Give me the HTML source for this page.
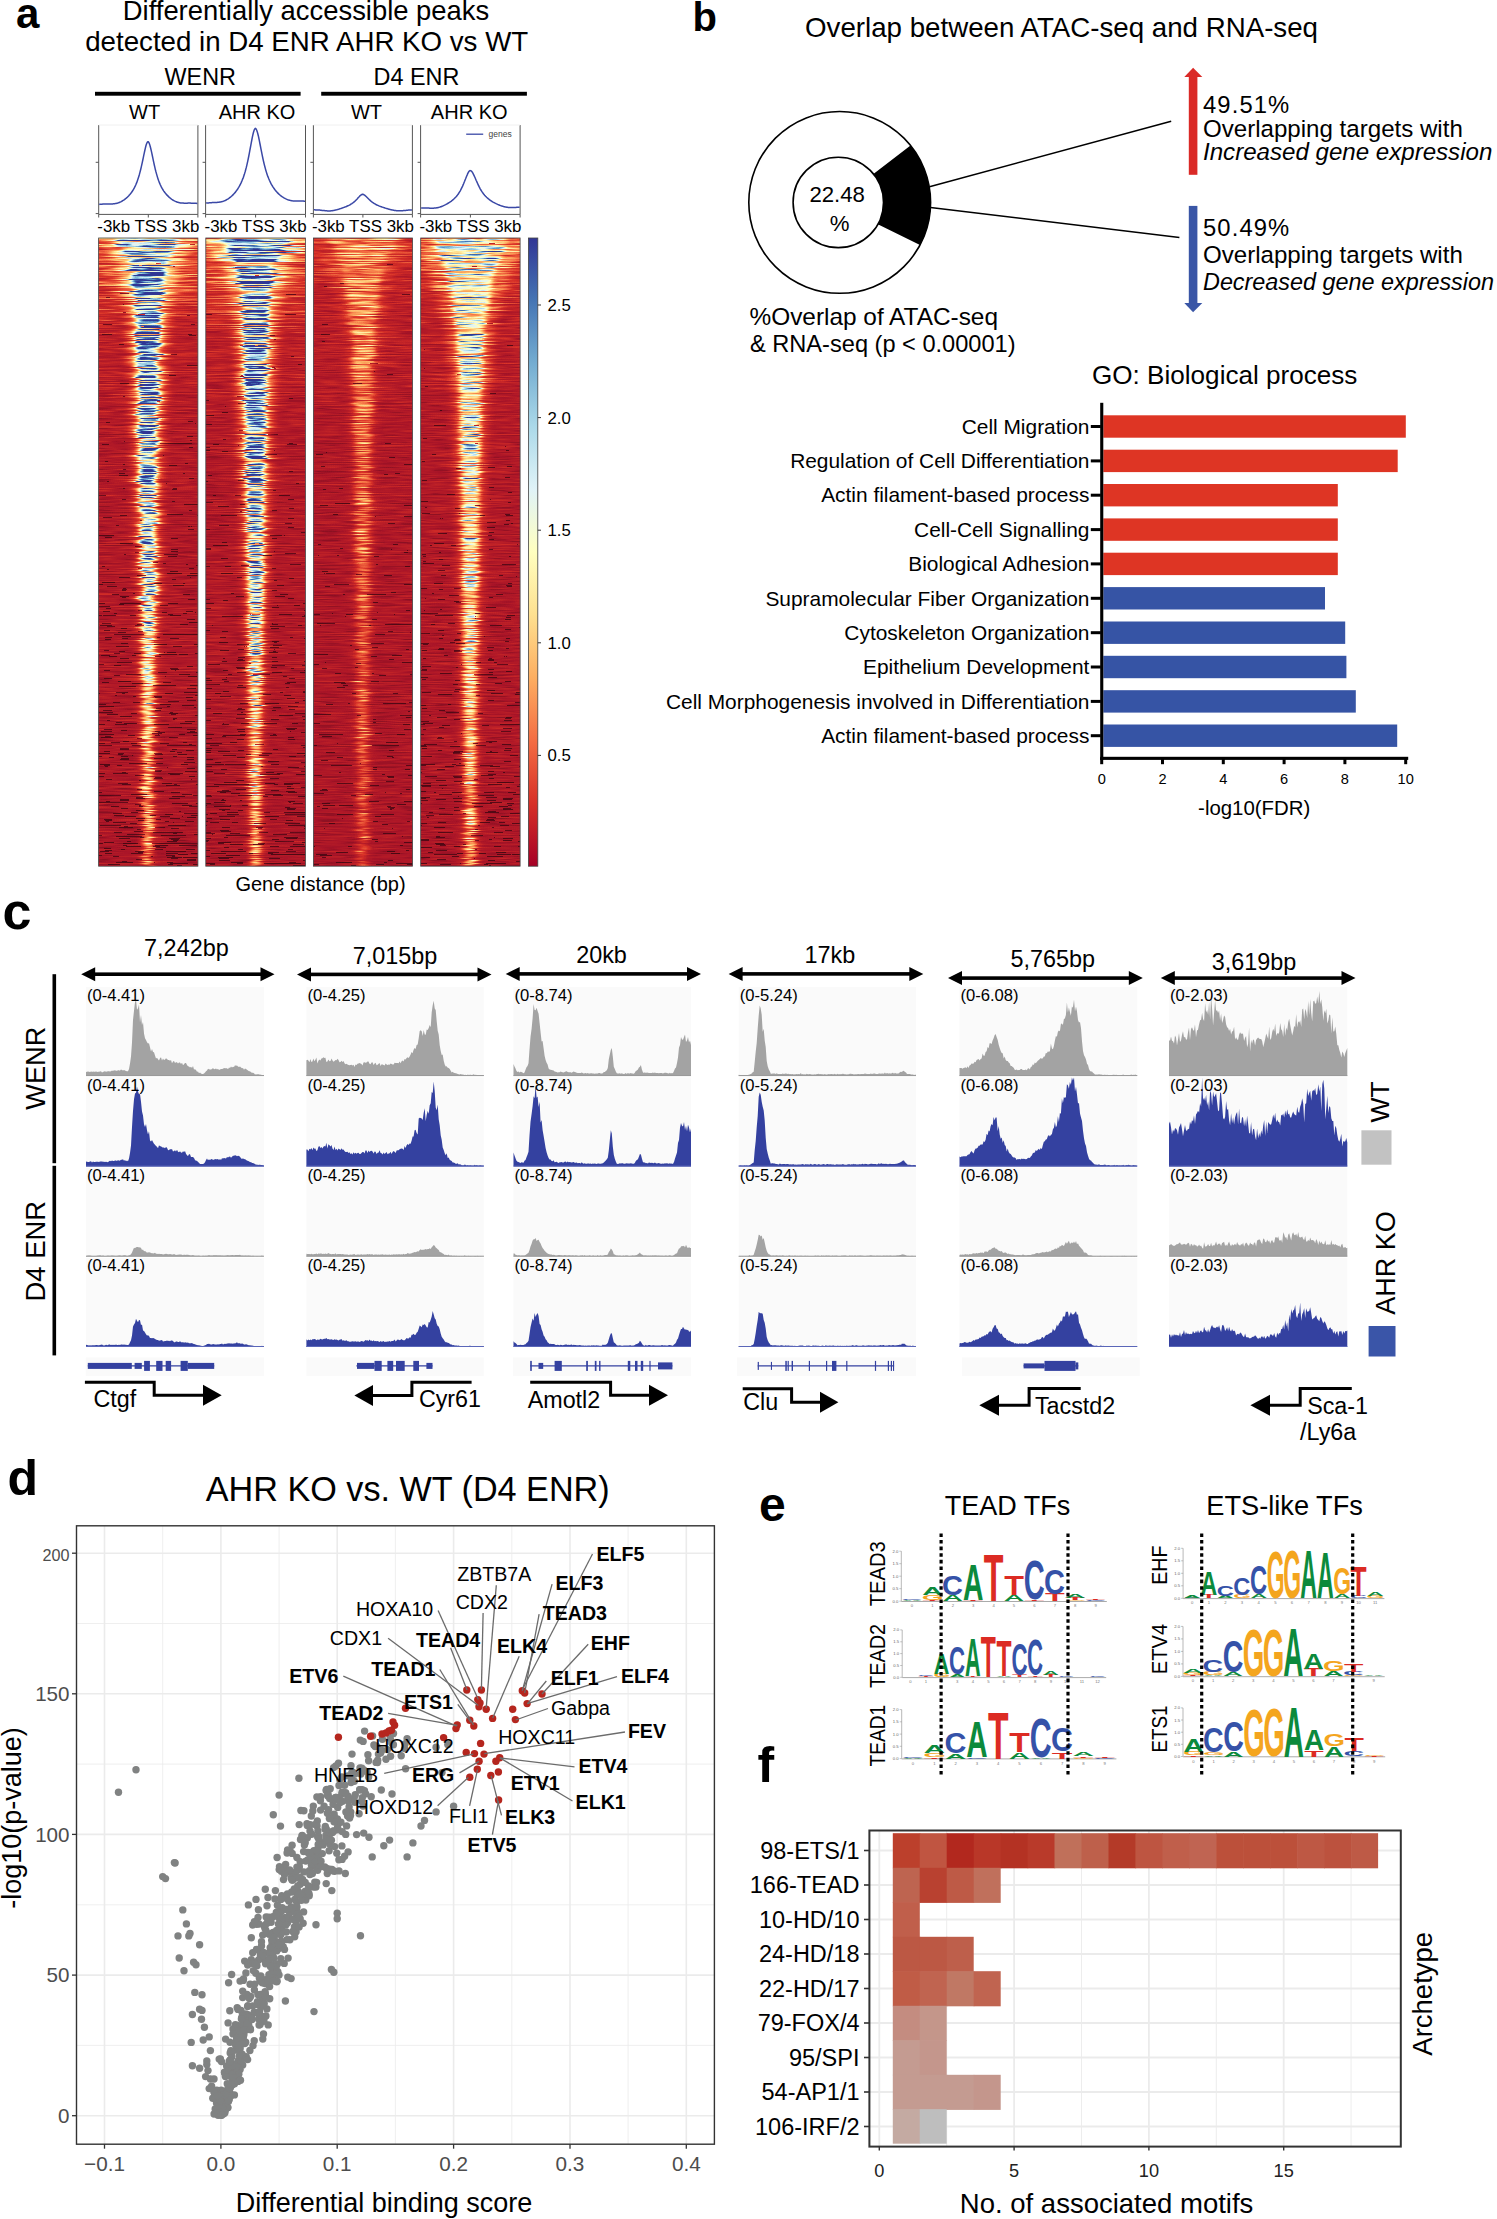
<!DOCTYPE html>
<html><head><meta charset="utf-8"><title>Figure</title>
<style>html,body{margin:0;padding:0;background:#fff;width:1497px;height:2219px}svg{display:block;font-family:"Liberation Sans",sans-serif}</style>
</head><body>
<svg width="1497" height="2219" viewBox="0 0 1497 2219">
<defs>
<filter id="hmf0" x="86.6" y="238" width="123.3" height="628.2" filterUnits="userSpaceOnUse" color-interpolation-filters="sRGB">
<feTurbulence type="fractalNoise" baseFrequency="0.004 0.6" numOctaves="1" seed="43" result="dt"/>
<feColorMatrix in="dt" type="matrix" values="2 0 0 0 -0.5 0 0 0 0 0.5 0 0 0 0 0 0 0 0 0 1" result="dm"/>
<feDisplacementMap in="SourceGraphic" in2="dm" scale="7.5" xChannelSelector="R" yChannelSelector="G" result="src"/>
<feTurbulence type="fractalNoise" baseFrequency="0.035 0.9" numOctaves="2" seed="3" result="t"/>
<feColorMatrix in="t" type="matrix" values="1 0 0 0 0 1 0 0 0 0 1 0 0 0 0 0 0 0 0 1" result="n0"/>
<feComponentTransfer in="n0" result="n"><feFuncR type="linear" slope="2.4" intercept="-0.7"/><feFuncG type="linear" slope="2.4" intercept="-0.7"/><feFuncB type="linear" slope="2.4" intercept="-0.7"/></feComponentTransfer>
<feColorMatrix in="src" type="matrix" values="1 0 0 0 0 1 0 0 0 0 1 0 0 0 0 0 0 0 1 0" result="val"/>
<feColorMatrix in="src" type="matrix" values="0 0 1 0 0 0 0 1 0 0 0 0 1 0 0 0 0 0 1 0" result="dens"/>
<feComposite in="val" in2="n" operator="arithmetic" k1="0.850" k2="0.575" k3="-0.052" k4="0.026" result="v"/>
<feTurbulence type="fractalNoise" baseFrequency="0.006 1.3" numOctaves="1" seed="63" result="rt"/>
<feColorMatrix in="rt" type="matrix" values="3 0 0 0 -1 3 0 0 0 -1 3 0 0 0 -1 0 0 0 0 1" result="rf"/>
<feComposite in="v" in2="rf" operator="arithmetic" k1="1.100" k2="0.450" k3="-0.1320" k4="0.0660" result="vr"/>
<feTurbulence type="fractalNoise" baseFrequency="0.06 0.9" numOctaves="1" seed="23" result="t2"/>
<feColorMatrix in="t2" type="matrix" values="1 0 0 0 0 1 0 0 0 0 1 0 0 0 0 0 0 0 0 1" result="n2"/>
<feComposite in="n2" in2="dens" operator="arithmetic" k2="1" k3="0.17" result="nd"/>
<feComponentTransfer in="nd" result="m"><feFuncR type="discrete" tableValues="1 1 1 1 1 1 1 1 1 1 1 1 1 1 1 1 1 1 1 1 1 1 1 1 1 1 1 1 1 1 1 1 1 1 1 1 1 1 1 1 1 1 1 1 1 1 1 1 1 1 1 1 1 1 1 1 1 1 1 1 1 1 1 1 1 1 1 1 1 1 1 1 1 1 1 1 1 0.32 0.32 0.32 0.32 0.32 0.32 0.32 0.32 0.32 0.32 0.32 0.32 0.32 0.32 0.32 0.32 0.32 0.32 0.32 0.32 0.32 0.32 0.32"/><feFuncG type="discrete" tableValues="1 1 1 1 1 1 1 1 1 1 1 1 1 1 1 1 1 1 1 1 1 1 1 1 1 1 1 1 1 1 1 1 1 1 1 1 1 1 1 1 1 1 1 1 1 1 1 1 1 1 1 1 1 1 1 1 1 1 1 1 1 1 1 1 1 1 1 1 1 1 1 1 1 1 1 1 1 0.32 0.32 0.32 0.32 0.32 0.32 0.32 0.32 0.32 0.32 0.32 0.32 0.32 0.32 0.32 0.32 0.32 0.32 0.32 0.32 0.32 0.32 0.32"/><feFuncB type="discrete" tableValues="1 1 1 1 1 1 1 1 1 1 1 1 1 1 1 1 1 1 1 1 1 1 1 1 1 1 1 1 1 1 1 1 1 1 1 1 1 1 1 1 1 1 1 1 1 1 1 1 1 1 1 1 1 1 1 1 1 1 1 1 1 1 1 1 1 1 1 1 1 1 1 1 1 1 1 1 1 0.32 0.32 0.32 0.32 0.32 0.32 0.32 0.32 0.32 0.32 0.32 0.32 0.32 0.32 0.32 0.32 0.32 0.32 0.32 0.32 0.32 0.32 0.32"/></feComponentTransfer>
<feComposite in="vr" in2="m" operator="arithmetic" k1="1" result="v2"/>
<feComponentTransfer in="v2"><feFuncR type="table" tableValues="0.160 0.195 0.229 0.264 0.299 0.333 0.368 0.402 0.437 0.472 0.506 0.541 0.576 0.610 0.645 0.669 0.687 0.704 0.722 0.739 0.757 0.774 0.791 0.809 0.826 0.844 0.854 0.865 0.876 0.887 0.897 0.908 0.919 0.930 0.940 0.951 0.958 0.962 0.965 0.968 0.972 0.975 0.979 0.982 0.985 0.989 0.992 0.992 0.993 0.993 0.994 0.994 0.994 0.995 0.995 0.995 0.996 0.996 0.997 0.997 0.997 0.998 0.998 0.998 0.999 0.999 1.000 1.000 0.991 0.979 0.968 0.956 0.945 0.933 0.922 0.910 0.899 0.887 0.874 0.854 0.834 0.815 0.795 0.775 0.756 0.736 0.716 0.697 0.677 0.657 0.636 0.616 0.595 0.575 0.555 0.534 0.514 0.493 0.473 0.453 0.435 0.418 0.400 0.383 0.366 0.348 0.331 0.313 0.296 0.278 0.266 0.259 0.252 0.244 0.237 0.229 0.222 0.214 0.207 0.200 0.192"/><feFuncG type="table" tableValues="0.020 0.024 0.028 0.032 0.036 0.040 0.044 0.048 0.052 0.057 0.061 0.065 0.069 0.073 0.077 0.085 0.095 0.105 0.116 0.126 0.137 0.147 0.157 0.168 0.178 0.189 0.212 0.234 0.257 0.280 0.302 0.325 0.348 0.370 0.393 0.416 0.439 0.463 0.487 0.511 0.536 0.560 0.584 0.608 0.632 0.656 0.680 0.699 0.718 0.737 0.755 0.774 0.792 0.811 0.829 0.848 0.867 0.883 0.894 0.906 0.917 0.929 0.940 0.952 0.963 0.975 0.986 0.998 0.996 0.992 0.988 0.983 0.979 0.974 0.970 0.965 0.961 0.956 0.951 0.941 0.931 0.922 0.912 0.902 0.893 0.883 0.873 0.864 0.854 0.840 0.824 0.807 0.791 0.775 0.758 0.742 0.725 0.709 0.693 0.676 0.655 0.634 0.614 0.593 0.572 0.551 0.530 0.510 0.489 0.468 0.446 0.422 0.399 0.376 0.352 0.329 0.305 0.282 0.259 0.235 0.212"/><feFuncB type="table" tableValues="0.050 0.057 0.065 0.072 0.080 0.087 0.095 0.102 0.109 0.117 0.124 0.132 0.139 0.146 0.154 0.157 0.156 0.156 0.156 0.155 0.155 0.154 0.154 0.154 0.153 0.153 0.164 0.174 0.185 0.195 0.205 0.216 0.226 0.237 0.247 0.257 0.268 0.279 0.290 0.302 0.313 0.324 0.335 0.346 0.357 0.368 0.380 0.396 0.414 0.431 0.449 0.466 0.484 0.501 0.519 0.536 0.554 0.571 0.588 0.606 0.623 0.641 0.658 0.676 0.693 0.711 0.728 0.746 0.766 0.787 0.808 0.829 0.851 0.872 0.893 0.914 0.935 0.956 0.971 0.966 0.960 0.955 0.949 0.943 0.938 0.932 0.927 0.921 0.916 0.908 0.899 0.890 0.881 0.872 0.863 0.854 0.845 0.836 0.827 0.818 0.808 0.797 0.786 0.775 0.764 0.754 0.743 0.732 0.721 0.711 0.699 0.688 0.676 0.665 0.653 0.642 0.630 0.619 0.607 0.596 0.584"/></feComponentTransfer>
</filter>
<clipPath id="hcp0"><rect x="98.6" y="238" width="99.3" height="628.2"/></clipPath>
<linearGradient id="hbg0" x1="0" y1="0" x2="0" y2="1"><stop offset="0" stop-color="#2f2f00"/><stop offset="0.15" stop-color="#292926"/><stop offset="0.3" stop-color="#24244c"/><stop offset="0.5" stop-color="#232380"/><stop offset="0.7" stop-color="#2323b2"/><stop offset="0.85" stop-color="#2222d9"/><stop offset="1.0" stop-color="#2121ff"/></linearGradient>
<linearGradient id="hbd0" x1="0" y1="0" x2="0" y2="1"><stop offset="0.000" stop-color="#bfbf00"/><stop offset="0.040" stop-color="#d7d700"/><stop offset="0.100" stop-color="#e7e700"/><stop offset="0.200" stop-color="#ebeb00"/><stop offset="0.350" stop-color="#d7d700"/><stop offset="0.500" stop-color="#bfbf00"/><stop offset="0.650" stop-color="#9b9b00"/><stop offset="0.800" stop-color="#777700"/><stop offset="1.000" stop-color="#5b5b00"/></linearGradient>
<linearGradient id="htp0" x1="0" y1="0" x2="1" y2="0"><stop offset="0" stop-color="#3b3b00"/><stop offset="0.3" stop-color="#636300"/><stop offset="0.7" stop-color="#636300"/><stop offset="1" stop-color="#3b3b00"/></linearGradient>
<linearGradient id="htm0" x1="0" y1="0" x2="0" y2="1"><stop offset="0" stop-color="#fff" stop-opacity="0.9"/><stop offset="1" stop-color="#fff" stop-opacity="0"/></linearGradient>
<mask id="htk0" maskUnits="userSpaceOnUse" x="86.6" y="238" width="123.3" height="94.2"><rect x="86.6" y="238" width="123.3" height="94.2" fill="url(#htm0)"/></mask>
<filter id="hmf1" x="193.8" y="238" width="123.6" height="628.2" filterUnits="userSpaceOnUse" color-interpolation-filters="sRGB">
<feTurbulence type="fractalNoise" baseFrequency="0.004 0.6" numOctaves="1" seed="51" result="dt"/>
<feColorMatrix in="dt" type="matrix" values="2 0 0 0 -0.5 0 0 0 0 0.5 0 0 0 0 0 0 0 0 0 1" result="dm"/>
<feDisplacementMap in="SourceGraphic" in2="dm" scale="7.5" xChannelSelector="R" yChannelSelector="G" result="src"/>
<feTurbulence type="fractalNoise" baseFrequency="0.035 0.9" numOctaves="2" seed="11" result="t"/>
<feColorMatrix in="t" type="matrix" values="1 0 0 0 0 1 0 0 0 0 1 0 0 0 0 0 0 0 0 1" result="n0"/>
<feComponentTransfer in="n0" result="n"><feFuncR type="linear" slope="2.4" intercept="-0.7"/><feFuncG type="linear" slope="2.4" intercept="-0.7"/><feFuncB type="linear" slope="2.4" intercept="-0.7"/></feComponentTransfer>
<feColorMatrix in="src" type="matrix" values="1 0 0 0 0 1 0 0 0 0 1 0 0 0 0 0 0 0 1 0" result="val"/>
<feColorMatrix in="src" type="matrix" values="0 0 1 0 0 0 0 1 0 0 0 0 1 0 0 0 0 0 1 0" result="dens"/>
<feComposite in="val" in2="n" operator="arithmetic" k1="0.850" k2="0.575" k3="-0.052" k4="0.026" result="v"/>
<feTurbulence type="fractalNoise" baseFrequency="0.006 1.3" numOctaves="1" seed="71" result="rt"/>
<feColorMatrix in="rt" type="matrix" values="3 0 0 0 -1 3 0 0 0 -1 3 0 0 0 -1 0 0 0 0 1" result="rf"/>
<feComposite in="v" in2="rf" operator="arithmetic" k1="1.100" k2="0.450" k3="-0.1320" k4="0.0660" result="vr"/>
<feTurbulence type="fractalNoise" baseFrequency="0.06 0.9" numOctaves="1" seed="31" result="t2"/>
<feColorMatrix in="t2" type="matrix" values="1 0 0 0 0 1 0 0 0 0 1 0 0 0 0 0 0 0 0 1" result="n2"/>
<feComposite in="n2" in2="dens" operator="arithmetic" k2="1" k3="0.17" result="nd"/>
<feComponentTransfer in="nd" result="m"><feFuncR type="discrete" tableValues="1 1 1 1 1 1 1 1 1 1 1 1 1 1 1 1 1 1 1 1 1 1 1 1 1 1 1 1 1 1 1 1 1 1 1 1 1 1 1 1 1 1 1 1 1 1 1 1 1 1 1 1 1 1 1 1 1 1 1 1 1 1 1 1 1 1 1 1 1 1 1 1 1 1 1 1 1 0.32 0.32 0.32 0.32 0.32 0.32 0.32 0.32 0.32 0.32 0.32 0.32 0.32 0.32 0.32 0.32 0.32 0.32 0.32 0.32 0.32 0.32 0.32"/><feFuncG type="discrete" tableValues="1 1 1 1 1 1 1 1 1 1 1 1 1 1 1 1 1 1 1 1 1 1 1 1 1 1 1 1 1 1 1 1 1 1 1 1 1 1 1 1 1 1 1 1 1 1 1 1 1 1 1 1 1 1 1 1 1 1 1 1 1 1 1 1 1 1 1 1 1 1 1 1 1 1 1 1 1 0.32 0.32 0.32 0.32 0.32 0.32 0.32 0.32 0.32 0.32 0.32 0.32 0.32 0.32 0.32 0.32 0.32 0.32 0.32 0.32 0.32 0.32 0.32"/><feFuncB type="discrete" tableValues="1 1 1 1 1 1 1 1 1 1 1 1 1 1 1 1 1 1 1 1 1 1 1 1 1 1 1 1 1 1 1 1 1 1 1 1 1 1 1 1 1 1 1 1 1 1 1 1 1 1 1 1 1 1 1 1 1 1 1 1 1 1 1 1 1 1 1 1 1 1 1 1 1 1 1 1 1 0.32 0.32 0.32 0.32 0.32 0.32 0.32 0.32 0.32 0.32 0.32 0.32 0.32 0.32 0.32 0.32 0.32 0.32 0.32 0.32 0.32 0.32 0.32"/></feComponentTransfer>
<feComposite in="vr" in2="m" operator="arithmetic" k1="1" result="v2"/>
<feComponentTransfer in="v2"><feFuncR type="table" tableValues="0.160 0.195 0.229 0.264 0.299 0.333 0.368 0.402 0.437 0.472 0.506 0.541 0.576 0.610 0.645 0.669 0.687 0.704 0.722 0.739 0.757 0.774 0.791 0.809 0.826 0.844 0.854 0.865 0.876 0.887 0.897 0.908 0.919 0.930 0.940 0.951 0.958 0.962 0.965 0.968 0.972 0.975 0.979 0.982 0.985 0.989 0.992 0.992 0.993 0.993 0.994 0.994 0.994 0.995 0.995 0.995 0.996 0.996 0.997 0.997 0.997 0.998 0.998 0.998 0.999 0.999 1.000 1.000 0.991 0.979 0.968 0.956 0.945 0.933 0.922 0.910 0.899 0.887 0.874 0.854 0.834 0.815 0.795 0.775 0.756 0.736 0.716 0.697 0.677 0.657 0.636 0.616 0.595 0.575 0.555 0.534 0.514 0.493 0.473 0.453 0.435 0.418 0.400 0.383 0.366 0.348 0.331 0.313 0.296 0.278 0.266 0.259 0.252 0.244 0.237 0.229 0.222 0.214 0.207 0.200 0.192"/><feFuncG type="table" tableValues="0.020 0.024 0.028 0.032 0.036 0.040 0.044 0.048 0.052 0.057 0.061 0.065 0.069 0.073 0.077 0.085 0.095 0.105 0.116 0.126 0.137 0.147 0.157 0.168 0.178 0.189 0.212 0.234 0.257 0.280 0.302 0.325 0.348 0.370 0.393 0.416 0.439 0.463 0.487 0.511 0.536 0.560 0.584 0.608 0.632 0.656 0.680 0.699 0.718 0.737 0.755 0.774 0.792 0.811 0.829 0.848 0.867 0.883 0.894 0.906 0.917 0.929 0.940 0.952 0.963 0.975 0.986 0.998 0.996 0.992 0.988 0.983 0.979 0.974 0.970 0.965 0.961 0.956 0.951 0.941 0.931 0.922 0.912 0.902 0.893 0.883 0.873 0.864 0.854 0.840 0.824 0.807 0.791 0.775 0.758 0.742 0.725 0.709 0.693 0.676 0.655 0.634 0.614 0.593 0.572 0.551 0.530 0.510 0.489 0.468 0.446 0.422 0.399 0.376 0.352 0.329 0.305 0.282 0.259 0.235 0.212"/><feFuncB type="table" tableValues="0.050 0.057 0.065 0.072 0.080 0.087 0.095 0.102 0.109 0.117 0.124 0.132 0.139 0.146 0.154 0.157 0.156 0.156 0.156 0.155 0.155 0.154 0.154 0.154 0.153 0.153 0.164 0.174 0.185 0.195 0.205 0.216 0.226 0.237 0.247 0.257 0.268 0.279 0.290 0.302 0.313 0.324 0.335 0.346 0.357 0.368 0.380 0.396 0.414 0.431 0.449 0.466 0.484 0.501 0.519 0.536 0.554 0.571 0.588 0.606 0.623 0.641 0.658 0.676 0.693 0.711 0.728 0.746 0.766 0.787 0.808 0.829 0.851 0.872 0.893 0.914 0.935 0.956 0.971 0.966 0.960 0.955 0.949 0.943 0.938 0.932 0.927 0.921 0.916 0.908 0.899 0.890 0.881 0.872 0.863 0.854 0.845 0.836 0.827 0.818 0.808 0.797 0.786 0.775 0.764 0.754 0.743 0.732 0.721 0.711 0.699 0.688 0.676 0.665 0.653 0.642 0.630 0.619 0.607 0.596 0.584"/></feComponentTransfer>
</filter>
<clipPath id="hcp1"><rect x="205.8" y="238" width="99.6" height="628.2"/></clipPath>
<linearGradient id="hbg1" x1="0" y1="0" x2="0" y2="1"><stop offset="0" stop-color="#2f2f00"/><stop offset="0.15" stop-color="#292926"/><stop offset="0.3" stop-color="#24244c"/><stop offset="0.5" stop-color="#232380"/><stop offset="0.7" stop-color="#2323b2"/><stop offset="0.85" stop-color="#2222d9"/><stop offset="1.0" stop-color="#2121ff"/></linearGradient>
<linearGradient id="hbd1" x1="0" y1="0" x2="0" y2="1"><stop offset="0.000" stop-color="#c7c700"/><stop offset="0.040" stop-color="#dfdf00"/><stop offset="0.100" stop-color="#ebeb00"/><stop offset="0.200" stop-color="#efef00"/><stop offset="0.350" stop-color="#dbdb00"/><stop offset="0.500" stop-color="#c3c300"/><stop offset="0.650" stop-color="#9f9f00"/><stop offset="0.800" stop-color="#7b7b00"/><stop offset="1.000" stop-color="#5f5f00"/></linearGradient>
<linearGradient id="htp1" x1="0" y1="0" x2="1" y2="0"><stop offset="0" stop-color="#3b3b00"/><stop offset="0.3" stop-color="#676700"/><stop offset="0.7" stop-color="#676700"/><stop offset="1" stop-color="#3b3b00"/></linearGradient>
<linearGradient id="htm1" x1="0" y1="0" x2="0" y2="1"><stop offset="0" stop-color="#fff" stop-opacity="0.9"/><stop offset="1" stop-color="#fff" stop-opacity="0"/></linearGradient>
<mask id="htk1" maskUnits="userSpaceOnUse" x="193.8" y="238" width="123.6" height="94.2"><rect x="193.8" y="238" width="123.6" height="94.2" fill="url(#htm1)"/></mask>
<filter id="hmf2" x="301.4" y="238" width="123.1" height="628.2" filterUnits="userSpaceOnUse" color-interpolation-filters="sRGB">
<feTurbulence type="fractalNoise" baseFrequency="0.004 0.6" numOctaves="1" seed="45" result="dt"/>
<feColorMatrix in="dt" type="matrix" values="2 0 0 0 -0.5 0 0 0 0 0.5 0 0 0 0 0 0 0 0 0 1" result="dm"/>
<feDisplacementMap in="SourceGraphic" in2="dm" scale="7.5" xChannelSelector="R" yChannelSelector="G" result="src"/>
<feTurbulence type="fractalNoise" baseFrequency="0.035 0.9" numOctaves="2" seed="5" result="t"/>
<feColorMatrix in="t" type="matrix" values="1 0 0 0 0 1 0 0 0 0 1 0 0 0 0 0 0 0 0 1" result="n0"/>
<feComponentTransfer in="n0" result="n"><feFuncR type="linear" slope="2.4" intercept="-0.7"/><feFuncG type="linear" slope="2.4" intercept="-0.7"/><feFuncB type="linear" slope="2.4" intercept="-0.7"/></feComponentTransfer>
<feColorMatrix in="src" type="matrix" values="1 0 0 0 0 1 0 0 0 0 1 0 0 0 0 0 0 0 1 0" result="val"/>
<feColorMatrix in="src" type="matrix" values="0 0 1 0 0 0 0 1 0 0 0 0 1 0 0 0 0 0 1 0" result="dens"/>
<feComposite in="val" in2="n" operator="arithmetic" k1="0.900" k2="0.550" k3="-0.058" k4="0.029" result="v"/>
<feTurbulence type="fractalNoise" baseFrequency="0.006 1.3" numOctaves="1" seed="65" result="rt"/>
<feColorMatrix in="rt" type="matrix" values="3 0 0 0 -1 3 0 0 0 -1 3 0 0 0 -1 0 0 0 0 1" result="rf"/>
<feComposite in="v" in2="rf" operator="arithmetic" k1="1.000" k2="0.500" k3="-0.1200" k4="0.0600" result="vr"/>
<feTurbulence type="fractalNoise" baseFrequency="0.06 0.9" numOctaves="1" seed="25" result="t2"/>
<feColorMatrix in="t2" type="matrix" values="1 0 0 0 0 1 0 0 0 0 1 0 0 0 0 0 0 0 0 1" result="n2"/>
<feComposite in="n2" in2="dens" operator="arithmetic" k2="1" k3="0.17" result="nd"/>
<feComponentTransfer in="nd" result="m"><feFuncR type="discrete" tableValues="1 1 1 1 1 1 1 1 1 1 1 1 1 1 1 1 1 1 1 1 1 1 1 1 1 1 1 1 1 1 1 1 1 1 1 1 1 1 1 1 1 1 1 1 1 1 1 1 1 1 1 1 1 1 1 1 1 1 1 1 1 1 1 1 1 1 1 1 1 1 1 1 1 1 1 1 1 0.32 0.32 0.32 0.32 0.32 0.32 0.32 0.32 0.32 0.32 0.32 0.32 0.32 0.32 0.32 0.32 0.32 0.32 0.32 0.32 0.32 0.32 0.32"/><feFuncG type="discrete" tableValues="1 1 1 1 1 1 1 1 1 1 1 1 1 1 1 1 1 1 1 1 1 1 1 1 1 1 1 1 1 1 1 1 1 1 1 1 1 1 1 1 1 1 1 1 1 1 1 1 1 1 1 1 1 1 1 1 1 1 1 1 1 1 1 1 1 1 1 1 1 1 1 1 1 1 1 1 1 0.32 0.32 0.32 0.32 0.32 0.32 0.32 0.32 0.32 0.32 0.32 0.32 0.32 0.32 0.32 0.32 0.32 0.32 0.32 0.32 0.32 0.32 0.32"/><feFuncB type="discrete" tableValues="1 1 1 1 1 1 1 1 1 1 1 1 1 1 1 1 1 1 1 1 1 1 1 1 1 1 1 1 1 1 1 1 1 1 1 1 1 1 1 1 1 1 1 1 1 1 1 1 1 1 1 1 1 1 1 1 1 1 1 1 1 1 1 1 1 1 1 1 1 1 1 1 1 1 1 1 1 0.32 0.32 0.32 0.32 0.32 0.32 0.32 0.32 0.32 0.32 0.32 0.32 0.32 0.32 0.32 0.32 0.32 0.32 0.32 0.32 0.32 0.32 0.32"/></feComponentTransfer>
<feComposite in="vr" in2="m" operator="arithmetic" k1="1" result="v2"/>
<feComponentTransfer in="v2"><feFuncR type="table" tableValues="0.160 0.195 0.229 0.264 0.299 0.333 0.368 0.402 0.437 0.472 0.506 0.541 0.576 0.610 0.645 0.669 0.687 0.704 0.722 0.739 0.757 0.774 0.791 0.809 0.826 0.844 0.854 0.865 0.876 0.887 0.897 0.908 0.919 0.930 0.940 0.951 0.958 0.962 0.965 0.968 0.972 0.975 0.979 0.982 0.985 0.989 0.992 0.992 0.993 0.993 0.994 0.994 0.994 0.995 0.995 0.995 0.996 0.996 0.997 0.997 0.997 0.998 0.998 0.998 0.999 0.999 1.000 1.000 0.991 0.979 0.968 0.956 0.945 0.933 0.922 0.910 0.899 0.887 0.874 0.854 0.834 0.815 0.795 0.775 0.756 0.736 0.716 0.697 0.677 0.657 0.636 0.616 0.595 0.575 0.555 0.534 0.514 0.493 0.473 0.453 0.435 0.418 0.400 0.383 0.366 0.348 0.331 0.313 0.296 0.278 0.266 0.259 0.252 0.244 0.237 0.229 0.222 0.214 0.207 0.200 0.192"/><feFuncG type="table" tableValues="0.020 0.024 0.028 0.032 0.036 0.040 0.044 0.048 0.052 0.057 0.061 0.065 0.069 0.073 0.077 0.085 0.095 0.105 0.116 0.126 0.137 0.147 0.157 0.168 0.178 0.189 0.212 0.234 0.257 0.280 0.302 0.325 0.348 0.370 0.393 0.416 0.439 0.463 0.487 0.511 0.536 0.560 0.584 0.608 0.632 0.656 0.680 0.699 0.718 0.737 0.755 0.774 0.792 0.811 0.829 0.848 0.867 0.883 0.894 0.906 0.917 0.929 0.940 0.952 0.963 0.975 0.986 0.998 0.996 0.992 0.988 0.983 0.979 0.974 0.970 0.965 0.961 0.956 0.951 0.941 0.931 0.922 0.912 0.902 0.893 0.883 0.873 0.864 0.854 0.840 0.824 0.807 0.791 0.775 0.758 0.742 0.725 0.709 0.693 0.676 0.655 0.634 0.614 0.593 0.572 0.551 0.530 0.510 0.489 0.468 0.446 0.422 0.399 0.376 0.352 0.329 0.305 0.282 0.259 0.235 0.212"/><feFuncB type="table" tableValues="0.050 0.057 0.065 0.072 0.080 0.087 0.095 0.102 0.109 0.117 0.124 0.132 0.139 0.146 0.154 0.157 0.156 0.156 0.156 0.155 0.155 0.154 0.154 0.154 0.153 0.153 0.164 0.174 0.185 0.195 0.205 0.216 0.226 0.237 0.247 0.257 0.268 0.279 0.290 0.302 0.313 0.324 0.335 0.346 0.357 0.368 0.380 0.396 0.414 0.431 0.449 0.466 0.484 0.501 0.519 0.536 0.554 0.571 0.588 0.606 0.623 0.641 0.658 0.676 0.693 0.711 0.728 0.746 0.766 0.787 0.808 0.829 0.851 0.872 0.893 0.914 0.935 0.956 0.971 0.966 0.960 0.955 0.949 0.943 0.938 0.932 0.927 0.921 0.916 0.908 0.899 0.890 0.881 0.872 0.863 0.854 0.845 0.836 0.827 0.818 0.808 0.797 0.786 0.775 0.764 0.754 0.743 0.732 0.721 0.711 0.699 0.688 0.676 0.665 0.653 0.642 0.630 0.619 0.607 0.596 0.584"/></feComponentTransfer>
</filter>
<clipPath id="hcp2"><rect x="313.4" y="238" width="99.1" height="628.2"/></clipPath>
<linearGradient id="hbg2" x1="0" y1="0" x2="0" y2="1"><stop offset="0" stop-color="#2b2b00"/><stop offset="0.15" stop-color="#272717"/><stop offset="0.3" stop-color="#23232e"/><stop offset="0.5" stop-color="#22224c"/><stop offset="0.7" stop-color="#22226b"/><stop offset="0.85" stop-color="#212182"/><stop offset="1.0" stop-color="#212199"/></linearGradient>
<linearGradient id="hbd2" x1="0" y1="0" x2="0" y2="1"><stop offset="0.000" stop-color="#5b5b00"/><stop offset="0.050" stop-color="#575700"/><stop offset="0.150" stop-color="#535300"/><stop offset="0.350" stop-color="#4f4f00"/><stop offset="0.600" stop-color="#484800"/><stop offset="1.000" stop-color="#404000"/></linearGradient>
<linearGradient id="htp2" x1="0" y1="0" x2="1" y2="0"><stop offset="0" stop-color="#2f2f00"/><stop offset="0.3" stop-color="#434300"/><stop offset="0.7" stop-color="#434300"/><stop offset="1" stop-color="#2f2f00"/></linearGradient>
<linearGradient id="htm2" x1="0" y1="0" x2="0" y2="1"><stop offset="0" stop-color="#fff" stop-opacity="0.9"/><stop offset="1" stop-color="#fff" stop-opacity="0"/></linearGradient>
<mask id="htk2" maskUnits="userSpaceOnUse" x="301.4" y="238" width="123.1" height="62.8"><rect x="301.4" y="238" width="123.1" height="62.8" fill="url(#htm2)"/></mask>
<filter id="hmf3" x="408.7" y="238" width="123.4" height="628.2" filterUnits="userSpaceOnUse" color-interpolation-filters="sRGB">
<feTurbulence type="fractalNoise" baseFrequency="0.004 0.6" numOctaves="1" seed="49" result="dt"/>
<feColorMatrix in="dt" type="matrix" values="2 0 0 0 -0.5 0 0 0 0 0.5 0 0 0 0 0 0 0 0 0 1" result="dm"/>
<feDisplacementMap in="SourceGraphic" in2="dm" scale="7.5" xChannelSelector="R" yChannelSelector="G" result="src"/>
<feTurbulence type="fractalNoise" baseFrequency="0.035 0.9" numOctaves="2" seed="9" result="t"/>
<feColorMatrix in="t" type="matrix" values="1 0 0 0 0 1 0 0 0 0 1 0 0 0 0 0 0 0 0 1" result="n0"/>
<feComponentTransfer in="n0" result="n"><feFuncR type="linear" slope="2.4" intercept="-0.7"/><feFuncG type="linear" slope="2.4" intercept="-0.7"/><feFuncB type="linear" slope="2.4" intercept="-0.7"/></feComponentTransfer>
<feColorMatrix in="src" type="matrix" values="1 0 0 0 0 1 0 0 0 0 1 0 0 0 0 0 0 0 1 0" result="val"/>
<feColorMatrix in="src" type="matrix" values="0 0 1 0 0 0 0 1 0 0 0 0 1 0 0 0 0 0 1 0" result="dens"/>
<feComposite in="val" in2="n" operator="arithmetic" k1="0.900" k2="0.550" k3="-0.058" k4="0.029" result="v"/>
<feTurbulence type="fractalNoise" baseFrequency="0.006 1.3" numOctaves="1" seed="69" result="rt"/>
<feColorMatrix in="rt" type="matrix" values="3 0 0 0 -1 3 0 0 0 -1 3 0 0 0 -1 0 0 0 0 1" result="rf"/>
<feComposite in="v" in2="rf" operator="arithmetic" k1="1.000" k2="0.500" k3="-0.1200" k4="0.0600" result="vr"/>
<feTurbulence type="fractalNoise" baseFrequency="0.06 0.9" numOctaves="1" seed="29" result="t2"/>
<feColorMatrix in="t2" type="matrix" values="1 0 0 0 0 1 0 0 0 0 1 0 0 0 0 0 0 0 0 1" result="n2"/>
<feComposite in="n2" in2="dens" operator="arithmetic" k2="1" k3="0.17" result="nd"/>
<feComponentTransfer in="nd" result="m"><feFuncR type="discrete" tableValues="1 1 1 1 1 1 1 1 1 1 1 1 1 1 1 1 1 1 1 1 1 1 1 1 1 1 1 1 1 1 1 1 1 1 1 1 1 1 1 1 1 1 1 1 1 1 1 1 1 1 1 1 1 1 1 1 1 1 1 1 1 1 1 1 1 1 1 1 1 1 1 1 1 1 1 1 1 0.32 0.32 0.32 0.32 0.32 0.32 0.32 0.32 0.32 0.32 0.32 0.32 0.32 0.32 0.32 0.32 0.32 0.32 0.32 0.32 0.32 0.32 0.32"/><feFuncG type="discrete" tableValues="1 1 1 1 1 1 1 1 1 1 1 1 1 1 1 1 1 1 1 1 1 1 1 1 1 1 1 1 1 1 1 1 1 1 1 1 1 1 1 1 1 1 1 1 1 1 1 1 1 1 1 1 1 1 1 1 1 1 1 1 1 1 1 1 1 1 1 1 1 1 1 1 1 1 1 1 1 0.32 0.32 0.32 0.32 0.32 0.32 0.32 0.32 0.32 0.32 0.32 0.32 0.32 0.32 0.32 0.32 0.32 0.32 0.32 0.32 0.32 0.32 0.32"/><feFuncB type="discrete" tableValues="1 1 1 1 1 1 1 1 1 1 1 1 1 1 1 1 1 1 1 1 1 1 1 1 1 1 1 1 1 1 1 1 1 1 1 1 1 1 1 1 1 1 1 1 1 1 1 1 1 1 1 1 1 1 1 1 1 1 1 1 1 1 1 1 1 1 1 1 1 1 1 1 1 1 1 1 1 0.32 0.32 0.32 0.32 0.32 0.32 0.32 0.32 0.32 0.32 0.32 0.32 0.32 0.32 0.32 0.32 0.32 0.32 0.32 0.32 0.32 0.32 0.32"/></feComponentTransfer>
<feComposite in="vr" in2="m" operator="arithmetic" k1="1" result="v2"/>
<feComponentTransfer in="v2"><feFuncR type="table" tableValues="0.160 0.195 0.229 0.264 0.299 0.333 0.368 0.402 0.437 0.472 0.506 0.541 0.576 0.610 0.645 0.669 0.687 0.704 0.722 0.739 0.757 0.774 0.791 0.809 0.826 0.844 0.854 0.865 0.876 0.887 0.897 0.908 0.919 0.930 0.940 0.951 0.958 0.962 0.965 0.968 0.972 0.975 0.979 0.982 0.985 0.989 0.992 0.992 0.993 0.993 0.994 0.994 0.994 0.995 0.995 0.995 0.996 0.996 0.997 0.997 0.997 0.998 0.998 0.998 0.999 0.999 1.000 1.000 0.991 0.979 0.968 0.956 0.945 0.933 0.922 0.910 0.899 0.887 0.874 0.854 0.834 0.815 0.795 0.775 0.756 0.736 0.716 0.697 0.677 0.657 0.636 0.616 0.595 0.575 0.555 0.534 0.514 0.493 0.473 0.453 0.435 0.418 0.400 0.383 0.366 0.348 0.331 0.313 0.296 0.278 0.266 0.259 0.252 0.244 0.237 0.229 0.222 0.214 0.207 0.200 0.192"/><feFuncG type="table" tableValues="0.020 0.024 0.028 0.032 0.036 0.040 0.044 0.048 0.052 0.057 0.061 0.065 0.069 0.073 0.077 0.085 0.095 0.105 0.116 0.126 0.137 0.147 0.157 0.168 0.178 0.189 0.212 0.234 0.257 0.280 0.302 0.325 0.348 0.370 0.393 0.416 0.439 0.463 0.487 0.511 0.536 0.560 0.584 0.608 0.632 0.656 0.680 0.699 0.718 0.737 0.755 0.774 0.792 0.811 0.829 0.848 0.867 0.883 0.894 0.906 0.917 0.929 0.940 0.952 0.963 0.975 0.986 0.998 0.996 0.992 0.988 0.983 0.979 0.974 0.970 0.965 0.961 0.956 0.951 0.941 0.931 0.922 0.912 0.902 0.893 0.883 0.873 0.864 0.854 0.840 0.824 0.807 0.791 0.775 0.758 0.742 0.725 0.709 0.693 0.676 0.655 0.634 0.614 0.593 0.572 0.551 0.530 0.510 0.489 0.468 0.446 0.422 0.399 0.376 0.352 0.329 0.305 0.282 0.259 0.235 0.212"/><feFuncB type="table" tableValues="0.050 0.057 0.065 0.072 0.080 0.087 0.095 0.102 0.109 0.117 0.124 0.132 0.139 0.146 0.154 0.157 0.156 0.156 0.156 0.155 0.155 0.154 0.154 0.154 0.153 0.153 0.164 0.174 0.185 0.195 0.205 0.216 0.226 0.237 0.247 0.257 0.268 0.279 0.290 0.302 0.313 0.324 0.335 0.346 0.357 0.368 0.380 0.396 0.414 0.431 0.449 0.466 0.484 0.501 0.519 0.536 0.554 0.571 0.588 0.606 0.623 0.641 0.658 0.676 0.693 0.711 0.728 0.746 0.766 0.787 0.808 0.829 0.851 0.872 0.893 0.914 0.935 0.956 0.971 0.966 0.960 0.955 0.949 0.943 0.938 0.932 0.927 0.921 0.916 0.908 0.899 0.890 0.881 0.872 0.863 0.854 0.845 0.836 0.827 0.818 0.808 0.797 0.786 0.775 0.764 0.754 0.743 0.732 0.721 0.711 0.699 0.688 0.676 0.665 0.653 0.642 0.630 0.619 0.607 0.596 0.584"/></feComponentTransfer>
</filter>
<clipPath id="hcp3"><rect x="420.7" y="238" width="99.4" height="628.2"/></clipPath>
<linearGradient id="hbg3" x1="0" y1="0" x2="0" y2="1"><stop offset="0" stop-color="#2d2d00"/><stop offset="0.15" stop-color="#282822"/><stop offset="0.3" stop-color="#232345"/><stop offset="0.5" stop-color="#232373"/><stop offset="0.7" stop-color="#2222a1"/><stop offset="0.85" stop-color="#2222c3"/><stop offset="1.0" stop-color="#2121e6"/></linearGradient>
<linearGradient id="hbd3" x1="0" y1="0" x2="0" y2="1"><stop offset="0.000" stop-color="#8f8f00"/><stop offset="0.050" stop-color="#979700"/><stop offset="0.150" stop-color="#9b9b00"/><stop offset="0.300" stop-color="#979700"/><stop offset="0.500" stop-color="#8b8b00"/><stop offset="0.750" stop-color="#777700"/><stop offset="1.000" stop-color="#636300"/></linearGradient>
<linearGradient id="htp3" x1="0" y1="0" x2="1" y2="0"><stop offset="0" stop-color="#333300"/><stop offset="0.3" stop-color="#4f4f00"/><stop offset="0.7" stop-color="#4f4f00"/><stop offset="1" stop-color="#333300"/></linearGradient>
<linearGradient id="htm3" x1="0" y1="0" x2="0" y2="1"><stop offset="0" stop-color="#fff" stop-opacity="0.9"/><stop offset="1" stop-color="#fff" stop-opacity="0"/></linearGradient>
<mask id="htk3" maskUnits="userSpaceOnUse" x="408.7" y="238" width="123.4" height="75.4"><rect x="408.7" y="238" width="123.4" height="75.4" fill="url(#htm3)"/></mask>
<filter id="blr" x="-50%" y="-5%" width="200%" height="110%"><feGaussianBlur stdDeviation="2.5 1"/></filter>
<filter id="blr2" x="-50%" y="-5%" width="200%" height="110%"><feGaussianBlur stdDeviation="5 1"/></filter>
<linearGradient id="cbar" x1="0" y1="0" x2="0" y2="1"><stop offset="0.0" stop-color="#313695"/><stop offset="0.1" stop-color="#4575b4"/><stop offset="0.2" stop-color="#74add1"/><stop offset="0.3" stop-color="#abd9e9"/><stop offset="0.4" stop-color="#e0f3f8"/><stop offset="0.5" stop-color="#ffffbf"/><stop offset="0.6" stop-color="#fee090"/><stop offset="0.7" stop-color="#fdae61"/><stop offset="0.8" stop-color="#f46d43"/><stop offset="0.9" stop-color="#d73027"/><stop offset="1.0" stop-color="#a50026"/></linearGradient>




</defs>
<rect width="1497" height="2219" fill="#fff"/>
<text x="16" y="28" font-size="42" font-weight="bold">a</text>
<text x="306" y="20" font-size="27.4" text-anchor="middle">Differentially accessible peaks</text>
<text x="306.7" y="50.7" font-size="27.4" textLength="443" lengthAdjust="spacingAndGlyphs" text-anchor="middle">detected in D4 ENR AHR KO vs WT</text>
<text x="200.2" y="85.2" font-size="23.4" text-anchor="middle">WENR</text>
<text x="416.5" y="85.2" font-size="23.4" text-anchor="middle">D4 ENR</text>
<rect x="95" y="91.8" width="205.6" height="3.9" fill="#000"/>
<rect x="321.2" y="91.8" width="205.7" height="3.9" fill="#000"/>
<text x="144.6" y="119.4" font-size="20" text-anchor="middle">WT</text>
<text x="257" y="119.4" font-size="20" text-anchor="middle">AHR KO</text>
<text x="366.5" y="119.4" font-size="20" text-anchor="middle">WT</text>
<text x="469.2" y="119.4" font-size="20" text-anchor="middle">AHR KO</text>
<line x1="98.7" y1="125" x2="98.7" y2="214.4" stroke="#555" stroke-width="1"/>
<line x1="197.9" y1="125" x2="197.9" y2="214.4" stroke="#555" stroke-width="1"/>
<line x1="98.7" y1="214.4" x2="197.9" y2="214.4" stroke="#555" stroke-width="1"/>
<line x1="98.7" y1="125" x2="197.9" y2="125" stroke="#f0f0f0" stroke-width="1"/>
<line x1="98.7" y1="214.4" x2="98.7" y2="217.5" stroke="#555" stroke-width="1"/>
<line x1="148.3" y1="214.4" x2="148.3" y2="217.5" stroke="#555" stroke-width="1"/>
<line x1="197.9" y1="214.4" x2="197.9" y2="217.5" stroke="#555" stroke-width="1"/>
<line x1="95.7" y1="162.3" x2="98.7" y2="162.3" stroke="#555" stroke-width="1"/>
<line x1="95.7" y1="213.6" x2="98.7" y2="213.6" stroke="#555" stroke-width="1"/>
<path d="M99.2,204.4 L99.7,204.3 L100.2,204.3 L100.7,204.3 L101.2,204.2 L101.7,204.2 L102.2,204.2 L102.7,204.1 L103.2,204.1 L103.7,204.1 L104.2,204.1 L104.7,204.0 L105.2,204.0 L105.7,204.0 L106.2,204.0 L106.7,204.0 L107.2,204.0 L107.7,204.0 L108.2,204.0 L108.7,204.0 L109.2,203.9 L109.7,203.9 L110.2,203.9 L110.7,203.9 L111.2,203.9 L111.7,203.9 L112.2,203.9 L112.7,203.9 L113.2,203.8 L113.7,203.8 L114.2,203.7 L114.7,203.7 L115.2,203.6 L115.7,203.5 L116.2,203.4 L116.7,203.3 L117.2,203.2 L117.7,203.1 L118.2,202.9 L118.7,202.7 L119.2,202.5 L119.7,202.3 L120.2,202.1 L120.7,201.9 L121.2,201.6 L121.7,201.3 L122.2,201.0 L122.7,200.7 L123.2,200.4 L123.8,200.1 L124.3,199.7 L124.8,199.3 L125.3,198.9 L125.8,198.5 L126.3,198.1 L126.8,197.7 L127.3,197.2 L127.8,196.7 L128.3,196.2 L128.8,195.7 L129.3,195.1 L129.8,194.6 L130.3,194.0 L130.8,193.3 L131.3,192.7 L131.8,192.0 L132.3,191.3 L132.8,190.5 L133.3,189.7 L133.8,188.8 L134.3,187.9 L134.8,186.9 L135.3,185.9 L135.8,184.8 L136.3,183.6 L136.8,182.4 L137.3,181.0 L137.8,179.6 L138.3,178.1 L138.8,176.5 L139.3,174.8 L139.8,172.9 L140.3,171.0 L140.8,169.0 L141.3,166.9 L141.8,164.6 L142.3,162.3 L142.8,160.0 L143.3,157.6 L143.8,155.2 L144.3,152.8 L144.8,150.5 L145.3,148.3 L145.8,146.3 L146.3,144.6 L146.8,143.2 L147.3,142.3 L147.8,141.8 L148.3,141.8 L148.8,142.4 L149.3,143.5 L149.8,144.9 L150.3,146.7 L150.8,148.7 L151.3,150.8 L151.8,153.2 L152.3,155.5 L152.8,157.9 L153.3,160.3 L153.8,162.7 L154.3,165.0 L154.8,167.2 L155.3,169.3 L155.8,171.3 L156.3,173.1 L156.8,174.9 L157.3,176.6 L157.8,178.2 L158.3,179.7 L158.8,181.1 L159.3,182.4 L159.8,183.6 L160.3,184.8 L160.8,185.8 L161.3,186.9 L161.8,187.8 L162.3,188.7 L162.8,189.5 L163.3,190.3 L163.8,191.1 L164.3,191.8 L164.8,192.5 L165.3,193.1 L165.8,193.7 L166.3,194.3 L166.8,194.9 L167.3,195.4 L167.8,195.9 L168.3,196.4 L168.8,196.9 L169.3,197.3 L169.8,197.7 L170.3,198.2 L170.8,198.6 L171.3,198.9 L171.8,199.3 L172.3,199.6 L172.8,200.0 L173.4,200.3 L173.9,200.6 L174.4,200.9 L174.9,201.1 L175.4,201.4 L175.9,201.6 L176.4,201.8 L176.9,202.0 L177.4,202.2 L177.9,202.3 L178.4,202.5 L178.9,202.6 L179.4,202.7 L179.9,202.8 L180.4,202.9 L180.9,203.0 L181.4,203.0 L181.9,203.1 L182.4,203.1 L182.9,203.1 L183.4,203.1 L183.9,203.2 L184.4,203.2 L184.9,203.2 L185.4,203.2 L185.9,203.2 L186.4,203.2 L186.9,203.2 L187.4,203.2 L187.9,203.1 L188.4,203.1 L188.9,203.1 L189.4,203.1 L189.9,203.1 L190.4,203.1 L190.9,203.2 L191.4,203.2 L191.9,203.2 L192.4,203.2 L192.9,203.2 L193.4,203.2 L193.9,203.2 L194.4,203.3 L194.9,203.3 L195.4,203.3 L195.9,203.3 L196.4,203.3 L196.9,203.4 L197.4,203.4" fill="none" stroke="#3a48a6" stroke-width="1.5"/>
<text x="148.3" y="232" font-size="16.9" text-anchor="middle">-3kb TSS 3kb</text>
<line x1="205.6" y1="125" x2="205.6" y2="214.4" stroke="#555" stroke-width="1"/>
<line x1="305.5" y1="125" x2="305.5" y2="214.4" stroke="#555" stroke-width="1"/>
<line x1="205.6" y1="214.4" x2="305.5" y2="214.4" stroke="#555" stroke-width="1"/>
<line x1="205.6" y1="125" x2="305.5" y2="125" stroke="#f0f0f0" stroke-width="1"/>
<line x1="205.6" y1="214.4" x2="205.6" y2="217.5" stroke="#555" stroke-width="1"/>
<line x1="255.6" y1="214.4" x2="255.6" y2="217.5" stroke="#555" stroke-width="1"/>
<line x1="305.5" y1="214.4" x2="305.5" y2="217.5" stroke="#555" stroke-width="1"/>
<line x1="202.6" y1="162.3" x2="205.6" y2="162.3" stroke="#555" stroke-width="1"/>
<line x1="202.6" y1="213.6" x2="205.6" y2="213.6" stroke="#555" stroke-width="1"/>
<path d="M206.1,203.1 L206.6,203.0 L207.1,203.0 L207.6,202.9 L208.1,202.9 L208.6,202.9 L209.1,202.8 L209.6,202.8 L210.1,202.8 L210.6,202.7 L211.1,202.7 L211.6,202.7 L212.1,202.6 L212.6,202.6 L213.1,202.6 L213.6,202.6 L214.1,202.5 L214.6,202.5 L215.1,202.5 L215.6,202.5 L216.1,202.4 L216.6,202.4 L217.1,202.4 L217.6,202.3 L218.1,202.3 L218.7,202.2 L219.2,202.2 L219.7,202.1 L220.2,202.0 L220.7,201.9 L221.2,201.8 L221.7,201.7 L222.2,201.6 L222.7,201.4 L223.2,201.3 L223.7,201.1 L224.2,200.9 L224.7,200.7 L225.2,200.5 L225.7,200.2 L226.2,200.0 L226.7,199.7 L227.2,199.4 L227.7,199.1 L228.2,198.8 L228.7,198.4 L229.2,198.1 L229.7,197.7 L230.2,197.3 L230.7,196.9 L231.2,196.5 L231.7,196.0 L232.2,195.6 L232.7,195.1 L233.2,194.6 L233.7,194.1 L234.2,193.5 L234.7,192.9 L235.2,192.4 L235.7,191.7 L236.2,191.1 L236.7,190.4 L237.2,189.7 L237.7,189.0 L238.2,188.2 L238.7,187.4 L239.2,186.5 L239.7,185.6 L240.2,184.7 L240.7,183.6 L241.2,182.6 L241.7,181.4 L242.2,180.2 L242.7,178.9 L243.3,177.6 L243.8,176.1 L244.3,174.6 L244.8,172.9 L245.3,171.2 L245.8,169.3 L246.3,167.4 L246.8,165.3 L247.3,163.1 L247.8,160.8 L248.3,158.5 L248.8,156.0 L249.3,153.4 L249.8,150.7 L250.3,148.0 L250.8,145.3 L251.3,142.6 L251.8,140.0 L252.3,137.4 L252.8,135.1 L253.3,133.0 L253.8,131.2 L254.3,129.8 L254.8,128.9 L255.3,128.4 L255.8,128.6 L256.3,129.3 L256.8,130.4 L257.3,131.9 L257.8,133.7 L258.3,135.7 L258.8,138.0 L259.3,140.4 L259.8,143.0 L260.3,145.5 L260.8,148.1 L261.3,150.7 L261.8,153.2 L262.3,155.6 L262.8,158.0 L263.3,160.3 L263.8,162.5 L264.3,164.6 L264.8,166.5 L265.3,168.4 L265.8,170.2 L266.3,171.9 L266.8,173.5 L267.3,175.0 L267.8,176.4 L268.4,177.7 L268.9,179.0 L269.4,180.2 L269.9,181.3 L270.4,182.4 L270.9,183.4 L271.4,184.3 L271.9,185.2 L272.4,186.0 L272.9,186.9 L273.4,187.6 L273.9,188.3 L274.4,189.0 L274.9,189.7 L275.4,190.3 L275.9,190.9 L276.4,191.5 L276.9,192.1 L277.4,192.6 L277.9,193.1 L278.4,193.6 L278.9,194.1 L279.4,194.5 L279.9,195.0 L280.4,195.4 L280.9,195.8 L281.4,196.2 L281.9,196.5 L282.4,196.9 L282.9,197.2 L283.4,197.5 L283.9,197.9 L284.4,198.1 L284.9,198.4 L285.4,198.7 L285.9,198.9 L286.4,199.2 L286.9,199.4 L287.4,199.6 L287.9,199.8 L288.4,199.9 L288.9,200.1 L289.4,200.2 L289.9,200.4 L290.4,200.5 L290.9,200.6 L291.4,200.7 L291.9,200.7 L292.4,200.8 L293.0,200.9 L293.5,200.9 L294.0,201.0 L294.5,201.0 L295.0,201.0 L295.5,201.0 L296.0,201.1 L296.5,201.1 L297.0,201.1 L297.5,201.1 L298.0,201.1 L298.5,201.1 L299.0,201.1 L299.5,201.1 L300.0,201.1 L300.5,201.1 L301.0,201.1 L301.5,201.1 L302.0,201.1 L302.5,201.1 L303.0,201.1 L303.5,201.1 L304.0,201.2 L304.5,201.2 L305.0,201.2" fill="none" stroke="#3a48a6" stroke-width="1.5"/>
<text x="255.6" y="232" font-size="16.9" text-anchor="middle">-3kb TSS 3kb</text>
<line x1="313.4" y1="125" x2="313.4" y2="214.4" stroke="#555" stroke-width="1"/>
<line x1="412.4" y1="125" x2="412.4" y2="214.4" stroke="#555" stroke-width="1"/>
<line x1="313.4" y1="214.4" x2="412.4" y2="214.4" stroke="#555" stroke-width="1"/>
<line x1="313.4" y1="125" x2="412.4" y2="125" stroke="#f0f0f0" stroke-width="1"/>
<line x1="313.4" y1="214.4" x2="313.4" y2="217.5" stroke="#555" stroke-width="1"/>
<line x1="362.9" y1="214.4" x2="362.9" y2="217.5" stroke="#555" stroke-width="1"/>
<line x1="412.4" y1="214.4" x2="412.4" y2="217.5" stroke="#555" stroke-width="1"/>
<line x1="310.4" y1="162.3" x2="313.4" y2="162.3" stroke="#555" stroke-width="1"/>
<line x1="310.4" y1="213.6" x2="313.4" y2="213.6" stroke="#555" stroke-width="1"/>
<path d="M313.9,209.8 L314.4,209.8 L314.9,209.8 L315.4,209.9 L315.9,209.9 L316.4,209.9 L316.9,209.9 L317.4,210.0 L317.9,210.0 L318.4,210.0 L318.9,210.1 L319.4,210.1 L319.9,210.1 L320.4,210.2 L320.9,210.2 L321.4,210.3 L321.9,210.4 L322.4,210.4 L322.9,210.5 L323.4,210.5 L323.9,210.6 L324.4,210.6 L324.9,210.7 L325.4,210.7 L325.9,210.8 L326.4,210.8 L326.9,210.8 L327.4,210.9 L327.9,210.9 L328.4,210.9 L328.9,210.9 L329.4,210.9 L329.9,210.9 L330.4,210.9 L330.9,210.8 L331.4,210.8 L331.9,210.8 L332.4,210.7 L332.9,210.6 L333.4,210.5 L333.9,210.4 L334.4,210.3 L334.9,210.2 L335.4,210.1 L335.9,210.0 L336.4,209.9 L336.9,209.7 L337.4,209.6 L337.9,209.4 L338.4,209.3 L338.9,209.1 L339.4,209.0 L339.9,208.8 L340.4,208.6 L340.9,208.5 L341.4,208.3 L341.9,208.1 L342.4,208.0 L342.9,207.8 L343.4,207.6 L343.9,207.4 L344.4,207.2 L344.9,207.1 L345.4,206.9 L345.9,206.7 L346.4,206.5 L346.9,206.2 L347.4,206.0 L347.9,205.8 L348.4,205.6 L348.9,205.3 L349.4,205.1 L349.9,204.8 L350.4,204.5 L350.9,204.2 L351.4,203.9 L351.9,203.6 L352.4,203.2 L352.9,202.9 L353.4,202.5 L353.9,202.1 L354.4,201.7 L354.9,201.2 L355.4,200.7 L355.9,200.2 L356.4,199.7 L356.9,199.2 L357.4,198.7 L357.9,198.1 L358.4,197.5 L358.9,197.0 L359.4,196.5 L359.9,195.9 L360.4,195.5 L360.9,195.1 L361.4,194.7 L361.9,194.5 L362.4,194.3 L362.9,194.3 L363.4,194.5 L363.9,194.7 L364.4,195.0 L364.9,195.4 L365.4,195.8 L365.9,196.2 L366.4,196.7 L366.9,197.2 L367.4,197.7 L367.9,198.2 L368.4,198.7 L368.9,199.2 L369.4,199.7 L369.9,200.2 L370.4,200.6 L370.9,201.1 L371.4,201.5 L371.9,201.9 L372.4,202.3 L372.9,202.6 L373.4,203.0 L373.9,203.3 L374.4,203.6 L374.9,203.9 L375.4,204.2 L375.9,204.5 L376.4,204.7 L376.9,205.0 L377.4,205.2 L377.9,205.4 L378.4,205.6 L378.9,205.9 L379.4,206.1 L379.9,206.3 L380.4,206.4 L380.9,206.6 L381.4,206.8 L381.9,207.0 L382.4,207.1 L382.9,207.3 L383.4,207.5 L383.9,207.6 L384.4,207.8 L384.9,208.0 L385.4,208.1 L385.9,208.3 L386.4,208.4 L386.9,208.6 L387.4,208.7 L387.9,208.9 L388.4,209.0 L388.9,209.2 L389.4,209.3 L389.9,209.4 L390.4,209.6 L390.9,209.7 L391.4,209.8 L391.9,209.9 L392.4,210.0 L392.9,210.1 L393.4,210.2 L393.9,210.3 L394.4,210.4 L394.9,210.5 L395.4,210.6 L395.9,210.6 L396.4,210.7 L396.9,210.7 L397.4,210.8 L397.9,210.8 L398.4,210.8 L398.9,210.8 L399.4,210.8 L399.9,210.8 L400.4,210.8 L400.9,210.8 L401.4,210.8 L401.9,210.7 L402.4,210.7 L402.9,210.7 L403.4,210.6 L403.9,210.6 L404.4,210.5 L404.9,210.5 L405.4,210.4 L405.9,210.4 L406.4,210.3 L406.9,210.3 L407.4,210.2 L407.9,210.2 L408.4,210.1 L408.9,210.1 L409.4,210.0 L409.9,210.0 L410.4,209.9 L410.9,209.9 L411.4,209.9 L411.9,209.8" fill="none" stroke="#3a48a6" stroke-width="1.5"/>
<text x="362.9" y="232" font-size="16.9" text-anchor="middle">-3kb TSS 3kb</text>
<line x1="420.6" y1="125" x2="420.6" y2="214.4" stroke="#555" stroke-width="1"/>
<line x1="520.1" y1="125" x2="520.1" y2="214.4" stroke="#555" stroke-width="1"/>
<line x1="420.6" y1="214.4" x2="520.1" y2="214.4" stroke="#555" stroke-width="1"/>
<line x1="420.6" y1="125" x2="520.1" y2="125" stroke="#f0f0f0" stroke-width="1"/>
<line x1="420.6" y1="214.4" x2="420.6" y2="217.5" stroke="#555" stroke-width="1"/>
<line x1="470.4" y1="214.4" x2="470.4" y2="217.5" stroke="#555" stroke-width="1"/>
<line x1="520.1" y1="214.4" x2="520.1" y2="217.5" stroke="#555" stroke-width="1"/>
<line x1="417.6" y1="162.3" x2="420.6" y2="162.3" stroke="#555" stroke-width="1"/>
<line x1="417.6" y1="213.6" x2="420.6" y2="213.6" stroke="#555" stroke-width="1"/>
<path d="M421.1,207.9 L421.6,207.9 L422.1,207.9 L422.6,207.9 L423.1,207.9 L423.6,207.9 L424.1,208.0 L424.6,208.0 L425.1,208.0 L425.6,208.0 L426.1,208.0 L426.6,208.0 L427.1,208.1 L427.6,208.1 L428.1,208.1 L428.6,208.1 L429.1,208.1 L429.6,208.2 L430.1,208.2 L430.6,208.2 L431.1,208.2 L431.6,208.2 L432.1,208.2 L432.6,208.2 L433.1,208.2 L433.6,208.2 L434.1,208.1 L434.6,208.1 L435.1,208.0 L435.6,208.0 L436.1,207.9 L436.6,207.8 L437.1,207.8 L437.6,207.7 L438.1,207.5 L438.6,207.4 L439.1,207.3 L439.6,207.1 L440.1,207.0 L440.6,206.8 L441.1,206.7 L441.6,206.5 L442.1,206.3 L442.6,206.1 L443.1,205.8 L443.6,205.6 L444.1,205.4 L444.6,205.2 L445.1,204.9 L445.6,204.7 L446.1,204.4 L446.6,204.1 L447.1,203.8 L447.6,203.5 L448.1,203.3 L448.6,202.9 L449.1,202.6 L449.6,202.3 L450.1,202.0 L450.6,201.6 L451.1,201.3 L451.6,200.9 L452.1,200.5 L452.6,200.1 L453.1,199.7 L453.6,199.3 L454.1,198.8 L454.6,198.3 L455.1,197.8 L455.6,197.3 L456.1,196.8 L456.6,196.2 L457.1,195.6 L457.6,194.9 L458.1,194.2 L458.6,193.5 L459.1,192.7 L459.6,191.9 L460.1,191.1 L460.6,190.2 L461.1,189.2 L461.6,188.2 L462.1,187.2 L462.6,186.1 L463.1,184.9 L463.6,183.8 L464.1,182.5 L464.6,181.3 L465.1,180.0 L465.6,178.8 L466.1,177.5 L466.6,176.2 L467.1,175.1 L467.6,173.9 L468.1,172.9 L468.6,172.0 L469.1,171.3 L469.6,170.8 L470.1,170.5 L470.6,170.6 L471.1,170.8 L471.6,171.3 L472.1,171.9 L472.6,172.7 L473.1,173.6 L473.6,174.6 L474.1,175.6 L474.6,176.7 L475.1,177.8 L475.6,179.0 L476.1,180.2 L476.6,181.3 L477.1,182.4 L477.6,183.5 L478.1,184.6 L478.6,185.7 L479.1,186.7 L479.6,187.6 L480.1,188.6 L480.6,189.5 L481.1,190.3 L481.6,191.1 L482.1,191.9 L482.6,192.6 L483.1,193.3 L483.6,194.0 L484.1,194.6 L484.6,195.2 L485.1,195.7 L485.6,196.3 L486.1,196.8 L486.6,197.3 L487.1,197.7 L487.6,198.2 L488.1,198.6 L488.6,199.0 L489.1,199.4 L489.6,199.8 L490.1,200.2 L490.6,200.5 L491.1,200.8 L491.6,201.2 L492.1,201.5 L492.6,201.8 L493.1,202.1 L493.6,202.3 L494.1,202.6 L494.6,202.9 L495.1,203.2 L495.6,203.4 L496.1,203.7 L496.6,203.9 L497.1,204.1 L497.6,204.4 L498.1,204.6 L498.6,204.8 L499.1,205.0 L499.6,205.2 L500.1,205.4 L500.6,205.6 L501.1,205.8 L501.6,205.9 L502.1,206.1 L502.6,206.2 L503.1,206.4 L503.6,206.5 L504.1,206.7 L504.6,206.8 L505.1,206.9 L505.6,207.0 L506.1,207.1 L506.6,207.2 L507.1,207.2 L507.6,207.3 L508.1,207.4 L508.6,207.4 L509.1,207.5 L509.6,207.5 L510.1,207.5 L510.6,207.5 L511.1,207.5 L511.6,207.5 L512.1,207.5 L512.6,207.5 L513.1,207.5 L513.6,207.5 L514.1,207.5 L514.6,207.5 L515.1,207.4 L515.6,207.4 L516.1,207.4 L516.6,207.3 L517.1,207.3 L517.6,207.3 L518.1,207.3 L518.6,207.2 L519.1,207.2 L519.6,207.2" fill="none" stroke="#3a48a6" stroke-width="1.5"/>
<text x="470.4" y="232" font-size="16.9" text-anchor="middle">-3kb TSS 3kb</text>
<line x1="466.2" y1="134.2" x2="483.2" y2="134.2" stroke="#3a48a6" stroke-width="1.3"/>
<text x="488.5" y="137.2" font-size="8.5" fill="#444">genes</text>
<g clip-path="url(#hcp0)"><g filter="url(#hmf0)">
<rect x="86.6" y="238" width="123.3" height="628.2" fill="url(#hbg0)"/>
<rect x="86.6" y="238" width="123.3" height="94.2" fill="url(#htp0)" mask="url(#htk0)"/>
<polygon points="93.8,238 117.7,263.1 127,300.8 131.2,363.6 134.7,457.9 137.2,552.1 139.8,646.3 141.1,740.6 142.3,866.2 154.2,866.2 155.4,740.6 156.8,646.3 159.3,552.1 161.8,457.9 165.2,363.6 169.5,300.8 178.8,263.1 202.7,238" fill="url(#hbd0)" opacity="0.25" filter="url(#blr2)"/>
<polygon points="116.2,238 130.2,263.1 135.8,300.8 138.2,363.6 140.2,457.9 141.8,552.1 143.2,646.3 144.1,740.6 144.8,866.2 151.8,866.2 152.4,740.6 153.2,646.3 154.8,552.1 156.2,457.9 158.2,363.6 160.8,300.8 166.2,263.1 180.2,238" fill="url(#hbd0)" filter="url(#blr)"/>
</g></g>
<rect x="98.6" y="238" width="99.3" height="628.2" fill="none" stroke="#444" stroke-width="0.8"/>
<g clip-path="url(#hcp1)"><g filter="url(#hmf1)">
<rect x="193.8" y="238" width="123.6" height="628.2" fill="url(#hbg1)"/>
<rect x="193.8" y="238" width="123.6" height="94.2" fill="url(#htp1)" mask="url(#htk1)"/>
<polygon points="197.8,238 223.3,263.1 233.5,300.8 237.8,363.6 241.2,457.9 243.7,552.1 246.2,646.3 247.9,740.6 249.1,866.2 262.1,866.2 263.3,740.6 265,646.3 267.5,552.1 270.1,457.9 273.5,363.6 277.7,300.8 287.9,263.1 313.4,238" fill="url(#hbd1)" opacity="0.25" filter="url(#blr2)"/>
<polygon points="221.6,238 236.6,263.1 242.6,300.8 245.1,363.6 247.1,457.9 248.6,552.1 250.1,646.3 251.1,740.6 251.8,866.2 259.4,866.2 260.1,740.6 261.1,646.3 262.6,552.1 264.1,457.9 266.1,363.6 268.6,300.8 274.6,263.1 289.6,238" fill="url(#hbd1)" filter="url(#blr)"/>
</g></g>
<rect x="205.8" y="238" width="99.6" height="628.2" fill="none" stroke="#444" stroke-width="0.8"/>
<g clip-path="url(#hcp2)"><g filter="url(#hmf2)">
<rect x="301.4" y="238" width="123.1" height="628.2" fill="url(#hbg2)"/>
<rect x="301.4" y="238" width="123.1" height="62.8" fill="url(#htp2)" mask="url(#htk2)"/>
<polygon points="306.9,238 330.9,269.4 345.3,332.2 351.8,457.9 354.1,614.9 356.6,866.2 369.3,866.2 371.8,614.9 374.1,457.9 380.6,332.2 394.9,269.4 418.9,238" fill="url(#hbd2)" opacity="0.25" filter="url(#blr2)"/>
<polygon points="327.9,238 342.9,269.4 351.9,332.2 355.9,457.9 357.4,614.9 358.9,866.2 366.9,866.2 368.4,614.9 369.9,457.9 373.9,332.2 382.9,269.4 397.9,238" fill="url(#hbd2)" filter="url(#blr)"/>
</g></g>
<rect x="313.4" y="238" width="99.1" height="628.2" fill="none" stroke="#444" stroke-width="0.8"/>
<g clip-path="url(#hcp3)"><g filter="url(#hmf3)">
<rect x="408.7" y="238" width="123.4" height="628.2" fill="url(#hbg3)"/>
<rect x="408.7" y="238" width="123.4" height="75.4" fill="url(#htp3)" mask="url(#htk3)"/>
<polygon points="405.8,238 429.6,269.4 448.3,332.2 455.1,426.5 458.5,552.1 461.9,709.2 463.6,866.2 477.2,866.2 478.9,709.2 482.3,552.1 485.7,426.5 492.5,332.2 511.2,269.4 535,238" fill="url(#hbd3)" opacity="0.26" filter="url(#blr2)"/>
<polygon points="432.4,238 446.4,269.4 457.4,332.2 461.4,426.5 463.4,552.1 465.4,709.2 466.4,866.2 474.4,866.2 475.4,709.2 477.4,552.1 479.4,426.5 483.4,332.2 494.4,269.4 508.4,238" fill="url(#hbd3)" filter="url(#blr)"/>
</g></g>
<rect x="420.7" y="238" width="99.4" height="628.2" fill="none" stroke="#444" stroke-width="0.8"/>
<rect x="528.4" y="238" width="9.4" height="628.2" fill="url(#cbar)" stroke="#444" stroke-width="0.8"/>
<line x1="537.8" y1="305" x2="541" y2="305" stroke="#333" stroke-width="1"/>
<text x="547.5" y="311" font-size="16.8">2.5</text>
<line x1="537.8" y1="417.6" x2="541" y2="417.6" stroke="#333" stroke-width="1"/>
<text x="547.5" y="423.6" font-size="16.8">2.0</text>
<line x1="537.8" y1="530.2" x2="541" y2="530.2" stroke="#333" stroke-width="1"/>
<text x="547.5" y="536.2" font-size="16.8">1.5</text>
<line x1="537.8" y1="642.8" x2="541" y2="642.8" stroke="#333" stroke-width="1"/>
<text x="547.5" y="648.8" font-size="16.8">1.0</text>
<line x1="537.8" y1="755.4" x2="541" y2="755.4" stroke="#333" stroke-width="1"/>
<text x="547.5" y="761.4" font-size="16.8">0.5</text>
<text x="320.5" y="890.7" font-size="20" text-anchor="middle">Gene distance (bp)</text>
<text x="692.5" y="31" font-size="40" font-weight="bold">b</text>
<text x="805" y="36.8" font-size="27.4" textLength="513" lengthAdjust="spacingAndGlyphs">Overlap between ATAC-seq and RNA-seq</text>
<circle cx="839.7" cy="202.4" r="90.9" fill="#fff" stroke="#000" stroke-width="1.6"/>
<path d="M910.5,145.4 A90.9,90.9 0 0 1 920.0,245.1 L877.8,224.3 A45.2,45.2 0 0 0 873.4,174.0 Z" fill="#000"/>
<circle cx="838.3" cy="202.4" r="45.2" fill="#fff" stroke="#000" stroke-width="1.6"/>
<text x="837.2" y="201.8" font-size="22.2" text-anchor="middle">22.48</text>
<text x="839.5" y="231" font-size="22.2" text-anchor="middle">%</text>
<line x1="929.5" y1="186.8" x2="1171.2" y2="121.2" stroke="#000" stroke-width="1.5"/>
<line x1="930.5" y1="207.4" x2="1179.4" y2="237.4" stroke="#000" stroke-width="1.5"/>
<rect x="1188.8" y="76.5" width="8.6" height="98.3" fill="#da2a27"/>
<polygon points="1184.3,77 1202.3,77 1193.1,67.8" fill="#da2a27"/>
<rect x="1188.8" y="205.9" width="8.6" height="97.5" fill="#3a56a6"/>
<polygon points="1184.3,303 1202.3,303 1193.1,312.2" fill="#3a56a6"/>
<text x="1203" y="112.9" font-size="23.8" letter-spacing="1.1">49.51%</text>
<text x="1203" y="136.5" font-size="24.1">Overlapping targets with</text>
<text x="1203" y="160.2" font-size="24.1" font-style="italic">Increased gene expression</text>
<text x="1203" y="235.6" font-size="23.8" letter-spacing="1.1">50.49%</text>
<text x="1203" y="262.6" font-size="24.1">Overlapping targets with</text>
<text x="1203" y="289.6" font-size="24.1" font-style="italic" textLength="291" lengthAdjust="spacingAndGlyphs">Decreased gene expression</text>
<text x="749.5" y="325" font-size="24" textLength="248.5" lengthAdjust="spacingAndGlyphs">%Overlap of ATAC-seq</text>
<text x="750" y="352.1" font-size="23.6">&amp; RNA-seq (p &lt; 0.00001)</text>
<text x="1092" y="384" font-size="26.1">GO: Biological process</text>
<rect x="1103.3" y="415.3" width="302.5" height="22.4" fill="#de3524"/>
<rect x="1090.8" y="425" width="10" height="3" fill="#000"/>
<text x="1089.4" y="433.7" font-size="20.9" text-anchor="end">Cell Migration</text>
<rect x="1103.3" y="449.7" width="294.4" height="22.4" fill="#de3524"/>
<rect x="1090.8" y="459.4" width="10" height="3" fill="#000"/>
<text x="1089.4" y="468.1" font-size="20.9" text-anchor="end">Regulation of Cell Differentiation</text>
<rect x="1103.3" y="484" width="234.5" height="22.4" fill="#de3524"/>
<rect x="1090.8" y="493.7" width="10" height="3" fill="#000"/>
<text x="1089.4" y="502.4" font-size="20.9" text-anchor="end">Actin filament-based process</text>
<rect x="1103.3" y="518.4" width="234.5" height="22.4" fill="#de3524"/>
<rect x="1090.8" y="528.1" width="10" height="3" fill="#000"/>
<text x="1089.4" y="536.8" font-size="20.9" text-anchor="end">Cell-Cell Signalling</text>
<rect x="1103.3" y="552.7" width="234.5" height="22.4" fill="#de3524"/>
<rect x="1090.8" y="562.4" width="10" height="3" fill="#000"/>
<text x="1089.4" y="571.1" font-size="20.9" text-anchor="end">Biological Adhesion</text>
<rect x="1103.3" y="587.1" width="221.7" height="22.4" fill="#3654a5"/>
<rect x="1090.8" y="596.8" width="10" height="3" fill="#000"/>
<text x="1089.4" y="605.5" font-size="20.9" text-anchor="end">Supramolecular Fiber Organization</text>
<rect x="1103.3" y="621.5" width="241.9" height="22.4" fill="#3654a5"/>
<rect x="1090.8" y="631.2" width="10" height="3" fill="#000"/>
<text x="1089.4" y="639.9" font-size="20.9" text-anchor="end">Cytoskeleton Organization</text>
<rect x="1103.3" y="655.8" width="243.1" height="22.4" fill="#3654a5"/>
<rect x="1090.8" y="665.5" width="10" height="3" fill="#000"/>
<text x="1089.4" y="674.2" font-size="20.9" text-anchor="end">Epithelium Development</text>
<rect x="1103.3" y="690.2" width="252.5" height="22.4" fill="#3654a5"/>
<rect x="1090.8" y="699.9" width="10" height="3" fill="#000"/>
<text x="1089.4" y="708.6" font-size="20.9" text-anchor="end">Cell Morphogenesis involved in Differentiation</text>
<rect x="1103.3" y="724.5" width="293.9" height="22.4" fill="#3654a5"/>
<rect x="1090.8" y="734.2" width="10" height="3" fill="#000"/>
<text x="1089.4" y="742.9" font-size="20.9" text-anchor="end">Actin filament-based process</text>
<rect x="1100.2" y="402.8" width="3.1" height="357.1" fill="#000"/>
<rect x="1100.2" y="756.8" width="308" height="3.1" fill="#000"/>
<rect x="1100.2" y="758" width="3" height="6.2" fill="#000"/>
<text x="1101.7" y="784" font-size="14.6" text-anchor="middle">0</text>
<rect x="1161" y="758" width="3" height="6.2" fill="#000"/>
<text x="1162.5" y="784" font-size="14.6" text-anchor="middle">2</text>
<rect x="1221.8" y="758" width="3" height="6.2" fill="#000"/>
<text x="1223.3" y="784" font-size="14.6" text-anchor="middle">4</text>
<rect x="1282.6" y="758" width="3" height="6.2" fill="#000"/>
<text x="1284.1" y="784" font-size="14.6" text-anchor="middle">6</text>
<rect x="1343.4" y="758" width="3" height="6.2" fill="#000"/>
<text x="1344.9" y="784" font-size="14.6" text-anchor="middle">8</text>
<rect x="1404.2" y="758" width="3" height="6.2" fill="#000"/>
<text x="1405.7" y="784" font-size="14.6" text-anchor="middle">10</text>
<text x="1254.2" y="814.5" font-size="20.4" text-anchor="middle">-log10(FDR)</text>
<text x="2.5" y="929" font-size="52" font-weight="bold">c</text>
<rect x="94.2" y="972.4" width="167.3" height="3.6" fill="#000"/><polygon points="81.2,974.2 95.2,967.2 95.2,981.2" fill="#000"/><polygon points="274.5,974.2 260.5,967.2 260.5,981.2" fill="#000"/>
<text x="186.4" y="956.2" font-size="23.4" text-anchor="middle">7,242bp</text>
<rect x="86" y="987" width="178" height="89" fill="#fafafa"/>
<path d="M86.0,1076.0L86.0,1072.0L87.0,1071.8L88.0,1071.5L89.0,1071.8L90.0,1072.0L91.0,1071.5L92.0,1071.8L93.0,1071.8L94.0,1071.5L95.0,1071.9L96.0,1071.3L97.0,1071.9L98.0,1071.7L99.0,1071.8L100.0,1071.4L101.0,1071.3L102.0,1072.5L103.0,1071.9L104.0,1071.4L105.0,1071.3L106.0,1071.7L107.0,1071.4L108.0,1071.3L109.0,1071.2L110.0,1071.4L111.0,1071.3L112.0,1070.5L113.0,1071.1L114.0,1070.3L115.0,1070.5L116.0,1070.4L117.0,1071.1L118.0,1069.9L119.0,1070.5L120.0,1070.4L121.0,1069.4L122.0,1070.0L123.0,1070.5L124.0,1070.1L125.0,1070.5L126.0,1071.0L127.0,1071.3L128.0,1071.2L129.0,1069.1L130.0,1063.6L131.0,1056.5L132.0,1042.6L133.0,1019.9L134.0,1010.8L135.0,1002.2L136.0,999.5L137.0,1009.7L138.0,1008.3L139.0,1004.4L140.0,1022.4L141.0,1014.9L142.0,1025.1L143.0,1022.0L144.0,1033.4L145.0,1038.2L146.0,1040.1L147.0,1042.2L148.0,1043.6L149.0,1043.2L150.0,1047.2L151.0,1051.5L152.0,1049.1L153.0,1051.9L154.0,1052.2L155.0,1055.6L156.0,1058.6L157.0,1057.7L158.0,1059.2L159.0,1060.5L160.0,1058.3L161.0,1057.3L162.0,1060.4L163.0,1058.6L164.0,1060.0L165.0,1059.4L166.0,1058.3L167.0,1059.1L168.0,1060.1L169.0,1060.1L170.0,1060.7L171.0,1059.9L172.0,1063.2L173.0,1061.4L174.0,1061.0L175.0,1063.1L176.0,1062.2L177.0,1062.3L178.0,1063.4L179.0,1062.5L180.0,1062.6L181.0,1064.0L182.0,1062.8L183.0,1065.2L184.0,1064.3L185.0,1062.9L186.0,1063.0L187.0,1064.9L188.0,1066.3L189.0,1066.4L190.0,1067.4L191.0,1066.7L192.0,1068.1L193.0,1066.1L194.0,1069.5L195.0,1069.3L196.0,1069.9L197.0,1071.7L198.0,1071.6L199.0,1073.3L200.0,1072.6L201.0,1073.6L202.0,1073.9L203.0,1074.1L204.0,1073.4L205.0,1072.4L206.0,1071.2L207.0,1070.6L208.0,1068.8L209.0,1069.2L210.0,1069.5L211.0,1069.4L212.0,1069.0L213.0,1068.1L214.0,1069.2L215.0,1068.9L216.0,1068.4L217.0,1069.6L218.0,1068.8L219.0,1069.9L220.0,1069.5L221.0,1068.9L222.0,1069.0L223.0,1068.7L224.0,1068.0L225.0,1068.2L226.0,1068.3L227.0,1068.3L228.0,1069.2L229.0,1067.6L230.0,1068.0L231.0,1066.5L232.0,1067.4L233.0,1066.8L234.0,1067.0L235.0,1065.3L236.0,1065.7L237.0,1065.6L238.0,1066.4L239.0,1066.9L240.0,1066.6L241.0,1067.6L242.0,1068.3L243.0,1068.0L244.0,1069.7L245.0,1068.6L246.0,1068.9L247.0,1069.8L248.0,1070.6L249.0,1071.3L250.0,1071.3L251.0,1072.2L252.0,1072.8L253.0,1072.7L254.0,1073.2L255.0,1074.4L256.0,1074.2L257.0,1074.5L258.0,1074.1L259.0,1074.6L260.0,1074.6L261.0,1074.8L262.0,1074.9L263.0,1075.0L264.0,1075.1L264.0,1076.0Z" fill="#a3a3a3"/>
<line x1="86" y1="1075.6" x2="264" y2="1075.6" stroke="#9a9a9a" stroke-width="1"/>
<text x="87" y="1000.5" font-size="16.6">(0-4.41)</text>
<rect x="86" y="1077.5" width="178" height="89" fill="#fafafa"/>
<path d="M86.0,1166.5L86.0,1161.6L87.0,1161.8L88.0,1162.1L89.0,1162.0L90.0,1161.5L91.0,1161.3L92.0,1162.4L93.0,1161.5L94.0,1162.0L95.0,1161.9L96.0,1161.7L97.0,1161.8L98.0,1161.8L99.0,1162.1L100.0,1161.6L101.0,1161.4L102.0,1161.4L103.0,1161.7L104.0,1161.8L105.0,1162.1L106.0,1161.7L107.0,1161.9L108.0,1162.2L109.0,1161.3L110.0,1160.8L111.0,1161.3L112.0,1160.4L113.0,1161.0L114.0,1160.9L115.0,1160.5L116.0,1160.6L117.0,1161.0L118.0,1159.9L119.0,1160.8L120.0,1160.4L121.0,1159.7L122.0,1159.7L123.0,1159.2L124.0,1160.7L125.0,1160.0L126.0,1161.3L127.0,1160.6L128.0,1161.3L129.0,1158.5L130.0,1152.9L131.0,1145.5L132.0,1126.9L133.0,1111.1L134.0,1099.2L135.0,1093.4L136.0,1092.8L137.0,1086.5L138.0,1091.4L139.0,1094.3L140.0,1093.9L141.0,1101.7L142.0,1111.4L143.0,1115.4L144.0,1124.3L145.0,1127.1L146.0,1124.0L147.0,1130.2L148.0,1134.5L149.0,1131.2L150.0,1140.4L151.0,1141.5L152.0,1139.9L153.0,1142.0L154.0,1143.7L155.0,1144.8L156.0,1146.1L157.0,1146.8L158.0,1148.2L159.0,1145.3L160.0,1146.2L161.0,1146.3L162.0,1147.3L163.0,1147.6L164.0,1147.6L165.0,1148.3L166.0,1147.1L167.0,1147.8L168.0,1150.0L169.0,1150.2L170.0,1149.1L171.0,1149.5L172.0,1148.9L173.0,1151.4L174.0,1151.1L175.0,1150.2L176.0,1151.4L177.0,1149.8L178.0,1151.7L179.0,1152.2L180.0,1151.3L181.0,1152.5L182.0,1152.8L183.0,1151.3L184.0,1152.1L185.0,1151.1L186.0,1153.7L187.0,1155.3L188.0,1155.9L189.0,1154.3L190.0,1154.2L191.0,1157.0L192.0,1157.0L193.0,1157.0L194.0,1158.1L195.0,1160.0L196.0,1160.8L197.0,1160.7L198.0,1162.0L199.0,1162.7L200.0,1164.0L201.0,1164.1L202.0,1164.1L203.0,1163.9L204.0,1163.5L205.0,1162.2L206.0,1159.9L207.0,1158.5L208.0,1160.2L209.0,1159.2L210.0,1160.2L211.0,1158.9L212.0,1159.2L213.0,1159.7L214.0,1159.8L215.0,1159.1L216.0,1159.2L217.0,1159.2L218.0,1159.1L219.0,1160.1L220.0,1158.9L221.0,1159.9L222.0,1158.2L223.0,1158.6L224.0,1158.1L225.0,1158.2L226.0,1158.5L227.0,1157.1L228.0,1157.6L229.0,1156.7L230.0,1156.4L231.0,1157.7L232.0,1156.7L233.0,1155.8L234.0,1155.8L235.0,1155.2L236.0,1155.6L237.0,1156.3L238.0,1155.8L239.0,1156.1L240.0,1156.8L241.0,1158.3L242.0,1159.0L243.0,1158.2L244.0,1159.3L245.0,1158.9L246.0,1159.9L247.0,1160.6L248.0,1161.0L249.0,1161.3L250.0,1162.2L251.0,1162.1L252.0,1162.9L253.0,1163.1L254.0,1163.6L255.0,1164.1L256.0,1164.7L257.0,1164.4L258.0,1164.9L259.0,1164.8L260.0,1164.7L261.0,1165.1L262.0,1164.9L263.0,1165.3L264.0,1165.6L264.0,1166.5Z" fill="#3441a0"/>
<line x1="86" y1="1166.1" x2="264" y2="1166.1" stroke="#5a66b8" stroke-width="1"/>
<text x="87" y="1091" font-size="16.6">(0-4.41)</text>
<rect x="86" y="1167.6" width="178" height="89" fill="#fafafa"/>
<path d="M86.0,1256.6L86.0,1255.9L87.0,1255.8L88.0,1255.5L89.0,1255.6L90.0,1255.5L91.0,1255.8L92.0,1255.9L93.0,1256.0L94.0,1255.9L95.0,1255.9L96.0,1256.1L97.0,1255.8L98.0,1255.5L99.0,1255.6L100.0,1255.3L101.0,1255.6L102.0,1256.0L103.0,1255.3L104.0,1255.9L105.0,1256.0L106.0,1256.0L107.0,1255.7L108.0,1255.5L109.0,1255.8L110.0,1255.8L111.0,1255.8L112.0,1255.2L113.0,1255.8L114.0,1255.5L115.0,1255.9L116.0,1255.8L117.0,1255.9L118.0,1255.5L119.0,1255.5L120.0,1255.2L121.0,1255.8L122.0,1255.8L123.0,1255.6L124.0,1255.3L125.0,1255.3L126.0,1255.6L127.0,1256.0L128.0,1255.7L129.0,1255.3L130.0,1255.0L131.0,1254.3L132.0,1252.5L133.0,1249.9L134.0,1247.8L135.0,1248.2L136.0,1247.3L137.0,1247.0L138.0,1247.0L139.0,1247.6L140.0,1247.3L141.0,1248.1L142.0,1250.0L143.0,1249.6L144.0,1251.2L145.0,1251.1L146.0,1251.8L147.0,1252.8L148.0,1252.3L149.0,1252.6L150.0,1252.3L151.0,1253.3L152.0,1253.0L153.0,1253.5L154.0,1253.3L155.0,1252.8L156.0,1253.7L157.0,1253.7L158.0,1253.9L159.0,1253.7L160.0,1253.9L161.0,1254.1L162.0,1253.9L163.0,1254.4L164.0,1254.3L165.0,1253.9L166.0,1253.7L167.0,1254.1L168.0,1254.3L169.0,1254.3L170.0,1254.1L171.0,1254.2L172.0,1254.4L173.0,1254.5L174.0,1254.1L175.0,1254.4L176.0,1254.9L177.0,1254.8L178.0,1254.7L179.0,1254.6L180.0,1254.5L181.0,1254.5L182.0,1254.7L183.0,1255.2L184.0,1254.4L185.0,1254.9L186.0,1254.8L187.0,1254.7L188.0,1254.8L189.0,1254.9L190.0,1255.2L191.0,1255.4L192.0,1255.3L193.0,1255.0L194.0,1255.5L195.0,1255.7L196.0,1255.8L197.0,1255.7L198.0,1255.7L199.0,1255.6L200.0,1256.1L201.0,1256.2L202.0,1256.2L203.0,1255.4L204.0,1256.1L205.0,1255.7L206.0,1255.8L207.0,1255.7L208.0,1255.4L209.0,1254.9L210.0,1255.5L211.0,1255.5L212.0,1255.6L213.0,1255.6L214.0,1255.0L215.0,1255.4L216.0,1255.0L217.0,1255.4L218.0,1255.2L219.0,1255.4L220.0,1255.3L221.0,1255.5L222.0,1255.5L223.0,1255.6L224.0,1255.7L225.0,1255.6L226.0,1255.4L227.0,1255.2L228.0,1255.1L229.0,1255.4L230.0,1255.3L231.0,1255.3L232.0,1255.1L233.0,1255.0L234.0,1255.4L235.0,1255.1L236.0,1254.9L237.0,1254.9L238.0,1255.1L239.0,1255.1L240.0,1254.8L241.0,1255.4L242.0,1255.4L243.0,1255.4L244.0,1255.7L245.0,1255.6L246.0,1255.5L247.0,1255.8L248.0,1255.5L249.0,1255.6L250.0,1255.7L251.0,1255.8L252.0,1256.2L253.0,1255.6L254.0,1256.2L255.0,1256.2L256.0,1256.2L257.0,1256.0L258.0,1256.2L259.0,1256.2L260.0,1256.2L261.0,1256.1L262.0,1255.5L263.0,1256.2L264.0,1256.2L264.0,1256.6Z" fill="#a3a3a3"/>
<line x1="86" y1="1256.2" x2="264" y2="1256.2" stroke="#9a9a9a" stroke-width="1"/>
<text x="87" y="1181.1" font-size="16.6">(0-4.41)</text>
<rect x="86" y="1257.9" width="178" height="89" fill="#fafafa"/>
<path d="M86.0,1346.9L86.0,1344.8L87.0,1345.0L88.0,1345.2L89.0,1345.4L90.0,1345.2L91.0,1345.4L92.0,1345.3L93.0,1345.3L94.0,1345.3L95.0,1345.3L96.0,1345.0L97.0,1345.0L98.0,1345.3L99.0,1345.3L100.0,1345.1L101.0,1344.7L102.0,1344.6L103.0,1345.3L104.0,1345.4L105.0,1345.2L106.0,1344.8L107.0,1345.0L108.0,1345.2L109.0,1344.3L110.0,1344.7L111.0,1345.1L112.0,1344.7L113.0,1344.9L114.0,1344.8L115.0,1345.0L116.0,1344.6L117.0,1344.9L118.0,1344.9L119.0,1344.7L120.0,1344.9L121.0,1344.6L122.0,1344.4L123.0,1344.8L124.0,1344.4L125.0,1344.8L126.0,1344.8L127.0,1345.1L128.0,1344.9L129.0,1344.6L130.0,1342.2L131.0,1340.3L132.0,1335.6L133.0,1326.4L134.0,1324.5L135.0,1322.9L136.0,1318.7L137.0,1320.7L138.0,1322.2L139.0,1320.0L140.0,1320.2L141.0,1325.1L142.0,1324.6L143.0,1330.6L144.0,1330.9L145.0,1332.4L146.0,1334.2L147.0,1335.6L148.0,1335.3L149.0,1336.1L150.0,1337.9L151.0,1338.1L152.0,1338.3L153.0,1338.0L154.0,1338.3L155.0,1339.0L156.0,1339.4L157.0,1340.0L158.0,1340.1L159.0,1340.8L160.0,1340.6L161.0,1340.2L162.0,1340.1L163.0,1341.5L164.0,1341.2L165.0,1341.0L166.0,1341.0L167.0,1340.6L168.0,1341.0L169.0,1340.7L170.0,1341.2L171.0,1340.6L172.0,1340.6L173.0,1341.0L174.0,1342.2L175.0,1342.3L176.0,1341.4L177.0,1341.4L178.0,1341.9L179.0,1342.0L180.0,1341.2L181.0,1342.1L182.0,1342.6L183.0,1342.0L184.0,1342.7L185.0,1342.2L186.0,1342.5L187.0,1342.8L188.0,1342.6L189.0,1343.2L190.0,1343.3L191.0,1343.2L192.0,1343.1L193.0,1343.7L194.0,1343.9L195.0,1344.2L196.0,1344.7L197.0,1345.0L198.0,1345.2L199.0,1345.2L200.0,1345.5L201.0,1345.7L202.0,1345.9L203.0,1346.0L204.0,1345.8L205.0,1345.3L206.0,1344.9L207.0,1344.0L208.0,1344.0L209.0,1343.7L210.0,1344.3L211.0,1344.4L212.0,1344.5L213.0,1343.9L214.0,1344.3L215.0,1344.6L216.0,1344.4L217.0,1344.6L218.0,1344.2L219.0,1344.6L220.0,1344.1L221.0,1344.1L222.0,1343.6L223.0,1344.4L224.0,1344.1L225.0,1343.7L226.0,1343.9L227.0,1343.5L228.0,1343.5L229.0,1343.2L230.0,1343.5L231.0,1343.5L232.0,1343.5L233.0,1343.8L234.0,1343.2L235.0,1343.5L236.0,1343.1L237.0,1342.2L238.0,1343.5L239.0,1343.0L240.0,1343.5L241.0,1343.7L242.0,1343.5L243.0,1343.7L244.0,1344.5L245.0,1344.4L246.0,1344.3L247.0,1344.6L248.0,1344.9L249.0,1345.2L250.0,1345.3L251.0,1345.6L252.0,1345.4L253.0,1345.8L254.0,1345.9L255.0,1346.1L256.0,1346.0L257.0,1346.3L258.0,1346.4L259.0,1346.4L260.0,1346.4L261.0,1346.3L262.0,1345.8L263.0,1346.5L264.0,1346.3L264.0,1346.9Z" fill="#3441a0"/>
<line x1="86" y1="1346.5" x2="264" y2="1346.5" stroke="#5a66b8" stroke-width="1"/>
<text x="87" y="1271.4" font-size="16.6">(0-4.41)</text>
<rect x="310" y="972.6" width="168.5" height="3.6" fill="#000"/><polygon points="297,974.4 311,967.4 311,981.4" fill="#000"/><polygon points="491.5,974.4 477.5,967.4 477.5,981.4" fill="#000"/>
<text x="395.1" y="963.5" font-size="23.4" text-anchor="middle">7,015bp</text>
<rect x="306.4" y="987" width="177.4" height="89" fill="#fafafa"/>
<path d="M306.4,1076.0L306.4,1060.2L307.4,1059.7L308.4,1060.6L309.4,1062.2L310.4,1059.1L311.4,1062.0L312.4,1061.4L313.4,1058.5L314.4,1061.3L315.4,1059.7L316.4,1057.6L317.4,1063.4L318.4,1060.7L319.4,1059.5L320.4,1060.4L321.4,1058.5L322.4,1058.2L323.4,1057.2L324.4,1057.9L325.4,1057.8L326.4,1062.0L327.4,1061.5L328.4,1059.6L329.5,1061.2L330.5,1060.9L331.5,1058.6L332.5,1060.5L333.5,1061.8L334.5,1060.9L335.5,1060.0L336.5,1060.3L337.5,1058.7L338.5,1059.9L339.5,1062.3L340.5,1062.1L341.5,1060.8L342.5,1062.1L343.5,1060.9L344.5,1063.3L345.5,1064.2L346.5,1063.8L347.5,1064.6L348.5,1065.1L349.5,1065.3L350.5,1064.9L351.5,1064.8L352.5,1065.5L353.5,1064.7L354.5,1066.9L355.5,1064.4L356.5,1065.1L357.5,1063.7L358.5,1063.5L359.5,1063.1L360.5,1063.6L361.5,1064.1L362.5,1065.4L363.5,1062.4L364.5,1062.2L365.5,1062.7L366.5,1062.6L367.5,1061.5L368.5,1061.6L369.5,1063.7L370.5,1064.2L371.5,1062.6L372.5,1062.2L373.6,1065.1L374.6,1063.6L375.6,1062.8L376.6,1065.3L377.6,1064.7L378.6,1063.8L379.6,1062.9L380.6,1065.9L381.6,1064.3L382.6,1064.4L383.6,1065.0L384.6,1065.4L385.6,1063.5L386.6,1064.6L387.6,1065.1L388.6,1064.5L389.6,1064.8L390.6,1063.5L391.6,1064.0L392.6,1064.4L393.6,1064.5L394.6,1062.7L395.6,1063.1L396.6,1062.9L397.6,1063.1L398.6,1063.3L399.6,1061.4L400.6,1063.2L401.6,1061.2L402.6,1060.5L403.6,1061.6L404.6,1059.1L405.6,1059.5L406.6,1058.1L407.6,1057.2L408.6,1058.0L409.6,1056.5L410.6,1054.6L411.6,1052.1L412.6,1053.3L413.6,1049.7L414.6,1047.9L415.6,1049.0L416.6,1045.0L417.7,1044.6L418.7,1038.3L419.7,1031.1L420.7,1030.2L421.7,1031.3L422.7,1036.0L423.7,1029.9L424.7,1034.6L425.7,1034.8L426.7,1029.6L427.7,1030.1L428.7,1027.9L429.7,1025.1L430.7,1027.3L431.7,1012.2L432.7,1005.3L433.7,1000.8L434.7,1008.5L435.7,1009.9L436.7,1021.3L437.7,1030.7L438.7,1034.4L439.7,1045.3L440.7,1050.9L441.7,1054.9L442.7,1054.6L443.7,1060.7L444.7,1064.4L445.7,1066.4L446.7,1066.3L447.7,1067.8L448.7,1068.0L449.7,1069.0L450.7,1070.8L451.7,1072.6L452.7,1071.7L453.7,1072.8L454.7,1073.1L455.7,1073.2L456.7,1073.5L457.7,1074.0L458.7,1074.3L459.7,1074.4L460.7,1074.1L461.8,1074.6L462.8,1074.4L463.8,1074.8L464.8,1074.9L465.8,1074.8L466.8,1075.2L467.8,1074.5L468.8,1075.0L469.8,1074.7L470.8,1074.8L471.8,1075.1L472.8,1074.8L473.8,1074.3L474.8,1075.0L475.8,1074.7L476.8,1074.9L477.8,1074.9L478.8,1075.1L479.8,1074.9L480.8,1075.0L481.8,1075.0L482.8,1075.0L483.8,1074.9L483.8,1076.0Z" fill="#a3a3a3"/>
<line x1="306.4" y1="1075.6" x2="483.8" y2="1075.6" stroke="#9a9a9a" stroke-width="1"/>
<text x="307.4" y="1000.5" font-size="16.6">(0-4.25)</text>
<rect x="306.4" y="1077.5" width="177.4" height="89" fill="#fafafa"/>
<path d="M306.4,1166.5L306.4,1149.5L307.4,1149.5L308.4,1151.3L309.4,1148.7L310.4,1149.6L311.4,1148.1L312.4,1150.3L313.4,1147.4L314.4,1148.7L315.4,1148.6L316.4,1151.0L317.4,1150.3L318.4,1146.7L319.4,1145.9L320.4,1148.0L321.4,1146.9L322.4,1148.6L323.4,1146.8L324.4,1146.1L325.4,1146.4L326.4,1142.8L327.4,1148.6L328.4,1144.3L329.5,1145.3L330.5,1146.5L331.5,1144.9L332.5,1148.4L333.5,1150.1L334.5,1146.5L335.5,1149.9L336.5,1148.7L337.5,1150.4L338.5,1148.5L339.5,1149.2L340.5,1149.9L341.5,1148.3L342.5,1149.7L343.5,1149.5L344.5,1151.1L345.5,1152.0L346.5,1152.1L347.5,1151.8L348.5,1153.1L349.5,1152.2L350.5,1153.9L351.5,1153.2L352.5,1154.5L353.5,1152.3L354.5,1153.7L355.5,1152.8L356.5,1153.8L357.5,1152.9L358.5,1152.8L359.5,1154.0L360.5,1154.0L361.5,1152.9L362.5,1151.9L363.5,1152.0L364.5,1153.5L365.5,1150.6L366.5,1150.4L367.5,1152.9L368.5,1150.6L369.5,1152.1L370.5,1151.0L371.5,1150.7L372.5,1151.4L373.6,1153.4L374.6,1151.4L375.6,1151.7L376.6,1154.0L377.6,1152.7L378.6,1152.4L379.6,1150.2L380.6,1153.1L381.6,1153.3L382.6,1154.6L383.6,1152.5L384.6,1154.1L385.6,1153.1L386.6,1152.1L387.6,1154.2L388.6,1153.6L389.6,1153.3L390.6,1151.8L391.6,1153.9L392.6,1152.1L393.6,1150.9L394.6,1151.7L395.6,1153.0L396.6,1150.6L397.6,1150.2L398.6,1150.2L399.6,1149.2L400.6,1148.7L401.6,1148.6L402.6,1148.8L403.6,1150.1L404.6,1146.0L405.6,1148.0L406.6,1145.2L407.6,1143.9L408.6,1144.9L409.6,1143.5L410.6,1143.8L411.6,1140.8L412.6,1136.6L413.6,1136.5L414.6,1130.3L415.6,1129.7L416.6,1133.1L417.7,1134.6L418.7,1118.6L419.7,1117.8L420.7,1117.9L421.7,1118.5L422.7,1119.9L423.7,1112.8L424.7,1108.3L425.7,1121.2L426.7,1114.7L427.7,1111.1L428.7,1113.8L429.7,1105.3L430.7,1103.3L431.7,1091.9L432.7,1093.1L433.7,1081.6L434.7,1091.3L435.7,1107.6L436.7,1110.3L437.7,1104.4L438.7,1119.2L439.7,1125.3L440.7,1135.3L441.7,1139.8L442.7,1147.6L443.7,1150.0L444.7,1153.2L445.7,1155.3L446.7,1153.3L447.7,1158.0L448.7,1157.4L449.7,1159.7L450.7,1160.4L451.7,1161.1L452.7,1162.5L453.7,1162.4L454.7,1163.0L455.7,1163.8L456.7,1163.7L457.7,1163.2L458.7,1164.4L459.7,1164.2L460.7,1164.4L461.8,1165.2L462.8,1165.2L463.8,1165.3L464.8,1164.6L465.8,1165.1L466.8,1165.4L467.8,1165.0L468.8,1165.5L469.8,1165.3L470.8,1165.2L471.8,1165.6L472.8,1165.5L473.8,1165.5L474.8,1164.7L475.8,1165.4L476.8,1165.1L477.8,1165.5L478.8,1165.5L479.8,1165.2L480.8,1165.3L481.8,1165.5L482.8,1165.4L483.8,1165.5L483.8,1166.5Z" fill="#3441a0"/>
<line x1="306.4" y1="1166.1" x2="483.8" y2="1166.1" stroke="#5a66b8" stroke-width="1"/>
<text x="307.4" y="1091" font-size="16.6">(0-4.25)</text>
<rect x="306.4" y="1167.6" width="177.4" height="89" fill="#fafafa"/>
<path d="M306.4,1256.6L306.4,1253.8L307.4,1253.9L308.4,1254.1L309.4,1254.1L310.4,1254.2L311.4,1253.8L312.4,1254.3L313.4,1254.3L314.4,1253.9L315.4,1254.1L316.4,1253.5L317.4,1254.3L318.4,1253.5L319.4,1253.7L320.4,1253.6L321.4,1253.5L322.4,1254.0L323.4,1253.8L324.4,1253.9L325.4,1253.4L326.4,1253.9L327.4,1253.8L328.4,1253.0L329.5,1253.8L330.5,1254.1L331.5,1254.3L332.5,1253.9L333.5,1254.0L334.5,1254.2L335.5,1253.3L336.5,1254.5L337.5,1254.1L338.5,1254.1L339.5,1254.0L340.5,1253.9L341.5,1254.3L342.5,1254.1L343.5,1254.3L344.5,1254.6L345.5,1254.4L346.5,1254.6L347.5,1254.4L348.5,1254.9L349.5,1254.8L350.5,1254.6L351.5,1254.7L352.5,1254.6L353.5,1254.3L354.5,1254.1L355.5,1254.9L356.5,1254.8L357.5,1254.5L358.5,1254.6L359.5,1254.8L360.5,1254.6L361.5,1254.3L362.5,1254.7L363.5,1254.5L364.5,1254.5L365.5,1254.4L366.5,1254.5L367.5,1253.9L368.5,1254.5L369.5,1254.0L370.5,1254.4L371.5,1254.2L372.5,1254.3L373.6,1254.9L374.6,1254.4L375.6,1254.4L376.6,1254.4L377.6,1254.7L378.6,1254.5L379.6,1254.7L380.6,1254.6L381.6,1254.4L382.6,1254.3L383.6,1254.8L384.6,1254.8L385.6,1254.6L386.6,1254.8L387.6,1254.8L388.6,1254.8L389.6,1254.4L390.6,1254.9L391.6,1254.4L392.6,1254.8L393.6,1254.2L394.6,1254.4L395.6,1254.6L396.6,1254.3L397.6,1254.4L398.6,1254.3L399.6,1254.3L400.6,1254.6L401.6,1254.3L402.6,1254.4L403.6,1253.8L404.6,1254.4L405.6,1254.0L406.6,1253.9L407.6,1253.0L408.6,1253.4L409.6,1253.7L410.6,1253.6L411.6,1253.3L412.6,1252.8L413.6,1252.6L414.6,1251.9L415.6,1252.2L416.6,1251.8L417.7,1251.2L418.7,1251.5L419.7,1250.0L420.7,1249.3L421.7,1249.9L422.7,1249.7L423.7,1249.7L424.7,1249.4L425.7,1248.9L426.7,1249.4L427.7,1249.1L428.7,1249.0L429.7,1248.2L430.7,1249.1L431.7,1247.3L432.7,1246.3L433.7,1245.1L434.7,1245.8L435.7,1247.5L436.7,1248.3L437.7,1249.2L438.7,1249.9L439.7,1252.0L440.7,1252.2L441.7,1252.8L442.7,1253.5L443.7,1254.1L444.7,1254.9L445.7,1254.7L446.7,1255.0L447.7,1255.3L448.7,1254.6L449.7,1255.7L450.7,1255.5L451.7,1255.6L452.7,1256.0L453.7,1255.8L454.7,1255.7L455.7,1255.9L456.7,1255.7L457.7,1256.2L458.7,1255.9L459.7,1256.1L460.7,1256.2L461.8,1256.0L462.8,1256.2L463.8,1255.9L464.8,1255.2L465.8,1256.2L466.8,1256.1L467.8,1256.2L468.8,1255.8L469.8,1256.2L470.8,1256.0L471.8,1256.2L472.8,1256.2L473.8,1256.2L474.8,1256.1L475.8,1256.0L476.8,1256.2L477.8,1255.7L478.8,1256.2L479.8,1256.2L480.8,1255.9L481.8,1256.2L482.8,1256.2L483.8,1255.8L483.8,1256.6Z" fill="#a3a3a3"/>
<line x1="306.4" y1="1256.2" x2="483.8" y2="1256.2" stroke="#9a9a9a" stroke-width="1"/>
<text x="307.4" y="1181.1" font-size="16.6">(0-4.25)</text>
<rect x="306.4" y="1257.9" width="177.4" height="89" fill="#fafafa"/>
<path d="M306.4,1346.9L306.4,1339.2L307.4,1340.4L308.4,1339.5L309.4,1340.3L310.4,1339.5L311.4,1340.2L312.4,1339.2L313.4,1339.3L314.4,1338.9L315.4,1339.3L316.4,1340.3L317.4,1339.6L318.4,1339.8L319.4,1339.7L320.4,1338.8L321.4,1339.3L322.4,1339.6L323.4,1339.1L324.4,1338.8L325.4,1338.7L326.4,1338.0L327.4,1339.3L328.4,1339.0L329.5,1339.4L330.5,1339.6L331.5,1339.2L332.5,1339.7L333.5,1340.0L334.5,1339.3L335.5,1339.7L336.5,1339.5L337.5,1340.1L338.5,1340.4L339.5,1339.7L340.5,1339.6L341.5,1338.9L342.5,1340.7L343.5,1340.2L344.5,1340.8L345.5,1340.7L346.5,1340.3L347.5,1341.2L348.5,1341.3L349.5,1341.8L350.5,1341.8L351.5,1341.5L352.5,1341.3L353.5,1341.4L354.5,1341.5L355.5,1341.2L356.5,1341.8L357.5,1341.5L358.5,1341.5L359.5,1341.9L360.5,1341.6L361.5,1341.0L362.5,1341.3L363.5,1341.7L364.5,1340.9L365.5,1340.0L366.5,1340.4L367.5,1340.3L368.5,1341.0L369.5,1339.6L370.5,1340.7L371.5,1340.4L372.5,1341.2L373.6,1340.3L374.6,1341.3L375.6,1341.0L376.6,1341.3L377.6,1341.0L378.6,1341.6L379.6,1341.9L380.6,1341.1L381.6,1341.8L382.6,1341.5L383.6,1341.0L384.6,1342.1L385.6,1341.8L386.6,1341.8L387.6,1341.4L388.6,1341.5L389.6,1341.0L390.6,1341.8L391.6,1341.0L392.6,1341.0L393.6,1340.7L394.6,1339.6L395.6,1341.4L396.6,1340.5L397.6,1339.6L398.6,1339.8L399.6,1340.2L400.6,1339.8L401.6,1339.1L402.6,1340.0L403.6,1340.2L404.6,1340.2L405.6,1339.3L406.6,1338.0L407.6,1338.4L408.6,1338.4L409.6,1337.3L410.6,1337.7L411.6,1334.8L412.6,1334.8L413.6,1333.7L414.6,1335.0L415.6,1334.8L416.6,1332.8L417.7,1331.8L418.7,1328.8L419.7,1325.6L420.7,1326.3L421.7,1327.2L422.7,1324.4L423.7,1325.0L424.7,1324.0L425.7,1325.5L426.7,1327.3L427.7,1327.5L428.7,1322.0L429.7,1322.5L430.7,1319.7L431.7,1316.4L432.7,1310.9L433.7,1314.5L434.7,1318.2L435.7,1319.5L436.7,1323.8L437.7,1326.1L438.7,1326.6L439.7,1329.2L440.7,1333.6L441.7,1336.8L442.7,1338.2L443.7,1339.6L444.7,1341.3L445.7,1342.2L446.7,1342.3L447.7,1342.7L448.7,1342.9L449.7,1343.7L450.7,1344.4L451.7,1344.4L452.7,1345.2L453.7,1345.0L454.7,1345.4L455.7,1345.6L456.7,1345.6L457.7,1345.8L458.7,1345.6L459.7,1346.1L460.7,1346.0L461.8,1346.2L462.8,1346.1L463.8,1346.2L464.8,1346.5L465.8,1346.3L466.8,1346.3L467.8,1346.4L468.8,1346.5L469.8,1345.6L470.8,1346.0L471.8,1346.2L472.8,1346.2L473.8,1345.9L474.8,1346.5L475.8,1346.3L476.8,1345.9L477.8,1346.3L478.8,1346.4L479.8,1346.1L480.8,1346.2L481.8,1346.4L482.8,1346.3L483.8,1346.3L483.8,1346.9Z" fill="#3441a0"/>
<line x1="306.4" y1="1346.5" x2="483.8" y2="1346.5" stroke="#5a66b8" stroke-width="1"/>
<text x="307.4" y="1271.4" font-size="16.6">(0-4.25)</text>
<rect x="518.7" y="972.1" width="169.3" height="3.6" fill="#000"/><polygon points="505.7,973.9 519.7,966.9 519.7,980.9" fill="#000"/><polygon points="701,973.9 687,966.9 687,980.9" fill="#000"/>
<text x="601.5" y="962.5" font-size="23.4" text-anchor="middle">20kb</text>
<rect x="513.5" y="987" width="177.5" height="89" fill="#fafafa"/>
<path d="M513.5,1076.0L513.5,1064.0L514.5,1066.6L515.5,1068.5L516.5,1071.0L517.5,1072.0L518.5,1071.4L519.5,1072.6L520.5,1071.7L521.5,1072.1L522.5,1072.5L523.5,1073.2L524.5,1072.4L525.5,1069.7L526.5,1067.3L527.5,1066.1L528.5,1063.3L529.5,1049.5L530.5,1037.1L531.6,1028.7L532.6,1018.3L533.6,1004.0L534.6,1009.9L535.6,1010.3L536.6,1007.8L537.6,1011.0L538.6,1013.8L539.6,1023.0L540.6,1032.6L541.6,1041.4L542.6,1041.1L543.6,1048.2L544.6,1055.8L545.6,1059.9L546.6,1062.7L547.6,1064.5L548.6,1068.4L549.6,1069.4L550.6,1069.8L551.6,1070.1L552.6,1070.2L553.6,1070.4L554.6,1071.4L555.6,1071.7L556.6,1072.1L557.6,1072.5L558.6,1072.2L559.6,1072.3L560.6,1071.5L561.6,1072.0L562.6,1072.2L563.6,1072.4L564.6,1071.9L565.6,1071.5L566.6,1071.2L567.7,1072.1L568.7,1072.2L569.7,1072.3L570.7,1072.2L571.7,1072.7L572.7,1071.9L573.7,1071.6L574.7,1071.9L575.7,1072.3L576.7,1072.7L577.7,1073.1L578.7,1073.0L579.7,1073.1L580.7,1073.1L581.7,1072.5L582.7,1073.1L583.7,1073.4L584.7,1073.3L585.7,1073.1L586.7,1073.5L587.7,1073.1L588.7,1073.4L589.7,1073.5L590.7,1073.3L591.7,1073.2L592.7,1073.5L593.7,1073.6L594.7,1073.7L595.7,1073.5L596.7,1073.4L597.7,1073.4L598.7,1073.0L599.7,1073.1L600.7,1073.4L601.7,1073.5L602.8,1073.3L603.8,1072.1L604.8,1071.9L605.8,1070.9L606.8,1070.2L607.8,1067.9L608.8,1059.2L609.8,1054.4L610.8,1050.1L611.8,1047.9L612.8,1056.6L613.8,1066.8L614.8,1068.9L615.8,1071.6L616.8,1073.2L617.8,1073.6L618.8,1073.4L619.8,1073.3L620.8,1073.7L621.8,1073.2L622.8,1073.8L623.8,1073.9L624.8,1073.7L625.8,1073.1L626.8,1074.0L627.8,1073.1L628.8,1073.6L629.8,1073.4L630.8,1073.1L631.8,1073.4L632.8,1073.6L633.8,1073.7L634.8,1072.7L635.8,1071.1L636.8,1070.5L637.9,1069.6L638.9,1067.4L639.9,1066.7L640.9,1065.0L641.9,1069.4L642.9,1072.2L643.9,1072.9L644.9,1072.2L645.9,1073.0L646.9,1072.6L647.9,1072.8L648.9,1072.9L649.9,1073.0L650.9,1072.9L651.9,1073.0L652.9,1072.5L653.9,1073.0L654.9,1072.4L655.9,1073.1L656.9,1072.9L657.9,1072.9L658.9,1073.2L659.9,1073.1L660.9,1073.1L661.9,1073.0L662.9,1073.4L663.9,1073.1L664.9,1072.8L665.9,1072.7L666.9,1073.0L667.9,1073.2L668.9,1073.6L669.9,1072.8L670.9,1073.4L671.9,1072.9L672.9,1073.2L674.0,1071.1L675.0,1068.6L676.0,1067.4L677.0,1063.0L678.0,1057.5L679.0,1047.6L680.0,1044.9L681.0,1037.1L682.0,1039.5L683.0,1039.8L684.0,1037.1L685.0,1034.6L686.0,1042.0L687.0,1040.5L688.0,1037.1L689.0,1042.4L690.0,1040.5L691.0,1044.9L691.0,1076.0Z" fill="#a3a3a3"/>
<line x1="513.5" y1="1075.6" x2="691" y2="1075.6" stroke="#9a9a9a" stroke-width="1"/>
<text x="514.5" y="1000.5" font-size="16.6">(0-8.74)</text>
<rect x="513.5" y="1077.5" width="177.5" height="89" fill="#fafafa"/>
<path d="M513.5,1166.5L513.5,1152.5L514.5,1155.5L515.5,1158.3L516.5,1160.7L517.5,1161.7L518.5,1161.9L519.5,1162.4L520.5,1162.9L521.5,1162.2L522.5,1162.6L523.5,1162.7L524.5,1160.8L525.5,1159.9L526.5,1157.2L527.5,1154.8L528.5,1151.8L529.5,1135.5L530.5,1121.9L531.6,1114.0L532.6,1106.2L533.6,1096.2L534.6,1098.2L535.6,1085.6L536.6,1097.7L537.6,1096.4L538.6,1106.9L539.6,1101.7L540.6,1122.4L541.6,1119.9L542.6,1130.1L543.6,1135.7L544.6,1141.7L545.6,1147.9L546.6,1152.2L547.6,1155.5L548.6,1157.9L549.6,1159.6L550.6,1159.6L551.6,1161.1L552.6,1161.2L553.6,1160.2L554.6,1162.3L555.6,1162.0L556.6,1161.7L557.6,1162.5L558.6,1162.9L559.6,1162.3L560.6,1162.3L561.6,1162.1L562.6,1162.4L563.6,1162.4L564.6,1161.7L565.6,1161.4L566.6,1162.5L567.7,1161.5L568.7,1162.2L569.7,1162.0L570.7,1162.2L571.7,1162.5L572.7,1162.3L573.7,1162.1L574.7,1162.8L575.7,1162.7L576.7,1162.6L577.7,1163.2L578.7,1162.9L579.7,1162.9L580.7,1163.4L581.7,1162.3L582.7,1163.2L583.7,1163.7L584.7,1163.2L585.7,1163.8L586.7,1163.7L587.7,1163.4L588.7,1163.4L589.7,1163.8L590.7,1163.5L591.7,1163.9L592.7,1163.5L593.7,1163.8L594.7,1163.6L595.7,1163.7L596.7,1163.9L597.7,1163.4L598.7,1163.4L599.7,1163.7L600.7,1163.8L601.7,1163.6L602.8,1163.3L603.8,1162.4L604.8,1161.4L605.8,1160.5L606.8,1159.3L607.8,1157.8L608.8,1150.6L609.8,1140.2L610.8,1130.3L611.8,1133.4L612.8,1146.6L613.8,1154.8L614.8,1158.7L615.8,1161.6L616.8,1163.7L617.8,1163.9L618.8,1163.7L619.8,1163.3L620.8,1163.4L621.8,1163.2L622.8,1163.3L623.8,1163.7L624.8,1163.7L625.8,1163.6L626.8,1163.2L627.8,1163.4L628.8,1163.6L629.8,1163.6L630.8,1163.3L631.8,1163.6L632.8,1163.7L633.8,1163.7L634.8,1163.1L635.8,1161.1L636.8,1160.0L637.9,1159.2L638.9,1156.7L639.9,1154.0L640.9,1154.4L641.9,1158.6L642.9,1161.9L643.9,1162.6L644.9,1162.5L645.9,1163.2L646.9,1162.9L647.9,1163.4L648.9,1162.5L649.9,1162.8L650.9,1163.0L651.9,1162.7L652.9,1163.1L653.9,1163.2L654.9,1162.5L655.9,1163.2L656.9,1163.5L657.9,1163.3L658.9,1162.9L659.9,1163.4L660.9,1163.7L661.9,1163.7L662.9,1163.6L663.9,1163.8L664.9,1163.2L665.9,1163.6L666.9,1163.2L667.9,1163.6L668.9,1163.8L669.9,1163.2L670.9,1163.7L671.9,1163.4L672.9,1163.9L674.0,1162.1L675.0,1158.6L676.0,1155.4L677.0,1152.4L678.0,1143.1L679.0,1140.0L680.0,1127.8L681.0,1122.9L682.0,1125.7L683.0,1126.4L684.0,1121.9L685.0,1129.9L686.0,1125.8L687.0,1131.3L688.0,1124.8L689.0,1127.6L690.0,1132.4L691.0,1128.6L691.0,1166.5Z" fill="#3441a0"/>
<line x1="513.5" y1="1166.1" x2="691" y2="1166.1" stroke="#5a66b8" stroke-width="1"/>
<text x="514.5" y="1091" font-size="16.6">(0-8.74)</text>
<rect x="513.5" y="1167.6" width="177.5" height="89" fill="#fafafa"/>
<path d="M513.5,1256.6L513.5,1253.4L514.5,1253.4L515.5,1254.7L516.5,1255.0L517.5,1255.4L518.5,1255.3L519.5,1255.3L520.5,1255.7L521.5,1255.4L522.5,1255.4L523.5,1255.4L524.5,1255.5L525.5,1254.9L526.5,1254.2L527.5,1253.4L528.5,1252.7L529.5,1250.0L530.5,1246.5L531.6,1243.7L532.6,1240.4L533.6,1239.2L534.6,1239.3L535.6,1238.0L536.6,1240.9L537.6,1240.0L538.6,1239.7L539.6,1242.1L540.6,1243.6L541.6,1245.9L542.6,1248.0L543.6,1249.3L544.6,1250.8L545.6,1251.7L546.6,1252.7L547.6,1253.4L548.6,1253.9L549.6,1254.3L550.6,1254.6L551.6,1254.5L552.6,1254.9L553.6,1254.7L554.6,1255.0L555.6,1255.4L556.6,1255.6L557.6,1255.2L558.6,1255.0L559.6,1254.9L560.6,1255.2L561.6,1255.2L562.6,1255.4L563.6,1255.5L564.6,1255.1L565.6,1255.3L566.6,1255.6L567.7,1255.4L568.7,1255.2L569.7,1255.3L570.7,1255.4L571.7,1255.4L572.7,1255.3L573.7,1255.4L574.7,1255.8L575.7,1255.3L576.7,1255.6L577.7,1255.7L578.7,1255.9L579.7,1255.8L580.7,1255.6L581.7,1255.6L582.7,1255.3L583.7,1255.9L584.7,1255.0L585.7,1255.9L586.7,1255.8L587.7,1255.7L588.7,1255.8L589.7,1255.3L590.7,1255.8L591.7,1255.9L592.7,1255.5L593.7,1255.6L594.7,1255.9L595.7,1255.8L596.7,1256.0L597.7,1255.1L598.7,1256.0L599.7,1255.7L600.7,1255.2L601.7,1255.9L602.8,1255.8L603.8,1255.5L604.8,1254.9L605.8,1255.1L606.8,1255.1L607.8,1254.4L608.8,1252.1L609.8,1250.8L610.8,1248.4L611.8,1249.6L612.8,1251.2L613.8,1254.2L614.8,1254.5L615.8,1255.3L616.8,1255.5L617.8,1255.5L618.8,1255.8L619.8,1255.6L620.8,1255.7L621.8,1255.9L622.8,1255.7L623.8,1255.5L624.8,1255.9L625.8,1255.3L626.8,1255.4L627.8,1255.4L628.8,1255.9L629.8,1255.9L630.8,1255.8L631.8,1255.8L632.8,1255.2L633.8,1255.7L634.8,1255.5L635.8,1255.2L636.8,1254.9L637.9,1254.2L638.9,1253.5L639.9,1252.6L640.9,1253.9L641.9,1254.6L642.9,1255.1L643.9,1255.8L644.9,1255.3L645.9,1255.4L646.9,1255.5L647.9,1255.7L648.9,1255.4L649.9,1255.7L650.9,1255.5L651.9,1255.8L652.9,1255.2L653.9,1255.7L654.9,1255.3L655.9,1255.5L656.9,1255.6L657.9,1255.8L658.9,1255.5L659.9,1255.7L660.9,1255.8L661.9,1255.8L662.9,1255.8L663.9,1255.9L664.9,1255.8L665.9,1255.6L666.9,1255.8L667.9,1255.9L668.9,1255.6L669.9,1255.3L670.9,1255.7L671.9,1255.9L672.9,1255.7L674.0,1254.9L675.0,1254.2L676.0,1253.5L677.0,1253.2L678.0,1250.6L679.0,1248.6L680.0,1248.2L681.0,1246.4L682.0,1246.1L683.0,1246.2L684.0,1245.8L685.0,1247.4L686.0,1244.7L687.0,1246.9L688.0,1248.3L689.0,1247.0L690.0,1248.1L691.0,1248.1L691.0,1256.6Z" fill="#a3a3a3"/>
<line x1="513.5" y1="1256.2" x2="691" y2="1256.2" stroke="#9a9a9a" stroke-width="1"/>
<text x="514.5" y="1181.1" font-size="16.6">(0-8.74)</text>
<rect x="513.5" y="1257.9" width="177.5" height="89" fill="#fafafa"/>
<path d="M513.5,1346.9L513.5,1341.2L514.5,1342.6L515.5,1342.9L516.5,1344.1L517.5,1345.2L518.5,1345.0L519.5,1344.9L520.5,1344.8L521.5,1345.0L522.5,1345.0L523.5,1345.1L524.5,1344.4L525.5,1344.3L526.5,1343.0L527.5,1342.2L528.5,1340.7L529.5,1334.2L530.5,1327.2L531.6,1322.5L532.6,1318.6L533.6,1320.7L534.6,1313.0L535.6,1317.0L536.6,1314.6L537.6,1313.1L538.6,1316.1L539.6,1324.1L540.6,1324.9L541.6,1329.3L542.6,1331.7L543.6,1335.5L544.6,1336.7L545.6,1339.2L546.6,1340.2L547.6,1342.2L548.6,1342.9L549.6,1344.0L550.6,1343.7L551.6,1343.9L552.6,1344.0L553.6,1343.9L554.6,1344.3L555.6,1345.1L556.6,1344.9L557.6,1344.7L558.6,1345.0L559.6,1345.2L560.6,1344.7L561.6,1345.1L562.6,1345.3L563.6,1344.9L564.6,1344.8L565.6,1344.5L566.6,1344.5L567.7,1345.0L568.7,1344.8L569.7,1344.9L570.7,1344.7L571.7,1344.5L572.7,1345.2L573.7,1344.8L574.7,1345.0L575.7,1345.0L576.7,1345.2L577.7,1345.2L578.7,1345.2L579.7,1344.9L580.7,1345.2L581.7,1345.6L582.7,1345.5L583.7,1345.6L584.7,1345.7L585.7,1345.6L586.7,1345.8L587.7,1345.6L588.7,1345.5L589.7,1345.6L590.7,1345.7L591.7,1345.3L592.7,1345.6L593.7,1345.3L594.7,1345.4L595.7,1345.5L596.7,1345.2L597.7,1345.5L598.7,1345.6L599.7,1345.8L600.7,1345.7L601.7,1345.8L602.8,1344.4L603.8,1344.9L604.8,1344.8L605.8,1344.7L606.8,1344.1L607.8,1342.7L608.8,1339.3L609.8,1335.9L610.8,1333.5L611.8,1333.3L612.8,1338.1L613.8,1342.2L614.8,1343.0L615.8,1344.0L616.8,1345.2L617.8,1345.6L618.8,1345.6L619.8,1345.2L620.8,1345.6L621.8,1345.8L622.8,1345.7L623.8,1345.5L624.8,1345.6L625.8,1345.5L626.8,1345.6L627.8,1345.6L628.8,1345.6L629.8,1345.3L630.8,1345.2L631.8,1345.8L632.8,1345.6L633.8,1345.5L634.8,1345.1L635.8,1344.3L636.8,1344.1L637.9,1343.5L638.9,1342.8L639.9,1340.7L640.9,1341.7L641.9,1343.4L642.9,1345.1L643.9,1345.5L644.9,1345.7L645.9,1344.8L646.9,1345.7L647.9,1345.2L648.9,1345.0L649.9,1345.1L650.9,1345.6L651.9,1345.6L652.9,1345.3L653.9,1345.3L654.9,1345.6L655.9,1345.5L656.9,1345.5L657.9,1345.5L658.9,1345.6L659.9,1345.6L660.9,1345.4L661.9,1345.1L662.9,1345.3L663.9,1345.5L664.9,1345.3L665.9,1345.5L666.9,1345.4L667.9,1345.6L668.9,1344.9L669.9,1345.1L670.9,1345.3L671.9,1345.6L672.9,1345.8L674.0,1344.6L675.0,1343.7L676.0,1342.4L677.0,1339.8L678.0,1338.5L679.0,1335.1L680.0,1331.8L681.0,1329.0L682.0,1329.1L683.0,1326.7L684.0,1328.4L685.0,1329.8L686.0,1329.2L687.0,1330.3L688.0,1329.8L689.0,1331.4L690.0,1331.7L691.0,1330.4L691.0,1346.9Z" fill="#3441a0"/>
<line x1="513.5" y1="1346.5" x2="691" y2="1346.5" stroke="#5a66b8" stroke-width="1"/>
<text x="514.5" y="1271.4" font-size="16.6">(0-8.74)</text>
<rect x="741.6" y="972.1" width="168.7" height="3.6" fill="#000"/><polygon points="728.6,973.9 742.6,966.9 742.6,980.9" fill="#000"/><polygon points="923.3,973.9 909.3,966.9 909.3,980.9" fill="#000"/>
<text x="829.9" y="962.5" font-size="23.4" text-anchor="middle">17kb</text>
<rect x="738.7" y="987" width="177.3" height="89" fill="#fafafa"/>
<path d="M738.7,1076.0L738.7,1074.8L739.7,1075.0L740.7,1075.1L741.7,1074.9L742.7,1075.0L743.7,1075.0L744.7,1075.1L745.7,1074.9L746.7,1075.1L747.7,1075.1L748.7,1074.7L749.7,1074.6L750.7,1074.1L751.7,1073.4L752.7,1072.3L753.7,1071.8L754.7,1062.0L755.7,1051.8L756.7,1043.1L757.7,1028.5L758.7,1015.6L759.7,1005.6L760.7,1008.2L761.7,1014.7L762.7,1031.7L763.7,1028.7L764.7,1040.5L765.7,1046.9L766.7,1061.0L767.7,1066.3L768.8,1069.4L769.8,1071.2L770.8,1073.8L771.8,1073.7L772.8,1073.4L773.8,1073.5L774.8,1073.5L775.8,1073.9L776.8,1073.2L777.8,1073.9L778.8,1073.9L779.8,1073.9L780.8,1073.9L781.8,1074.1L782.8,1073.5L783.8,1074.0L784.8,1073.8L785.8,1073.6L786.8,1073.7L787.8,1074.1L788.8,1073.7L789.8,1074.2L790.8,1074.1L791.8,1074.2L792.8,1074.0L793.8,1074.4L794.8,1074.2L795.8,1074.3L796.8,1073.9L797.8,1074.2L798.8,1074.0L799.8,1074.2L800.8,1073.1L801.8,1074.5L802.8,1073.9L803.8,1074.4L804.8,1074.3L805.8,1074.5L806.8,1073.8L807.8,1074.2L808.8,1074.2L809.8,1074.0L810.8,1074.3L811.8,1074.5L812.8,1074.6L813.8,1074.5L814.8,1074.2L815.8,1074.4L816.8,1074.1L817.8,1073.9L818.8,1073.7L819.8,1074.2L820.8,1074.0L821.8,1074.3L822.8,1074.3L823.8,1074.4L824.8,1074.1L825.8,1074.5L826.8,1074.4L827.9,1074.3L828.9,1074.1L829.9,1074.3L830.9,1074.1L831.9,1073.9L832.9,1074.2L833.9,1074.2L834.9,1073.8L835.9,1074.4L836.9,1074.2L837.9,1073.7L838.9,1074.5L839.9,1074.0L840.9,1074.2L841.9,1074.1L842.9,1073.8L843.9,1074.1L844.9,1074.3L845.9,1074.2L846.9,1074.4L847.9,1074.2L848.9,1074.3L849.9,1073.8L850.9,1073.8L851.9,1074.0L852.9,1074.1L853.9,1074.4L854.9,1074.2L855.9,1074.2L856.9,1074.3L857.9,1074.1L858.9,1074.0L859.9,1074.3L860.9,1074.1L861.9,1073.9L862.9,1073.9L863.9,1073.9L864.9,1073.5L865.9,1073.7L866.9,1074.0L867.9,1074.0L868.9,1074.1L869.9,1074.0L870.9,1073.5L871.9,1073.9L872.9,1073.8L873.9,1073.4L874.9,1073.5L875.9,1074.0L876.9,1074.0L877.9,1073.9L878.9,1073.6L879.9,1073.4L880.9,1073.7L881.9,1073.4L882.9,1073.6L883.9,1073.8L884.9,1072.5L885.9,1073.8L887.0,1073.0L888.0,1073.6L889.0,1073.4L890.0,1073.3L891.0,1073.8L892.0,1072.9L893.0,1072.8L894.0,1073.8L895.0,1072.8L896.0,1073.6L897.0,1073.5L898.0,1073.5L899.0,1073.2L900.0,1072.0L901.0,1071.7L902.0,1071.9L903.0,1070.7L904.0,1070.9L905.0,1072.0L906.0,1072.5L907.0,1074.0L908.0,1074.1L909.0,1074.0L910.0,1074.0L911.0,1074.4L912.0,1074.5L913.0,1074.4L914.0,1075.0L915.0,1074.8L916.0,1074.7L916.0,1076.0Z" fill="#a3a3a3"/>
<line x1="738.7" y1="1075.6" x2="916" y2="1075.6" stroke="#9a9a9a" stroke-width="1"/>
<text x="739.7" y="1000.5" font-size="16.6">(0-5.24)</text>
<rect x="738.7" y="1077.5" width="177.3" height="89" fill="#fafafa"/>
<path d="M738.7,1166.5L738.7,1165.4L739.7,1165.4L740.7,1165.3L741.7,1165.5L742.7,1165.4L743.7,1165.4L744.7,1165.2L745.7,1165.5L746.7,1165.3L747.7,1165.5L748.7,1165.6L749.7,1165.0L750.7,1164.4L751.7,1163.7L752.7,1162.9L753.7,1162.6L754.7,1150.3L755.7,1141.0L756.7,1127.3L757.7,1116.0L758.7,1096.8L759.7,1092.6L760.7,1094.8L761.7,1101.7L762.7,1106.7L763.7,1110.4L764.7,1120.5L765.7,1137.8L766.7,1148.9L767.7,1153.6L768.8,1157.7L769.8,1160.5L770.8,1163.7L771.8,1163.2L772.8,1163.2L773.8,1163.6L774.8,1163.6L775.8,1163.9L776.8,1164.1L777.8,1164.2L778.8,1164.4L779.8,1163.6L780.8,1164.0L781.8,1164.2L782.8,1164.0L783.8,1163.9L784.8,1164.1L785.8,1164.3L786.8,1163.9L787.8,1164.1L788.8,1164.2L789.8,1164.5L790.8,1164.3L791.8,1164.4L792.8,1164.3L793.8,1164.3L794.8,1164.8L795.8,1164.6L796.8,1164.8L797.8,1164.6L798.8,1164.5L799.8,1164.6L800.8,1164.5L801.8,1164.2L802.8,1164.0L803.8,1164.6L804.8,1164.7L805.8,1163.9L806.8,1164.6L807.8,1164.3L808.8,1164.5L809.8,1164.4L810.8,1163.8L811.8,1164.5L812.8,1164.7L813.8,1164.3L814.8,1164.0L815.8,1164.3L816.8,1164.8L817.8,1164.4L818.8,1163.9L819.8,1164.5L820.8,1164.7L821.8,1164.4L822.8,1164.2L823.8,1164.0L824.8,1164.6L825.8,1164.7L826.8,1164.0L827.9,1164.1L828.9,1164.5L829.9,1164.2L830.9,1164.3L831.9,1164.5L832.9,1164.5L833.9,1164.4L834.9,1164.9L835.9,1164.4L836.9,1164.3L837.9,1164.5L838.9,1164.4L839.9,1164.6L840.9,1164.6L841.9,1164.5L842.9,1164.1L843.9,1164.4L844.9,1164.8L845.9,1164.7L846.9,1164.7L847.9,1164.3L848.9,1164.3L849.9,1164.2L850.9,1164.8L851.9,1164.1L852.9,1164.6L853.9,1163.8L854.9,1164.6L855.9,1164.1L856.9,1164.7L857.9,1164.3L858.9,1164.4L859.9,1164.0L860.9,1164.4L861.9,1164.1L862.9,1163.7L863.9,1164.5L864.9,1163.8L865.9,1163.9L866.9,1164.0L867.9,1164.4L868.9,1164.2L869.9,1163.9L870.9,1163.7L871.9,1163.7L872.9,1164.1L873.9,1163.9L874.9,1164.0L875.9,1164.0L876.9,1164.5L877.9,1164.0L878.9,1163.3L879.9,1164.2L880.9,1163.3L881.9,1163.5L882.9,1164.1L883.9,1163.7L884.9,1164.0L885.9,1163.8L887.0,1163.9L888.0,1164.2L889.0,1164.0L890.0,1163.7L891.0,1163.9L892.0,1163.9L893.0,1163.9L894.0,1164.0L895.0,1164.0L896.0,1163.7L897.0,1163.8L898.0,1163.2L899.0,1163.0L900.0,1162.6L901.0,1162.1L902.0,1161.2L903.0,1160.4L904.0,1160.5L905.0,1162.3L906.0,1163.1L907.0,1164.2L908.0,1164.7L909.0,1164.8L910.0,1164.8L911.0,1164.9L912.0,1165.2L913.0,1164.9L914.0,1164.9L915.0,1164.9L916.0,1165.6L916.0,1166.5Z" fill="#3441a0"/>
<line x1="738.7" y1="1166.1" x2="916" y2="1166.1" stroke="#5a66b8" stroke-width="1"/>
<text x="739.7" y="1091" font-size="16.6">(0-5.24)</text>
<rect x="738.7" y="1167.6" width="177.3" height="89" fill="#fafafa"/>
<path d="M738.7,1256.6L738.7,1255.9L739.7,1255.9L740.7,1255.9L741.7,1256.2L742.7,1256.0L743.7,1256.2L744.7,1256.2L745.7,1256.0L746.7,1256.2L747.7,1256.2L748.7,1255.8L749.7,1255.0L750.7,1255.9L751.7,1255.6L752.7,1255.4L753.7,1254.7L754.7,1251.6L755.7,1248.4L756.7,1244.6L757.7,1239.9L758.7,1234.8L759.7,1235.1L760.7,1236.5L761.7,1235.5L762.7,1239.8L763.7,1238.1L764.7,1242.5L765.7,1247.3L766.7,1250.7L767.7,1252.9L768.8,1254.2L769.8,1254.5L770.8,1255.5L771.8,1255.7L772.8,1255.5L773.8,1255.4L774.8,1255.7L775.8,1255.5L776.8,1255.3L777.8,1255.8L778.8,1255.7L779.8,1255.5L780.8,1255.8L781.8,1255.8L782.8,1255.3L783.8,1255.7L784.8,1255.9L785.8,1256.0L786.8,1255.7L787.8,1256.0L788.8,1255.4L789.8,1255.2L790.8,1255.9L791.8,1255.7L792.8,1255.7L793.8,1256.0L794.8,1255.6L795.8,1255.8L796.8,1255.9L797.8,1255.8L798.8,1256.0L799.8,1255.8L800.8,1255.8L801.8,1255.7L802.8,1255.9L803.8,1256.0L804.8,1255.8L805.8,1255.7L806.8,1255.9L807.8,1255.8L808.8,1255.9L809.8,1255.9L810.8,1256.0L811.8,1256.0L812.8,1256.0L813.8,1256.0L814.8,1255.8L815.8,1255.6L816.8,1255.9L817.8,1255.5L818.8,1255.7L819.8,1255.9L820.8,1256.0L821.8,1255.3L822.8,1256.0L823.8,1255.6L824.8,1256.0L825.8,1255.4L826.8,1255.6L827.9,1255.8L828.9,1255.6L829.9,1255.8L830.9,1255.9L831.9,1255.8L832.9,1255.5L833.9,1256.0L834.9,1255.6L835.9,1255.8L836.9,1255.6L837.9,1256.0L838.9,1255.9L839.9,1255.9L840.9,1255.9L841.9,1255.6L842.9,1255.7L843.9,1255.6L844.9,1255.5L845.9,1255.6L846.9,1255.9L847.9,1255.9L848.9,1255.9L849.9,1255.2L850.9,1255.9L851.9,1255.4L852.9,1255.8L853.9,1255.9L854.9,1255.3L855.9,1255.7L856.9,1256.0L857.9,1255.6L858.9,1255.7L859.9,1255.5L860.9,1255.6L861.9,1255.8L862.9,1255.8L863.9,1255.9L864.9,1255.9L865.9,1255.9L866.9,1255.7L867.9,1255.7L868.9,1255.7L869.9,1255.6L870.9,1255.3L871.9,1255.4L872.9,1255.8L873.9,1255.7L874.9,1255.8L875.9,1255.9L876.9,1255.5L877.9,1255.7L878.9,1255.8L879.9,1255.8L880.9,1255.8L881.9,1255.9L882.9,1255.8L883.9,1255.6L884.9,1255.8L885.9,1255.7L887.0,1255.4L888.0,1255.8L889.0,1255.7L890.0,1255.6L891.0,1255.6L892.0,1255.9L893.0,1255.8L894.0,1255.7L895.0,1255.7L896.0,1255.8L897.0,1255.3L898.0,1255.5L899.0,1255.3L900.0,1255.0L901.0,1255.0L902.0,1254.2L903.0,1254.5L904.0,1254.6L905.0,1255.1L906.0,1255.2L907.0,1256.0L908.0,1255.7L909.0,1255.9L910.0,1256.1L911.0,1255.9L912.0,1255.8L913.0,1256.1L914.0,1256.2L915.0,1256.2L916.0,1256.1L916.0,1256.6Z" fill="#a3a3a3"/>
<line x1="738.7" y1="1256.2" x2="916" y2="1256.2" stroke="#9a9a9a" stroke-width="1"/>
<text x="739.7" y="1181.1" font-size="16.6">(0-5.24)</text>
<rect x="738.7" y="1257.9" width="177.3" height="89" fill="#fafafa"/>
<path d="M738.7,1346.9L738.7,1346.2L739.7,1346.2L740.7,1346.2L741.7,1346.4L742.7,1346.3L743.7,1346.4L744.7,1346.3L745.7,1345.9L746.7,1346.5L747.7,1346.2L748.7,1346.3L749.7,1346.2L750.7,1346.1L751.7,1345.2L752.7,1345.1L753.7,1344.1L754.7,1339.1L755.7,1333.0L756.7,1325.9L757.7,1320.0L758.7,1311.7L759.7,1313.0L760.7,1313.3L761.7,1313.2L762.7,1313.7L763.7,1319.9L764.7,1322.8L765.7,1328.6L766.7,1337.1L767.7,1340.2L768.8,1342.6L769.8,1343.7L770.8,1345.3L771.8,1345.0L772.8,1345.5L773.8,1345.2L774.8,1345.2L775.8,1345.2L776.8,1345.6L777.8,1345.4L778.8,1345.4L779.8,1345.7L780.8,1345.2L781.8,1345.3L782.8,1345.6L783.8,1345.7L784.8,1345.7L785.8,1345.3L786.8,1345.7L787.8,1345.5L788.8,1345.5L789.8,1345.7L790.8,1345.8L791.8,1345.8L792.8,1345.7L793.8,1345.9L794.8,1345.7L795.8,1345.9L796.8,1345.9L797.8,1345.9L798.8,1345.7L799.8,1345.6L800.8,1345.5L801.8,1345.5L802.8,1345.6L803.8,1345.9L804.8,1345.9L805.8,1345.9L806.8,1345.5L807.8,1345.7L808.8,1345.5L809.8,1345.7L810.8,1346.1L811.8,1346.1L812.8,1345.4L813.8,1345.6L814.8,1345.8L815.8,1345.6L816.8,1345.8L817.8,1345.7L818.8,1345.8L819.8,1345.9L820.8,1346.0L821.8,1345.8L822.8,1345.5L823.8,1345.9L824.8,1345.9L825.8,1345.3L826.8,1345.8L827.9,1345.7L828.9,1345.8L829.9,1345.4L830.9,1345.8L831.9,1345.8L832.9,1345.6L833.9,1345.6L834.9,1346.0L835.9,1345.7L836.9,1345.9L837.9,1345.5L838.9,1346.0L839.9,1345.8L840.9,1345.7L841.9,1345.9L842.9,1345.7L843.9,1345.9L844.9,1345.8L845.9,1345.9L846.9,1345.4L847.9,1346.0L848.9,1345.7L849.9,1345.7L850.9,1345.7L851.9,1345.6L852.9,1344.9L853.9,1345.7L854.9,1345.8L855.9,1345.3L856.9,1345.3L857.9,1345.8L858.9,1345.7L859.9,1345.7L860.9,1345.8L861.9,1345.8L862.9,1345.3L863.9,1345.5L864.9,1345.7L865.9,1345.8L866.9,1345.5L867.9,1345.5L868.9,1345.2L869.9,1345.6L870.9,1345.5L871.9,1345.5L872.9,1345.7L873.9,1345.3L874.9,1345.5L875.9,1345.4L876.9,1345.7L877.9,1345.4L878.9,1345.5L879.9,1345.3L880.9,1345.1L881.9,1345.5L882.9,1345.0L883.9,1344.9L884.9,1345.7L885.9,1345.6L887.0,1345.5L888.0,1345.6L889.0,1345.0L890.0,1345.3L891.0,1345.5L892.0,1345.2L893.0,1345.0L894.0,1345.2L895.0,1345.4L896.0,1345.3L897.0,1345.2L898.0,1345.1L899.0,1345.0L900.0,1344.6L901.0,1344.9L902.0,1343.4L903.0,1344.1L904.0,1343.4L905.0,1344.2L906.0,1345.1L907.0,1345.8L908.0,1345.5L909.0,1346.1L910.0,1345.6L911.0,1345.9L912.0,1345.9L913.0,1345.4L914.0,1346.2L915.0,1346.1L916.0,1346.4L916.0,1346.9Z" fill="#3441a0"/>
<line x1="738.7" y1="1346.5" x2="916" y2="1346.5" stroke="#5a66b8" stroke-width="1"/>
<text x="739.7" y="1271.4" font-size="16.6">(0-5.24)</text>
<rect x="961" y="976.3" width="168.8" height="3.6" fill="#000"/><polygon points="948,978.1 962,971.1 962,985.1" fill="#000"/><polygon points="1142.8,978.1 1128.8,971.1 1128.8,985.1" fill="#000"/>
<text x="1052.8" y="967.3" font-size="23.4" text-anchor="middle">5,765bp</text>
<rect x="959.5" y="987" width="177.7" height="89" fill="#fafafa"/>
<path d="M959.5,1076.0L959.5,1068.1L960.5,1067.9L961.5,1067.9L962.5,1068.7L963.5,1068.0L964.5,1067.7L965.5,1067.3L966.5,1068.2L967.5,1066.3L968.5,1068.0L969.5,1065.6L970.5,1065.1L971.5,1063.6L972.6,1063.7L973.6,1063.4L974.6,1061.8L975.6,1062.2L976.6,1060.0L977.6,1059.6L978.6,1058.9L979.6,1060.5L980.6,1058.9L981.6,1058.6L982.6,1053.6L983.6,1055.8L984.6,1055.8L985.6,1052.1L986.6,1051.2L987.6,1046.9L988.6,1048.3L989.6,1043.2L990.6,1043.2L991.6,1043.9L992.6,1040.6L993.6,1038.3L994.6,1035.3L995.6,1034.1L996.6,1037.1L997.7,1039.9L998.7,1044.8L999.7,1048.1L1000.7,1051.1L1001.7,1052.9L1002.7,1053.3L1003.7,1058.4L1004.7,1056.6L1005.7,1060.0L1006.7,1061.1L1007.7,1061.1L1008.7,1062.5L1009.7,1063.3L1010.7,1066.1L1011.7,1066.0L1012.7,1067.0L1013.7,1067.7L1014.7,1069.8L1015.7,1070.1L1016.7,1069.4L1017.7,1070.2L1018.7,1070.0L1019.7,1070.0L1020.7,1069.0L1021.7,1069.0L1022.7,1070.0L1023.8,1069.9L1024.8,1069.9L1025.8,1069.6L1026.8,1070.3L1027.8,1068.5L1028.8,1068.3L1029.8,1069.4L1030.8,1067.1L1031.8,1066.6L1032.8,1064.3L1033.8,1064.9L1034.8,1062.6L1035.8,1063.3L1036.8,1061.9L1037.8,1060.8L1038.8,1060.1L1039.8,1059.0L1040.8,1058.1L1041.8,1058.7L1042.8,1058.2L1043.8,1056.6L1044.8,1056.5L1045.8,1052.9L1046.8,1053.2L1047.8,1051.4L1048.9,1051.8L1049.9,1051.3L1050.9,1043.4L1051.9,1048.5L1052.9,1049.3L1053.9,1046.1L1054.9,1040.6L1055.9,1035.9L1056.9,1036.7L1057.9,1031.7L1058.9,1030.5L1059.9,1031.2L1060.9,1023.9L1061.9,1023.6L1062.9,1024.9L1063.9,1018.9L1064.9,1018.4L1065.9,1015.0L1066.9,1002.4L1067.9,1012.6L1068.9,1007.4L1069.9,1012.1L1070.9,1015.8L1071.9,1006.6L1072.9,1007.8L1074.0,999.7L1075.0,1011.2L1076.0,1006.5L1077.0,1011.4L1078.0,1020.1L1079.0,1022.5L1080.0,1022.0L1081.0,1028.2L1082.0,1041.3L1083.0,1051.1L1084.0,1055.3L1085.0,1057.0L1086.0,1059.4L1087.0,1063.7L1088.0,1064.9L1089.0,1068.9L1090.0,1070.9L1091.0,1071.5L1092.0,1071.5L1093.0,1072.8L1094.0,1073.6L1095.0,1074.4L1096.0,1074.4L1097.0,1074.4L1098.0,1074.6L1099.0,1074.2L1100.1,1074.6L1101.1,1074.6L1102.1,1074.7L1103.1,1075.0L1104.1,1074.7L1105.1,1074.8L1106.1,1074.9L1107.1,1074.8L1108.1,1074.9L1109.1,1075.0L1110.1,1075.2L1111.1,1075.3L1112.1,1075.1L1113.1,1074.8L1114.1,1074.7L1115.1,1075.0L1116.1,1074.8L1117.1,1074.9L1118.1,1075.2L1119.1,1075.3L1120.1,1075.3L1121.1,1075.1L1122.1,1075.0L1123.1,1074.5L1124.1,1074.9L1125.2,1075.2L1126.2,1075.1L1127.2,1074.9L1128.2,1074.9L1129.2,1075.0L1130.2,1075.0L1131.2,1074.5L1132.2,1075.0L1133.2,1074.8L1134.2,1075.0L1135.2,1074.5L1136.2,1075.0L1137.2,1075.1L1137.2,1076.0Z" fill="#a3a3a3"/>
<line x1="959.5" y1="1075.6" x2="1137.2" y2="1075.6" stroke="#9a9a9a" stroke-width="1"/>
<text x="960.5" y="1000.5" font-size="16.6">(0-6.08)</text>
<rect x="959.5" y="1077.5" width="177.7" height="89" fill="#fafafa"/>
<path d="M959.5,1166.5L959.5,1156.5L960.5,1157.2L961.5,1156.4L962.5,1156.6L963.5,1156.2L964.5,1156.2L965.5,1156.3L966.5,1156.3L967.5,1154.9L968.5,1154.5L969.5,1154.3L970.5,1152.3L971.5,1150.9L972.6,1152.6L973.6,1153.4L974.6,1150.3L975.6,1148.6L976.6,1148.4L977.6,1147.8L978.6,1145.8L979.6,1145.7L980.6,1144.6L981.6,1144.4L982.6,1144.6L983.6,1141.3L984.6,1142.1L985.6,1139.8L986.6,1133.7L987.6,1135.3L988.6,1130.6L989.6,1131.6L990.6,1126.2L991.6,1124.1L992.6,1125.2L993.6,1117.0L994.6,1120.3L995.6,1117.6L996.6,1117.5L997.7,1131.1L998.7,1126.0L999.7,1134.6L1000.7,1138.8L1001.7,1137.6L1002.7,1142.8L1003.7,1140.2L1004.7,1145.0L1005.7,1145.9L1006.7,1151.4L1007.7,1148.5L1008.7,1152.1L1009.7,1153.4L1010.7,1154.0L1011.7,1155.5L1012.7,1157.1L1013.7,1157.5L1014.7,1157.5L1015.7,1158.3L1016.7,1160.1L1017.7,1159.1L1018.7,1159.2L1019.7,1159.1L1020.7,1159.6L1021.7,1158.6L1022.7,1159.1L1023.8,1158.8L1024.8,1159.1L1025.8,1159.3L1026.8,1159.1L1027.8,1157.9L1028.8,1157.7L1029.8,1158.0L1030.8,1156.4L1031.8,1155.6L1032.8,1153.2L1033.8,1152.7L1034.8,1152.4L1035.8,1150.0L1036.8,1151.0L1037.8,1149.8L1038.8,1148.7L1039.8,1149.9L1040.8,1147.8L1041.8,1149.3L1042.8,1145.3L1043.8,1141.7L1044.8,1141.3L1045.8,1139.4L1046.8,1139.2L1047.8,1136.3L1048.9,1134.9L1049.9,1136.4L1050.9,1134.7L1051.9,1134.2L1052.9,1129.2L1053.9,1127.8L1054.9,1121.9L1055.9,1127.6L1056.9,1125.2L1057.9,1116.2L1058.9,1122.1L1059.9,1112.9L1060.9,1113.7L1061.9,1098.4L1062.9,1103.3L1063.9,1097.0L1064.9,1098.0L1065.9,1097.0L1066.9,1084.2L1067.9,1085.3L1068.9,1088.7L1069.9,1081.9L1070.9,1084.7L1071.9,1077.5L1072.9,1080.4L1074.0,1077.5L1075.0,1091.4L1076.0,1086.7L1077.0,1094.4L1078.0,1103.5L1079.0,1102.9L1080.0,1113.6L1081.0,1117.5L1082.0,1121.0L1083.0,1130.7L1084.0,1138.2L1085.0,1143.5L1086.0,1145.9L1087.0,1152.2L1088.0,1155.7L1089.0,1158.8L1090.0,1160.2L1091.0,1160.4L1092.0,1161.9L1093.0,1162.8L1094.0,1164.0L1095.0,1164.6L1096.0,1164.6L1097.0,1164.7L1098.0,1164.7L1099.0,1164.3L1100.1,1165.1L1101.1,1165.0L1102.1,1165.0L1103.1,1164.9L1104.1,1164.7L1105.1,1164.6L1106.1,1165.2L1107.1,1165.2L1108.1,1165.1L1109.1,1164.9L1110.1,1165.4L1111.1,1165.5L1112.1,1165.3L1113.1,1165.5L1114.1,1164.8L1115.1,1165.6L1116.1,1165.2L1117.1,1164.9L1118.1,1165.4L1119.1,1165.3L1120.1,1165.5L1121.1,1165.3L1122.1,1165.5L1123.1,1164.7L1124.1,1165.6L1125.2,1165.5L1126.2,1165.1L1127.2,1165.3L1128.2,1164.8L1129.2,1164.9L1130.2,1165.2L1131.2,1165.5L1132.2,1165.4L1133.2,1165.1L1134.2,1165.3L1135.2,1165.3L1136.2,1165.6L1137.2,1165.5L1137.2,1166.5Z" fill="#3441a0"/>
<line x1="959.5" y1="1166.1" x2="1137.2" y2="1166.1" stroke="#5a66b8" stroke-width="1"/>
<text x="960.5" y="1091" font-size="16.6">(0-6.08)</text>
<rect x="959.5" y="1167.6" width="177.7" height="89" fill="#fafafa"/>
<path d="M959.5,1256.6L959.5,1254.9L960.5,1254.4L961.5,1254.7L962.5,1254.6L963.5,1254.8L964.5,1254.6L965.5,1254.1L966.5,1254.4L967.5,1254.2L968.5,1254.7L969.5,1254.0L970.5,1254.2L971.5,1254.3L972.6,1253.6L973.6,1253.3L974.6,1253.6L975.6,1253.6L976.6,1253.0L977.6,1253.5L978.6,1252.9L979.6,1253.0L980.6,1252.6L981.6,1252.8L982.6,1252.4L983.6,1253.2L984.6,1251.6L985.6,1251.4L986.6,1251.5L987.6,1251.9L988.6,1250.5L989.6,1249.7L990.6,1249.7L991.6,1248.7L992.6,1248.0L993.6,1247.7L994.6,1247.3L995.6,1248.8L996.6,1248.8L997.7,1249.8L998.7,1250.7L999.7,1250.9L1000.7,1251.4L1001.7,1251.1L1002.7,1252.6L1003.7,1252.9L1004.7,1252.4L1005.7,1252.5L1006.7,1253.3L1007.7,1254.0L1008.7,1253.6L1009.7,1254.3L1010.7,1254.3L1011.7,1254.6L1012.7,1254.6L1013.7,1254.7L1014.7,1254.9L1015.7,1255.3L1016.7,1255.1L1017.7,1254.9L1018.7,1254.9L1019.7,1255.1L1020.7,1255.3L1021.7,1255.2L1022.7,1254.5L1023.8,1254.8L1024.8,1255.2L1025.8,1255.3L1026.8,1255.2L1027.8,1255.1L1028.8,1254.9L1029.8,1254.9L1030.8,1255.1L1031.8,1254.5L1032.8,1254.2L1033.8,1254.2L1034.8,1254.1L1035.8,1253.3L1036.8,1253.1L1037.8,1253.1L1038.8,1253.4L1039.8,1253.1L1040.8,1252.8L1041.8,1252.6L1042.8,1252.0L1043.8,1252.4L1044.8,1252.2L1045.8,1252.1L1046.8,1251.4L1047.8,1252.3L1048.9,1251.4L1049.9,1251.2L1050.9,1251.5L1051.9,1249.8L1052.9,1250.2L1053.9,1249.6L1054.9,1248.8L1055.9,1248.4L1056.9,1248.9L1057.9,1247.3L1058.9,1248.0L1059.9,1245.8L1060.9,1246.5L1061.9,1244.8L1062.9,1245.5L1063.9,1246.1L1064.9,1243.9L1065.9,1242.1L1066.9,1243.8L1067.9,1242.2L1068.9,1240.8L1069.9,1243.7L1070.9,1243.2L1071.9,1242.2L1072.9,1243.2L1074.0,1241.4L1075.0,1243.2L1076.0,1241.1L1077.0,1244.3L1078.0,1243.3L1079.0,1245.7L1080.0,1246.7L1081.0,1248.0L1082.0,1249.1L1083.0,1250.3L1084.0,1252.4L1085.0,1252.4L1086.0,1252.8L1087.0,1253.5L1088.0,1254.9L1089.0,1255.3L1090.0,1255.4L1091.0,1255.2L1092.0,1255.8L1093.0,1255.9L1094.0,1256.2L1095.0,1256.1L1096.0,1256.2L1097.0,1256.2L1098.0,1256.1L1099.0,1256.2L1100.1,1255.8L1101.1,1256.0L1102.1,1256.2L1103.1,1256.2L1104.1,1256.1L1105.1,1256.1L1106.1,1256.2L1107.1,1256.2L1108.1,1256.2L1109.1,1256.2L1110.1,1256.1L1111.1,1256.1L1112.1,1256.0L1113.1,1256.2L1114.1,1256.2L1115.1,1256.2L1116.1,1256.2L1117.1,1256.0L1118.1,1256.2L1119.1,1256.2L1120.1,1256.2L1121.1,1256.2L1122.1,1255.8L1123.1,1256.2L1124.1,1255.8L1125.2,1256.0L1126.2,1256.1L1127.2,1256.2L1128.2,1256.2L1129.2,1256.2L1130.2,1256.2L1131.2,1256.0L1132.2,1256.2L1133.2,1256.2L1134.2,1256.1L1135.2,1256.2L1136.2,1256.2L1137.2,1255.6L1137.2,1256.6Z" fill="#a3a3a3"/>
<line x1="959.5" y1="1256.2" x2="1137.2" y2="1256.2" stroke="#9a9a9a" stroke-width="1"/>
<text x="960.5" y="1181.1" font-size="16.6">(0-6.08)</text>
<rect x="959.5" y="1257.9" width="177.7" height="89" fill="#fafafa"/>
<path d="M959.5,1346.9L959.5,1343.5L960.5,1343.1L961.5,1343.2L962.5,1342.9L963.5,1342.7L964.5,1342.1L965.5,1342.2L966.5,1342.7L967.5,1342.8L968.5,1342.5L969.5,1341.7L970.5,1342.2L971.5,1341.7L972.6,1341.0L973.6,1340.1L974.6,1340.8L975.6,1339.5L976.6,1339.6L977.6,1339.2L978.6,1338.9L979.6,1337.4L980.6,1338.1L981.6,1336.7L982.6,1336.6L983.6,1336.3L984.6,1335.3L985.6,1335.4L986.6,1334.1L987.6,1334.5L988.6,1332.6L989.6,1331.4L990.6,1331.3L991.6,1332.6L992.6,1328.8L993.6,1327.3L994.6,1325.2L995.6,1325.0L996.6,1328.4L997.7,1329.1L998.7,1332.3L999.7,1332.7L1000.7,1334.3L1001.7,1333.4L1002.7,1336.1L1003.7,1337.2L1004.7,1338.1L1005.7,1338.1L1006.7,1340.3L1007.7,1339.9L1008.7,1341.1L1009.7,1340.6L1010.7,1341.6L1011.7,1342.1L1012.7,1342.3L1013.7,1342.6L1014.7,1343.7L1015.7,1343.1L1016.7,1343.8L1017.7,1343.5L1018.7,1343.9L1019.7,1343.3L1020.7,1343.7L1021.7,1343.6L1022.7,1343.6L1023.8,1343.8L1024.8,1343.5L1025.8,1343.2L1026.8,1343.9L1027.8,1343.9L1028.8,1342.9L1029.8,1342.7L1030.8,1341.9L1031.8,1342.0L1032.8,1341.3L1033.8,1341.2L1034.8,1340.5L1035.8,1340.6L1036.8,1339.4L1037.8,1339.4L1038.8,1339.7L1039.8,1339.3L1040.8,1338.9L1041.8,1337.3L1042.8,1337.1L1043.8,1338.5L1044.8,1336.4L1045.8,1335.3L1046.8,1334.7L1047.8,1334.8L1048.9,1333.8L1049.9,1333.3L1050.9,1332.4L1051.9,1332.4L1052.9,1328.5L1053.9,1330.4L1054.9,1330.5L1055.9,1327.9L1056.9,1324.4L1057.9,1326.5L1058.9,1323.7L1059.9,1322.5L1060.9,1320.3L1061.9,1321.6L1062.9,1316.5L1063.9,1316.6L1064.9,1316.5L1065.9,1311.4L1066.9,1311.9L1067.9,1311.6L1068.9,1317.0L1069.9,1314.6L1070.9,1312.0L1071.9,1314.2L1072.9,1314.4L1074.0,1314.1L1075.0,1312.5L1076.0,1311.3L1077.0,1315.0L1078.0,1314.1L1079.0,1322.8L1080.0,1324.6L1081.0,1327.7L1082.0,1330.2L1083.0,1333.9L1084.0,1337.2L1085.0,1339.1L1086.0,1338.6L1087.0,1339.6L1088.0,1341.3L1089.0,1343.4L1090.0,1343.8L1091.0,1343.8L1092.0,1344.7L1093.0,1345.4L1094.0,1345.5L1095.0,1346.1L1096.0,1345.5L1097.0,1345.8L1098.0,1346.0L1099.0,1346.2L1100.1,1345.7L1101.1,1345.6L1102.1,1346.3L1103.1,1345.8L1104.1,1346.2L1105.1,1346.2L1106.1,1346.0L1107.1,1346.0L1108.1,1346.0L1109.1,1346.4L1110.1,1346.3L1111.1,1346.0L1112.1,1346.2L1113.1,1346.2L1114.1,1346.4L1115.1,1346.1L1116.1,1346.0L1117.1,1346.1L1118.1,1346.0L1119.1,1346.5L1120.1,1346.5L1121.1,1346.2L1122.1,1346.3L1123.1,1346.1L1124.1,1346.4L1125.2,1346.4L1126.2,1346.4L1127.2,1346.0L1128.2,1346.3L1129.2,1346.1L1130.2,1346.5L1131.2,1346.5L1132.2,1346.4L1133.2,1346.3L1134.2,1346.4L1135.2,1346.4L1136.2,1346.3L1137.2,1346.3L1137.2,1346.9Z" fill="#3441a0"/>
<line x1="959.5" y1="1346.5" x2="1137.2" y2="1346.5" stroke="#5a66b8" stroke-width="1"/>
<text x="960.5" y="1271.4" font-size="16.6">(0-6.08)</text>
<rect x="1173.8" y="976.3" width="168.7" height="3.6" fill="#000"/><polygon points="1160.8,978.1 1174.8,971.1 1174.8,985.1" fill="#000"/><polygon points="1355.5,978.1 1341.5,971.1 1341.5,985.1" fill="#000"/>
<text x="1254" y="970.3" font-size="23.4" text-anchor="middle">3,619bp</text>
<rect x="1169" y="987" width="178.3" height="89" fill="#fafafa"/>
<path d="M1169.0,1076.0L1169.0,1040.2L1170.0,1040.8L1171.0,1036.4L1172.0,1040.8L1173.0,1041.2L1174.0,1043.6L1175.0,1035.6L1176.0,1037.4L1177.0,1045.5L1178.0,1039.5L1179.0,1033.1L1180.0,1042.1L1181.0,1040.6L1182.0,1035.0L1183.0,1031.2L1184.0,1037.4L1185.0,1036.8L1186.0,1039.5L1187.0,1039.6L1188.0,1032.3L1189.0,1027.4L1190.0,1039.9L1191.0,1029.1L1192.0,1027.2L1193.0,1029.7L1194.0,1030.9L1195.0,1024.2L1196.0,1037.3L1197.0,1030.5L1198.0,1029.7L1199.1,1024.2L1200.1,1020.2L1201.1,1019.8L1202.1,1012.8L1203.1,1019.1L1204.1,1020.9L1205.1,1003.2L1206.1,1012.5L1207.1,1010.0L1208.1,1015.1L1209.1,1001.9L1210.1,1019.4L1211.1,996.5L1212.1,1008.9L1213.1,1025.6L1214.1,1012.6L1215.1,1000.5L1216.1,1010.7L1217.1,1010.3L1218.1,1013.1L1219.1,1010.5L1220.1,1020.4L1221.1,1013.5L1222.1,1022.9L1223.1,1019.9L1224.1,1015.4L1225.1,1017.1L1226.1,1024.2L1227.1,1027.3L1228.1,1027.9L1229.1,1030.9L1230.1,1028.8L1231.1,1034.5L1232.1,1031.4L1233.1,1031.1L1234.1,1026.8L1235.1,1039.4L1236.1,1037.2L1237.1,1039.4L1238.1,1039.7L1239.1,1034.8L1240.1,1032.2L1241.1,1034.0L1242.1,1033.3L1243.1,1034.2L1244.1,1041.1L1245.1,1037.7L1246.1,1036.1L1247.1,1047.3L1248.1,1043.8L1249.1,1027.4L1250.1,1051.4L1251.1,1039.7L1252.1,1043.8L1253.1,1039.3L1254.1,1040.4L1255.1,1045.6L1256.1,1039.9L1257.1,1038.5L1258.2,1037.6L1259.2,1038.7L1260.2,1039.1L1261.2,1038.9L1262.2,1041.3L1263.2,1047.0L1264.2,1043.2L1265.2,1038.8L1266.2,1033.4L1267.2,1036.2L1268.2,1038.8L1269.2,1026.4L1270.2,1040.0L1271.2,1038.2L1272.2,1031.9L1273.2,1028.7L1274.2,1031.5L1275.2,1023.6L1276.2,1036.0L1277.2,1033.0L1278.2,1034.0L1279.2,1032.3L1280.2,1023.0L1281.2,1029.3L1282.2,1030.7L1283.2,1036.9L1284.2,1023.7L1285.2,1035.7L1286.2,1027.5L1287.2,1030.4L1288.2,1022.2L1289.2,1018.8L1290.2,1024.9L1291.2,1030.4L1292.2,1035.4L1293.2,1031.2L1294.2,1025.8L1295.2,1027.5L1296.2,1014.0L1297.2,1027.4L1298.2,1021.2L1299.2,1022.7L1300.2,1020.2L1301.2,1027.1L1302.2,1009.4L1303.2,1008.5L1304.2,1019.5L1305.2,1008.7L1306.2,1011.7L1307.2,1017.9L1308.2,1001.1L1309.2,1015.3L1310.2,998.9L1311.2,1012.8L1312.2,1021.6L1313.2,1001.5L1314.2,1000.4L1315.2,1003.7L1316.2,1003.3L1317.2,996.6L1318.3,1003.5L1319.3,990.9L1320.3,1004.0L1321.3,999.3L1322.3,1007.6L1323.3,1020.7L1324.3,1010.3L1325.3,1013.3L1326.3,1008.7L1327.3,1023.5L1328.3,1020.4L1329.3,1014.4L1330.3,1015.3L1331.3,1033.5L1332.3,1017.3L1333.3,1031.6L1334.3,1031.2L1335.3,1026.4L1336.3,1034.0L1337.3,1045.2L1338.3,1045.3L1339.3,1050.1L1340.3,1053.0L1341.3,1057.4L1342.3,1051.6L1343.3,1053.3L1344.3,1057.1L1345.3,1052.9L1346.3,1050.6L1347.3,1048.1L1347.3,1076.0Z" fill="#a3a3a3"/>
<line x1="1169" y1="1075.6" x2="1347.3" y2="1075.6" stroke="#9a9a9a" stroke-width="1"/>
<text x="1170" y="1000.5" font-size="16.6">(0-2.03)</text>
<rect x="1169" y="1077.5" width="178.3" height="89" fill="#fafafa"/>
<path d="M1169.0,1166.5L1169.0,1123.8L1170.0,1121.5L1171.0,1127.2L1172.0,1134.4L1173.0,1129.6L1174.0,1131.8L1175.0,1128.2L1176.0,1128.5L1177.0,1130.2L1178.0,1134.8L1179.0,1127.5L1180.0,1125.6L1181.0,1123.0L1182.0,1129.2L1183.0,1136.2L1184.0,1130.4L1185.0,1125.0L1186.0,1130.5L1187.0,1130.7L1188.0,1128.8L1189.0,1129.3L1190.0,1121.4L1191.0,1124.6L1192.0,1119.9L1193.0,1121.6L1194.0,1115.2L1195.0,1124.1L1196.0,1114.4L1197.0,1112.9L1198.0,1110.7L1199.1,1112.4L1200.1,1102.9L1201.1,1106.6L1202.1,1077.5L1203.1,1100.0L1204.1,1097.5L1205.1,1101.1L1206.1,1094.7L1207.1,1105.5L1208.1,1101.4L1209.1,1110.4L1210.1,1090.7L1211.1,1093.2L1212.1,1105.6L1213.1,1091.6L1214.1,1097.3L1215.1,1095.4L1216.1,1093.2L1217.1,1102.1L1218.1,1111.3L1219.1,1110.2L1220.1,1092.2L1221.1,1093.4L1222.1,1104.5L1223.1,1118.1L1224.1,1119.5L1225.1,1116.9L1226.1,1100.9L1227.1,1109.9L1228.1,1108.8L1229.1,1120.6L1230.1,1125.2L1231.1,1113.3L1232.1,1123.2L1233.1,1117.2L1234.1,1124.4L1235.1,1117.3L1236.1,1114.0L1237.1,1112.0L1238.1,1124.4L1239.1,1108.4L1240.1,1122.5L1241.1,1123.4L1242.1,1116.8L1243.1,1117.9L1244.1,1126.3L1245.1,1119.3L1246.1,1126.7L1247.1,1115.7L1248.1,1123.5L1249.1,1133.1L1250.1,1133.4L1251.1,1121.9L1252.1,1135.4L1253.1,1129.2L1254.1,1128.8L1255.1,1136.5L1256.1,1140.3L1257.1,1128.4L1258.2,1138.3L1259.2,1133.0L1260.2,1137.0L1261.2,1130.3L1262.2,1134.5L1263.2,1125.8L1264.2,1120.1L1265.2,1135.9L1266.2,1121.6L1267.2,1132.9L1268.2,1121.9L1269.2,1123.5L1270.2,1124.8L1271.2,1124.3L1272.2,1120.1L1273.2,1114.5L1274.2,1118.8L1275.2,1112.7L1276.2,1122.6L1277.2,1119.6L1278.2,1121.7L1279.2,1121.9L1280.2,1125.5L1281.2,1114.8L1282.2,1115.5L1283.2,1113.4L1284.2,1117.4L1285.2,1110.5L1286.2,1115.6L1287.2,1109.3L1288.2,1114.4L1289.2,1113.5L1290.2,1117.6L1291.2,1117.5L1292.2,1114.0L1293.2,1111.5L1294.2,1114.0L1295.2,1115.0L1296.2,1115.4L1297.2,1106.7L1298.2,1111.9L1299.2,1112.8L1300.2,1106.5L1301.2,1103.7L1302.2,1098.2L1303.2,1103.3L1304.2,1122.5L1305.2,1104.1L1306.2,1103.2L1307.2,1088.7L1308.2,1096.1L1309.2,1093.1L1310.2,1090.7L1311.2,1100.7L1312.2,1091.5L1313.2,1089.9L1314.2,1091.0L1315.2,1087.9L1316.2,1094.9L1317.2,1094.0L1318.3,1084.3L1319.3,1091.5L1320.3,1086.6L1321.3,1110.9L1322.3,1084.3L1323.3,1079.8L1324.3,1088.8L1325.3,1119.3L1326.3,1108.1L1327.3,1095.8L1328.3,1113.0L1329.3,1105.9L1330.3,1107.6L1331.3,1118.2L1332.3,1121.1L1333.3,1121.0L1334.3,1135.5L1335.3,1125.7L1336.3,1128.0L1337.3,1135.1L1338.3,1140.1L1339.3,1141.7L1340.3,1138.9L1341.3,1133.7L1342.3,1146.5L1343.3,1141.1L1344.3,1141.8L1345.3,1141.2L1346.3,1137.9L1347.3,1142.5L1347.3,1166.5Z" fill="#3441a0"/>
<line x1="1169" y1="1166.1" x2="1347.3" y2="1166.1" stroke="#5a66b8" stroke-width="1"/>
<text x="1170" y="1091" font-size="16.6">(0-2.03)</text>
<rect x="1169" y="1167.6" width="178.3" height="89" fill="#fafafa"/>
<path d="M1169.0,1256.6L1169.0,1245.0L1170.0,1245.3L1171.0,1243.8L1172.0,1245.1L1173.0,1245.4L1174.0,1246.1L1175.0,1245.4L1176.0,1244.8L1177.0,1244.0L1178.0,1244.2L1179.0,1243.1L1180.0,1242.5L1181.0,1244.5L1182.0,1244.5L1183.0,1244.4L1184.0,1243.7L1185.0,1244.3L1186.0,1244.8L1187.0,1243.9L1188.0,1242.7L1189.0,1243.2L1190.0,1246.8L1191.0,1243.7L1192.0,1244.5L1193.0,1246.3L1194.0,1243.9L1195.0,1245.5L1196.0,1244.9L1197.0,1246.5L1198.0,1246.2L1199.1,1244.6L1200.1,1246.2L1201.1,1245.4L1202.1,1247.8L1203.1,1248.7L1204.1,1242.3L1205.1,1246.6L1206.1,1246.4L1207.1,1245.8L1208.1,1244.1L1209.1,1246.0L1210.1,1246.0L1211.1,1242.8L1212.1,1246.4L1213.1,1245.0L1214.1,1245.8L1215.1,1244.2L1216.1,1241.4L1217.1,1245.2L1218.1,1244.1L1219.1,1243.5L1220.1,1243.9L1221.1,1246.0L1222.1,1243.1L1223.1,1242.5L1224.1,1241.8L1225.1,1246.0L1226.1,1244.6L1227.1,1246.0L1228.1,1243.5L1229.1,1241.6L1230.1,1244.8L1231.1,1246.3L1232.1,1244.1L1233.1,1245.5L1234.1,1244.7L1235.1,1243.7L1236.1,1245.4L1237.1,1242.0L1238.1,1244.3L1239.1,1245.1L1240.1,1245.8L1241.1,1244.0L1242.1,1244.8L1243.1,1242.4L1244.1,1246.8L1245.1,1244.0L1246.1,1242.6L1247.1,1243.4L1248.1,1245.4L1249.1,1245.4L1250.1,1242.6L1251.1,1244.1L1252.1,1244.0L1253.1,1245.4L1254.1,1242.4L1255.1,1242.8L1256.1,1246.4L1257.1,1240.6L1258.2,1240.0L1259.2,1239.3L1260.2,1240.2L1261.2,1242.7L1262.2,1244.0L1263.2,1238.6L1264.2,1239.1L1265.2,1242.0L1266.2,1242.3L1267.2,1239.6L1268.2,1241.8L1269.2,1240.4L1270.2,1243.7L1271.2,1241.0L1272.2,1239.9L1273.2,1242.5L1274.2,1242.6L1275.2,1237.6L1276.2,1236.9L1277.2,1238.3L1278.2,1236.3L1279.2,1240.3L1280.2,1240.7L1281.2,1239.6L1282.2,1242.8L1283.2,1232.2L1284.2,1234.5L1285.2,1237.7L1286.2,1236.9L1287.2,1240.2L1288.2,1234.8L1289.2,1233.2L1290.2,1237.0L1291.2,1240.6L1292.2,1234.0L1293.2,1232.3L1294.2,1235.1L1295.2,1235.2L1296.2,1233.8L1297.2,1236.7L1298.2,1232.1L1299.2,1237.0L1300.2,1237.5L1301.2,1237.2L1302.2,1236.5L1303.2,1238.9L1304.2,1239.9L1305.2,1235.8L1306.2,1241.6L1307.2,1241.6L1308.2,1239.7L1309.2,1241.3L1310.2,1237.6L1311.2,1240.2L1312.2,1239.9L1313.2,1240.3L1314.2,1241.0L1315.2,1243.2L1316.2,1239.1L1317.2,1241.1L1318.3,1245.1L1319.3,1240.5L1320.3,1243.6L1321.3,1241.5L1322.3,1243.5L1323.3,1244.2L1324.3,1243.9L1325.3,1240.2L1326.3,1245.2L1327.3,1244.3L1328.3,1244.7L1329.3,1244.2L1330.3,1244.9L1331.3,1240.1L1332.3,1244.7L1333.3,1243.8L1334.3,1245.1L1335.3,1244.1L1336.3,1244.9L1337.3,1245.3L1338.3,1245.9L1339.3,1245.4L1340.3,1247.5L1341.3,1244.7L1342.3,1243.7L1343.3,1247.8L1344.3,1247.6L1345.3,1246.9L1346.3,1248.3L1347.3,1247.7L1347.3,1256.6Z" fill="#a3a3a3"/>
<line x1="1169" y1="1256.2" x2="1347.3" y2="1256.2" stroke="#9a9a9a" stroke-width="1"/>
<text x="1170" y="1181.1" font-size="16.6">(0-2.03)</text>
<rect x="1169" y="1257.9" width="178.3" height="89" fill="#fafafa"/>
<path d="M1169.0,1346.9L1169.0,1335.1L1170.0,1334.2L1171.0,1337.8L1172.0,1334.3L1173.0,1336.5L1174.0,1334.0L1175.0,1335.6L1176.0,1334.5L1177.0,1335.4L1178.0,1335.1L1179.0,1336.0L1180.0,1332.2L1181.0,1337.0L1182.0,1334.1L1183.0,1333.6L1184.0,1330.1L1185.0,1335.1L1186.0,1331.9L1187.0,1334.2L1188.0,1333.3L1189.0,1334.3L1190.0,1334.1L1191.0,1333.8L1192.0,1334.2L1193.0,1331.1L1194.0,1332.8L1195.0,1333.2L1196.0,1330.7L1197.0,1333.0L1198.0,1329.9L1199.1,1333.2L1200.1,1331.3L1201.1,1330.3L1202.1,1332.3L1203.1,1331.9L1204.1,1326.8L1205.1,1330.2L1206.1,1330.4L1207.1,1332.6L1208.1,1328.9L1209.1,1332.6L1210.1,1330.0L1211.1,1326.7L1212.1,1324.9L1213.1,1327.6L1214.1,1327.4L1215.1,1328.3L1216.1,1327.4L1217.1,1326.5L1218.1,1327.8L1219.1,1325.3L1220.1,1329.3L1221.1,1332.1L1222.1,1325.4L1223.1,1324.8L1224.1,1326.8L1225.1,1331.0L1226.1,1329.4L1227.1,1327.3L1228.1,1331.1L1229.1,1326.8L1230.1,1330.3L1231.1,1331.5L1232.1,1329.0L1233.1,1331.3L1234.1,1330.4L1235.1,1331.6L1236.1,1335.4L1237.1,1334.1L1238.1,1333.7L1239.1,1334.6L1240.1,1332.4L1241.1,1332.9L1242.1,1334.7L1243.1,1336.6L1244.1,1337.0L1245.1,1333.4L1246.1,1337.1L1247.1,1337.5L1248.1,1337.1L1249.1,1338.3L1250.1,1338.3L1251.1,1338.1L1252.1,1337.1L1253.1,1336.7L1254.1,1336.6L1255.1,1335.2L1256.1,1336.3L1257.1,1337.7L1258.2,1338.9L1259.2,1337.5L1260.2,1338.8L1261.2,1336.7L1262.2,1336.2L1263.2,1337.9L1264.2,1335.8L1265.2,1338.7L1266.2,1337.7L1267.2,1335.7L1268.2,1336.4L1269.2,1337.7L1270.2,1334.4L1271.2,1334.2L1272.2,1335.5L1273.2,1335.8L1274.2,1333.1L1275.2,1336.5L1276.2,1337.8L1277.2,1332.6L1278.2,1335.1L1279.2,1333.0L1280.2,1333.5L1281.2,1329.0L1282.2,1329.0L1283.2,1325.0L1284.2,1329.5L1285.2,1320.1L1286.2,1326.6L1287.2,1322.2L1288.2,1331.5L1289.2,1314.4L1290.2,1320.6L1291.2,1309.0L1292.2,1313.6L1293.2,1310.5L1294.2,1309.5L1295.2,1304.9L1296.2,1315.7L1297.2,1318.3L1298.2,1313.6L1299.2,1313.3L1300.2,1302.5L1301.2,1321.1L1302.2,1314.2L1303.2,1312.1L1304.2,1307.9L1305.2,1317.9L1306.2,1308.2L1307.2,1311.8L1308.2,1311.4L1309.2,1311.1L1310.2,1307.3L1311.2,1313.0L1312.2,1319.4L1313.2,1318.5L1314.2,1318.0L1315.2,1316.6L1316.2,1315.2L1317.2,1318.7L1318.3,1320.0L1319.3,1321.2L1320.3,1317.0L1321.3,1317.9L1322.3,1321.1L1323.3,1323.5L1324.3,1321.2L1325.3,1322.5L1326.3,1324.9L1327.3,1328.2L1328.3,1330.3L1329.3,1328.2L1330.3,1327.3L1331.3,1329.2L1332.3,1329.3L1333.3,1333.4L1334.3,1330.8L1335.3,1334.4L1336.3,1331.9L1337.3,1331.2L1338.3,1336.5L1339.3,1331.2L1340.3,1331.5L1341.3,1331.0L1342.3,1335.0L1343.3,1330.9L1344.3,1333.4L1345.3,1331.1L1346.3,1331.2L1347.3,1330.5L1347.3,1346.9Z" fill="#3441a0"/>
<line x1="1169" y1="1346.5" x2="1347.3" y2="1346.5" stroke="#5a66b8" stroke-width="1"/>
<text x="1170" y="1271.4" font-size="16.6">(0-2.03)</text>
<rect x="85.8" y="1357.4" width="178.1" height="18.6" fill="#fafafa"/>
<line x1="87.8" y1="1365.9" x2="214.2" y2="1365.9" stroke="#3441a0" stroke-width="1.2"/>
<rect x="87.8" y="1362.9" width="44" height="6" fill="#3441a0"/>
<rect x="134.6" y="1362.9" width="7.2" height="6" fill="#3441a0"/>
<rect x="144.1" y="1360.9" width="5.8" height="10" fill="#3441a0"/>
<rect x="156.2" y="1360.9" width="6.3" height="10" fill="#3441a0"/>
<rect x="165.7" y="1360.9" width="5.4" height="10" fill="#3441a0"/>
<rect x="180.6" y="1360.9" width="7.2" height="10" fill="#3441a0"/>
<rect x="187.8" y="1362.9" width="26.4" height="6" fill="#3441a0"/>
<rect x="306.4" y="1357.4" width="177.3" height="18.6" fill="#fafafa"/>
<line x1="356.4" y1="1365.9" x2="432.5" y2="1365.9" stroke="#3441a0" stroke-width="1.2"/>
<rect x="357" y="1362.9" width="17.5" height="6" fill="#3441a0"/>
<rect x="374.5" y="1360.9" width="7.2" height="10" fill="#3441a0"/>
<rect x="387.4" y="1360.9" width="5.8" height="10" fill="#3441a0"/>
<rect x="396" y="1360.9" width="8.7" height="10" fill="#3441a0"/>
<rect x="413.3" y="1360.9" width="5.7" height="10" fill="#3441a0"/>
<rect x="426.4" y="1362.9" width="6.1" height="6" fill="#3441a0"/>
<rect x="512.9" y="1357.4" width="178.1" height="18.6" fill="#fafafa"/>
<line x1="530.2" y1="1365.9" x2="672.4" y2="1365.9" stroke="#3441a0" stroke-width="1.2"/>
<rect x="530.2" y="1360.9" width="1.6" height="10" fill="#3441a0"/>
<rect x="538.5" y="1362.9" width="4.7" height="6" fill="#3441a0"/>
<rect x="554.6" y="1360.9" width="7.2" height="10" fill="#3441a0"/>
<rect x="586.2" y="1360.9" width="1.7" height="10" fill="#3441a0"/>
<rect x="594.8" y="1360.9" width="1.7" height="10" fill="#3441a0"/>
<rect x="599.1" y="1360.9" width="1.4" height="10" fill="#3441a0"/>
<rect x="627.8" y="1360.9" width="2.5" height="10" fill="#3441a0"/>
<rect x="635" y="1360.9" width="2.5" height="10" fill="#3441a0"/>
<rect x="640.8" y="1360.9" width="2.4" height="10" fill="#3441a0"/>
<rect x="649.4" y="1360.9" width="1.2" height="10" fill="#3441a0"/>
<rect x="658" y="1362.4" width="14.4" height="7" fill="#3441a0"/>
<rect x="737" y="1357.4" width="179" height="18.6" fill="#fafafa"/>
<line x1="757.7" y1="1365.9" x2="894.1" y2="1365.9" stroke="#3441a0" stroke-width="1.2"/>
<rect x="757.7" y="1361.9" width="1.2" height="8" fill="#3441a0"/>
<rect x="770.9" y="1361.9" width="1.1" height="8" fill="#3441a0"/>
<rect x="785.3" y="1360.9" width="1.5" height="10" fill="#3441a0"/>
<rect x="787.6" y="1360.9" width="1.2" height="10" fill="#3441a0"/>
<rect x="791.6" y="1360.9" width="1.4" height="10" fill="#3441a0"/>
<rect x="808.8" y="1360.9" width="1.2" height="10" fill="#3441a0"/>
<rect x="826" y="1360.9" width="1.2" height="10" fill="#3441a0"/>
<rect x="832" y="1360.9" width="4.4" height="10" fill="#3441a0"/>
<rect x="846.2" y="1360.9" width="1.2" height="10" fill="#3441a0"/>
<rect x="874.9" y="1360.9" width="1.2" height="10" fill="#3441a0"/>
<rect x="887.8" y="1360.9" width="1.2" height="10" fill="#3441a0"/>
<rect x="890.8" y="1360.9" width="1.2" height="10" fill="#3441a0"/>
<rect x="893" y="1360.9" width="1.1" height="10" fill="#3441a0"/>
<rect x="962.1" y="1357.4" width="177.7" height="18.6" fill="#fafafa"/>
<line x1="1023.6" y1="1365.9" x2="1078.3" y2="1365.9" stroke="#3441a0" stroke-width="1.2"/>
<rect x="1023.6" y="1363.4" width="20.9" height="5" fill="#3441a0"/>
<rect x="1044.5" y="1360.9" width="31" height="10" fill="#3441a0"/>
<rect x="1075.5" y="1362.4" width="2.8" height="7" fill="#3441a0"/>
<path d="M84.9,1382.2 H154.2 V1395.2 H203" fill="none" stroke="#000" stroke-width="3"/>
<polygon points="203,1384.7 221.7,1395.2 203,1405.7" fill="#000"/>
<path d="M471.6,1382.2 H411.9 V1395.5 H373" fill="none" stroke="#000" stroke-width="3"/>
<polygon points="373,1385 354.4,1395.5 373,1406" fill="#000"/>
<path d="M530.2,1382.2 H610.6 V1395.2 H649" fill="none" stroke="#000" stroke-width="3"/>
<polygon points="649,1384.7 668,1395.2 649,1405.7" fill="#000"/>
<path d="M742.7,1388.8 H791.6 V1402.3 H820" fill="none" stroke="#000" stroke-width="3"/>
<polygon points="820,1391.8 838.4,1402.3 820,1412.8" fill="#000"/>
<path d="M1080.7,1388.6 H1029.1 V1405.2 H999" fill="none" stroke="#000" stroke-width="3"/>
<polygon points="999,1394.7 979.3,1405.2 999,1415.7" fill="#000"/>
<path d="M1351.8,1388.6 H1300.2 V1405.2 H1270" fill="none" stroke="#000" stroke-width="3"/>
<polygon points="1270,1394.7 1250.4,1405.2 1270,1415.7" fill="#000"/>
<text x="93.4" y="1406.6" font-size="23.3">Ctgf</text>
<text x="418.9" y="1406.6" font-size="23.3">Cyr61</text>
<text x="527.7" y="1407.5" font-size="23.3">Amotl2</text>
<text x="743.2" y="1410.4" font-size="23.3">Clu</text>
<text x="1034.9" y="1413.8" font-size="23.3">Tacstd2</text>
<text x="1307.2" y="1413.8" font-size="23.3">Sca-1</text>
<text x="1300.1" y="1439.9" font-size="23.3">/Ly6a</text>
<rect x="52.5" y="974.2" width="3.6" height="189" fill="#000"/>
<rect x="52.5" y="1165.8" width="3.6" height="189.6" fill="#000"/>
<text transform="translate(45.2 1068.2) rotate(-90)" font-size="27.2" text-anchor="middle">WENR</text>
<text transform="translate(45.2 1251.2) rotate(-90)" font-size="27.5" text-anchor="middle">D4 ENR</text>
<rect x="1361.4" y="1130.3" width="30.1" height="34.4" fill="#c2c2c2"/>
<rect x="1368.6" y="1326" width="26.9" height="30.5" fill="#3a55a8"/>
<text transform="translate(1388.5 1101.8) rotate(-90)" font-size="26.5" text-anchor="middle">WT</text>
<text transform="translate(1395 1263) rotate(-90)" font-size="27" text-anchor="middle">AHR KO</text>
<text x="7.5" y="1494.5" font-size="50" font-weight="bold">d</text>
<text x="407.7" y="1500.5" font-size="34.2" text-anchor="middle">AHR KO vs. WT (D4 ENR)</text>
<rect x="76.5" y="1525.8" width="637.9" height="618.4" fill="#fff"/>
<line x1="162.7" y1="1525.8" x2="162.7" y2="2144.2" stroke="#ebebeb" stroke-width="0.8"/>
<line x1="279.1" y1="1525.8" x2="279.1" y2="2144.2" stroke="#ebebeb" stroke-width="0.8"/>
<line x1="395.4" y1="1525.8" x2="395.4" y2="2144.2" stroke="#ebebeb" stroke-width="0.8"/>
<line x1="511.8" y1="1525.8" x2="511.8" y2="2144.2" stroke="#ebebeb" stroke-width="0.8"/>
<line x1="628.1" y1="1525.8" x2="628.1" y2="2144.2" stroke="#ebebeb" stroke-width="0.8"/>
<line x1="76.5" y1="2045.4" x2="714.4" y2="2045.4" stroke="#ebebeb" stroke-width="0.8"/>
<line x1="76.5" y1="1904.8" x2="714.4" y2="1904.8" stroke="#ebebeb" stroke-width="0.8"/>
<line x1="76.5" y1="1764.1" x2="714.4" y2="1764.1" stroke="#ebebeb" stroke-width="0.8"/>
<line x1="76.5" y1="1623.5" x2="714.4" y2="1623.5" stroke="#ebebeb" stroke-width="0.8"/>
<line x1="104.5" y1="1525.8" x2="104.5" y2="2144.2" stroke="#ebebeb" stroke-width="1.6"/>
<line x1="220.9" y1="1525.8" x2="220.9" y2="2144.2" stroke="#ebebeb" stroke-width="1.6"/>
<line x1="337.2" y1="1525.8" x2="337.2" y2="2144.2" stroke="#ebebeb" stroke-width="1.6"/>
<line x1="453.6" y1="1525.8" x2="453.6" y2="2144.2" stroke="#ebebeb" stroke-width="1.6"/>
<line x1="570" y1="1525.8" x2="570" y2="2144.2" stroke="#ebebeb" stroke-width="1.6"/>
<line x1="686.3" y1="1525.8" x2="686.3" y2="2144.2" stroke="#ebebeb" stroke-width="1.6"/>
<line x1="76.5" y1="2115.7" x2="714.4" y2="2115.7" stroke="#ebebeb" stroke-width="1.6"/>
<line x1="76.5" y1="1975.1" x2="714.4" y2="1975.1" stroke="#ebebeb" stroke-width="1.6"/>
<line x1="76.5" y1="1834.4" x2="714.4" y2="1834.4" stroke="#ebebeb" stroke-width="1.6"/>
<line x1="76.5" y1="1693.8" x2="714.4" y2="1693.8" stroke="#ebebeb" stroke-width="1.6"/>
<line x1="76.5" y1="1553.2" x2="714.4" y2="1553.2" stroke="#ebebeb" stroke-width="1.6"/>
<g fill="#808282"><circle cx="254.4" cy="1990.0" r="3.7"/><circle cx="282.2" cy="1907.7" r="3.7"/><circle cx="230.1" cy="2093.2" r="3.7"/><circle cx="227.9" cy="2088.6" r="3.7"/><circle cx="276.5" cy="1950.9" r="3.7"/><circle cx="310.8" cy="1872.2" r="3.7"/><circle cx="298.4" cy="1891.7" r="3.7"/><circle cx="351.0" cy="1782.5" r="3.7"/><circle cx="230.3" cy="2059.7" r="3.7"/><circle cx="253.0" cy="2045.6" r="3.7"/><circle cx="299.0" cy="1867.7" r="3.7"/><circle cx="225.5" cy="2092.6" r="3.7"/><circle cx="303.6" cy="1851.6" r="3.7"/><circle cx="289.9" cy="1939.8" r="3.7"/><circle cx="337.7" cy="1807.4" r="3.7"/><circle cx="303.6" cy="1911.9" r="3.7"/><circle cx="332.5" cy="1832.6" r="3.7"/><circle cx="268.4" cy="1953.4" r="3.7"/><circle cx="246.2" cy="2056.7" r="3.7"/><circle cx="337.4" cy="1819.0" r="3.7"/><circle cx="347.7" cy="1775.9" r="3.7"/><circle cx="275.4" cy="1890.6" r="3.7"/><circle cx="296.1" cy="1931.7" r="3.7"/><circle cx="315.9" cy="1864.5" r="3.7"/><circle cx="320.6" cy="1796.7" r="3.7"/><circle cx="225.9" cy="2106.9" r="3.7"/><circle cx="249.9" cy="2050.5" r="3.7"/><circle cx="237.3" cy="2065.5" r="3.7"/><circle cx="277.5" cy="1964.0" r="3.7"/><circle cx="296.8" cy="1902.4" r="3.7"/><circle cx="237.2" cy="2007.6" r="3.7"/><circle cx="405.0" cy="1744.0" r="3.7"/><circle cx="239.7" cy="2047.3" r="3.7"/><circle cx="313.5" cy="1887.0" r="3.7"/><circle cx="219.0" cy="2114.1" r="3.7"/><circle cx="296.7" cy="1915.6" r="3.7"/><circle cx="336.8" cy="1853.2" r="3.7"/><circle cx="253.1" cy="1963.4" r="3.7"/><circle cx="232.4" cy="2075.5" r="3.7"/><circle cx="243.9" cy="2034.7" r="3.7"/><circle cx="265.8" cy="1983.7" r="3.7"/><circle cx="230.2" cy="2076.3" r="3.7"/><circle cx="300.1" cy="1877.4" r="3.7"/><circle cx="273.3" cy="1974.4" r="3.7"/><circle cx="280.7" cy="1934.8" r="3.7"/><circle cx="262.3" cy="1982.7" r="3.7"/><circle cx="392.0" cy="1794.0" r="3.7"/><circle cx="290.6" cy="1910.7" r="3.7"/><circle cx="248.4" cy="1904.9" r="3.7"/><circle cx="244.0" cy="2014.4" r="3.7"/><circle cx="281.3" cy="1909.0" r="3.7"/><circle cx="354.1" cy="1798.1" r="3.7"/><circle cx="243.4" cy="2027.7" r="3.7"/><circle cx="223.9" cy="2104.9" r="3.7"/><circle cx="259.4" cy="2015.1" r="3.7"/><circle cx="373.9" cy="1745.0" r="3.7"/><circle cx="246.1" cy="2030.1" r="3.7"/><circle cx="312.4" cy="1873.5" r="3.7"/><circle cx="326.6" cy="1789.5" r="3.7"/><circle cx="299.2" cy="1824.6" r="3.7"/><circle cx="269.6" cy="1986.6" r="3.7"/><circle cx="264.8" cy="1959.9" r="3.7"/><circle cx="329.6" cy="1834.4" r="3.7"/><circle cx="265.3" cy="1979.7" r="3.7"/><circle cx="242.7" cy="2064.9" r="3.7"/><circle cx="281.4" cy="1911.3" r="3.7"/><circle cx="275.3" cy="1947.3" r="3.7"/><circle cx="241.7" cy="2018.0" r="3.7"/><circle cx="245.8" cy="2022.3" r="3.7"/><circle cx="273.3" cy="1978.4" r="3.7"/><circle cx="265.3" cy="1889.3" r="3.7"/><circle cx="296.0" cy="1921.0" r="3.7"/><circle cx="276.3" cy="1912.5" r="3.7"/><circle cx="240.1" cy="2048.8" r="3.7"/><circle cx="311.6" cy="1834.2" r="3.7"/><circle cx="305.8" cy="1900.1" r="3.7"/><circle cx="230.8" cy="2074.5" r="3.7"/><circle cx="347.6" cy="1816.0" r="3.7"/><circle cx="304.8" cy="1897.7" r="3.7"/><circle cx="291.1" cy="1878.0" r="3.7"/><circle cx="266.2" cy="1916.9" r="3.7"/><circle cx="282.1" cy="1930.2" r="3.7"/><circle cx="330.0" cy="1844.3" r="3.7"/><circle cx="286.7" cy="1898.5" r="3.7"/><circle cx="362.3" cy="1789.7" r="3.7"/><circle cx="230.4" cy="2087.5" r="3.7"/><circle cx="342.1" cy="1859.4" r="3.7"/><circle cx="244.7" cy="1961.1" r="3.7"/><circle cx="230.2" cy="2053.0" r="3.7"/><circle cx="240.3" cy="2039.7" r="3.7"/><circle cx="302.2" cy="1835.4" r="3.7"/><circle cx="221.4" cy="2108.7" r="3.7"/><circle cx="345.3" cy="1873.5" r="3.7"/><circle cx="237.0" cy="2075.0" r="3.7"/><circle cx="229.8" cy="2010.7" r="3.7"/><circle cx="362.3" cy="1797.8" r="3.7"/><circle cx="297.1" cy="1894.2" r="3.7"/><circle cx="317.8" cy="1848.6" r="3.7"/><circle cx="332.0" cy="1869.5" r="3.7"/><circle cx="286.9" cy="1939.6" r="3.7"/><circle cx="288.8" cy="1901.0" r="3.7"/><circle cx="292.7" cy="1911.2" r="3.7"/><circle cx="234.8" cy="2073.2" r="3.7"/><circle cx="257.9" cy="1994.6" r="3.7"/><circle cx="317.3" cy="1820.9" r="3.7"/><circle cx="260.0" cy="1981.0" r="3.7"/><circle cx="246.3" cy="2018.5" r="3.7"/><circle cx="230.0" cy="2042.2" r="3.7"/><circle cx="380.6" cy="1752.9" r="3.7"/><circle cx="266.6" cy="1923.6" r="3.7"/><circle cx="252.5" cy="1963.1" r="3.7"/><circle cx="228.6" cy="1982.7" r="3.7"/><circle cx="304.2" cy="1841.4" r="3.7"/><circle cx="227.6" cy="2094.6" r="3.7"/><circle cx="264.9" cy="2016.5" r="3.7"/><circle cx="262.1" cy="2006.3" r="3.7"/><circle cx="259.7" cy="2002.0" r="3.7"/><circle cx="265.4" cy="1995.6" r="3.7"/><circle cx="218.1" cy="2115.3" r="3.7"/><circle cx="243.3" cy="2037.7" r="3.7"/><circle cx="223.7" cy="2113.8" r="3.7"/><circle cx="226.4" cy="2099.5" r="3.7"/><circle cx="242.7" cy="1997.6" r="3.7"/><circle cx="315.4" cy="1824.4" r="3.7"/><circle cx="307.4" cy="1837.8" r="3.7"/><circle cx="393.5" cy="1733.5" r="3.7"/><circle cx="356.6" cy="1834.6" r="3.7"/><circle cx="333.8" cy="1830.9" r="3.7"/><circle cx="221.5" cy="2061.6" r="3.7"/><circle cx="294.3" cy="1889.0" r="3.7"/><circle cx="313.9" cy="1850.7" r="3.7"/><circle cx="235.3" cy="2064.0" r="3.7"/><circle cx="275.0" cy="1898.9" r="3.7"/><circle cx="264.2" cy="1925.8" r="3.7"/><circle cx="313.3" cy="1806.1" r="3.7"/><circle cx="308.1" cy="1859.8" r="3.7"/><circle cx="338.0" cy="1829.7" r="3.7"/><circle cx="329.7" cy="1832.6" r="3.7"/><circle cx="259.0" cy="1924.0" r="3.7"/><circle cx="334.8" cy="1818.0" r="3.7"/><circle cx="313.1" cy="1866.2" r="3.7"/><circle cx="337.6" cy="1827.2" r="3.7"/><circle cx="303.1" cy="1895.3" r="3.7"/><circle cx="316.3" cy="1854.9" r="3.7"/><circle cx="292.2" cy="1853.4" r="3.7"/><circle cx="273.8" cy="1934.7" r="3.7"/><circle cx="405.6" cy="1768.8" r="3.7"/><circle cx="221.5" cy="2108.9" r="3.7"/><circle cx="281.2" cy="1941.3" r="3.7"/><circle cx="263.5" cy="2033.9" r="3.7"/><circle cx="238.2" cy="2060.7" r="3.7"/><circle cx="339.2" cy="1797.4" r="3.7"/><circle cx="294.4" cy="1927.0" r="3.7"/><circle cx="273.7" cy="1940.7" r="3.7"/><circle cx="229.2" cy="2061.1" r="3.7"/><circle cx="381.3" cy="1790.0" r="3.7"/><circle cx="351.0" cy="1765.8" r="3.7"/><circle cx="270.4" cy="1975.7" r="3.7"/><circle cx="266.9" cy="2008.9" r="3.7"/><circle cx="258.7" cy="2018.9" r="3.7"/><circle cx="258.0" cy="1917.4" r="3.7"/><circle cx="332.6" cy="1870.8" r="3.7"/><circle cx="318.7" cy="1836.4" r="3.7"/><circle cx="307.0" cy="1823.6" r="3.7"/><circle cx="257.3" cy="2004.6" r="3.7"/><circle cx="273.1" cy="1932.4" r="3.7"/><circle cx="262.2" cy="2000.1" r="3.7"/><circle cx="305.8" cy="1861.1" r="3.7"/><circle cx="294.8" cy="1899.4" r="3.7"/><circle cx="287.5" cy="1922.8" r="3.7"/><circle cx="275.3" cy="1941.1" r="3.7"/><circle cx="264.2" cy="1983.0" r="3.7"/><circle cx="228.1" cy="2022.9" r="3.7"/><circle cx="310.3" cy="1824.7" r="3.7"/><circle cx="260.4" cy="1955.1" r="3.7"/><circle cx="228.8" cy="2091.6" r="3.7"/><circle cx="360.3" cy="1740.1" r="3.7"/><circle cx="352.5" cy="1780.8" r="3.7"/><circle cx="241.0" cy="2010.5" r="3.7"/><circle cx="368.6" cy="1776.9" r="3.7"/><circle cx="361.9" cy="1768.1" r="3.7"/><circle cx="265.6" cy="1963.7" r="3.7"/><circle cx="390.2" cy="1738.3" r="3.7"/><circle cx="289.7" cy="1913.0" r="3.7"/><circle cx="285.6" cy="1864.4" r="3.7"/><circle cx="311.5" cy="1865.2" r="3.7"/><circle cx="226.6" cy="2066.0" r="3.7"/><circle cx="224.5" cy="2072.2" r="3.7"/><circle cx="277.1" cy="1912.2" r="3.7"/><circle cx="305.2" cy="1882.4" r="3.7"/><circle cx="269.7" cy="1998.7" r="3.7"/><circle cx="351.8" cy="1772.7" r="3.7"/><circle cx="260.1" cy="2024.6" r="3.7"/><circle cx="250.6" cy="1996.4" r="3.7"/><circle cx="271.1" cy="1922.3" r="3.7"/><circle cx="316.6" cy="1856.7" r="3.7"/><circle cx="239.7" cy="2027.7" r="3.7"/><circle cx="329.1" cy="1850.8" r="3.7"/><circle cx="324.1" cy="1806.3" r="3.7"/><circle cx="382.4" cy="1739.3" r="3.7"/><circle cx="348.1" cy="1797.4" r="3.7"/><circle cx="303.1" cy="1923.3" r="3.7"/><circle cx="233.0" cy="2029.0" r="3.7"/><circle cx="220.4" cy="2058.9" r="3.7"/><circle cx="241.1" cy="2060.6" r="3.7"/><circle cx="378.4" cy="1754.1" r="3.7"/><circle cx="317.0" cy="1826.0" r="3.7"/><circle cx="253.3" cy="1970.6" r="3.7"/><circle cx="236.6" cy="2050.0" r="3.7"/><circle cx="393.4" cy="1744.8" r="3.7"/><circle cx="363.1" cy="1741.4" r="3.7"/><circle cx="371.2" cy="1796.7" r="3.7"/><circle cx="219.0" cy="2096.6" r="3.7"/><circle cx="254.2" cy="2040.8" r="3.7"/><circle cx="333.6" cy="1767.6" r="3.7"/><circle cx="349.6" cy="1818.1" r="3.7"/><circle cx="226.2" cy="2102.2" r="3.7"/><circle cx="254.7" cy="1984.1" r="3.7"/><circle cx="245.8" cy="2013.9" r="3.7"/><circle cx="387.5" cy="1749.6" r="3.7"/><circle cx="268.2" cy="2024.9" r="3.7"/><circle cx="256.9" cy="1965.7" r="3.7"/><circle cx="278.1" cy="1948.8" r="3.7"/><circle cx="333.1" cy="1804.2" r="3.7"/><circle cx="292.8" cy="1880.0" r="3.7"/><circle cx="350.8" cy="1812.1" r="3.7"/><circle cx="241.3" cy="2039.1" r="3.7"/><circle cx="225.1" cy="2102.6" r="3.7"/><circle cx="259.4" cy="2012.9" r="3.7"/><circle cx="331.4" cy="1840.2" r="3.7"/><circle cx="235.4" cy="2024.8" r="3.7"/><circle cx="307.3" cy="1825.4" r="3.7"/><circle cx="317.4" cy="1857.8" r="3.7"/><circle cx="281.7" cy="1895.7" r="3.7"/><circle cx="325.1" cy="1829.2" r="3.7"/><circle cx="305.3" cy="1891.3" r="3.7"/><circle cx="289.3" cy="1918.8" r="3.7"/><circle cx="364.6" cy="1731.1" r="3.7"/><circle cx="292.8" cy="1931.4" r="3.7"/><circle cx="217.6" cy="2100.0" r="3.7"/><circle cx="240.1" cy="2069.4" r="3.7"/><circle cx="367.9" cy="1754.7" r="3.7"/><circle cx="351.9" cy="1779.5" r="3.7"/><circle cx="404.6" cy="1748.6" r="3.7"/><circle cx="300.2" cy="1884.3" r="3.7"/><circle cx="241.1" cy="2060.8" r="3.7"/><circle cx="244.2" cy="2016.8" r="3.7"/><circle cx="220.4" cy="2111.3" r="3.7"/><circle cx="307.9" cy="1852.4" r="3.7"/><circle cx="349.1" cy="1807.0" r="3.7"/><circle cx="222.0" cy="2091.1" r="3.7"/><circle cx="317.6" cy="1867.6" r="3.7"/><circle cx="232.1" cy="2052.2" r="3.7"/><circle cx="260.5" cy="1994.5" r="3.7"/><circle cx="287.8" cy="1977.1" r="3.7"/><circle cx="231.6" cy="1974.5" r="3.7"/><circle cx="363.7" cy="1833.1" r="3.7"/><circle cx="270.9" cy="1951.2" r="3.7"/><circle cx="260.4" cy="1958.0" r="3.7"/><circle cx="222.6" cy="2109.9" r="3.7"/><circle cx="324.7" cy="1867.0" r="3.7"/><circle cx="272.1" cy="1971.8" r="3.7"/><circle cx="219.2" cy="2059.1" r="3.7"/><circle cx="229.3" cy="2073.5" r="3.7"/><circle cx="262.8" cy="2039.1" r="3.7"/><circle cx="264.9" cy="1928.3" r="3.7"/><circle cx="390.6" cy="1756.2" r="3.7"/><circle cx="327.6" cy="1795.7" r="3.7"/><circle cx="303.9" cy="1810.7" r="3.7"/><circle cx="365.7" cy="1793.9" r="3.7"/><circle cx="234.9" cy="2031.0" r="3.7"/><circle cx="231.9" cy="2067.9" r="3.7"/><circle cx="345.7" cy="1834.4" r="3.7"/><circle cx="335.3" cy="1821.7" r="3.7"/><circle cx="326.1" cy="1790.4" r="3.7"/><circle cx="290.5" cy="1872.3" r="3.7"/><circle cx="252.7" cy="1952.7" r="3.7"/><circle cx="281.6" cy="1942.3" r="3.7"/><circle cx="281.1" cy="1925.7" r="3.7"/><circle cx="251.3" cy="1937.8" r="3.7"/><circle cx="286.3" cy="1932.0" r="3.7"/><circle cx="233.1" cy="2080.1" r="3.7"/><circle cx="278.7" cy="1917.7" r="3.7"/><circle cx="317.9" cy="1831.0" r="3.7"/><circle cx="269.0" cy="1917.2" r="3.7"/><circle cx="377.0" cy="1746.6" r="3.7"/><circle cx="342.2" cy="1831.6" r="3.7"/><circle cx="316.0" cy="1924.8" r="3.7"/><circle cx="377.7" cy="1760.2" r="3.7"/><circle cx="216.8" cy="2090.3" r="3.7"/><circle cx="340.9" cy="1822.2" r="3.7"/><circle cx="331.7" cy="1799.1" r="3.7"/><circle cx="284.0" cy="1920.8" r="3.7"/><circle cx="292.3" cy="1919.3" r="3.7"/><circle cx="228.4" cy="2101.4" r="3.7"/><circle cx="348.1" cy="1851.9" r="3.7"/><circle cx="228.0" cy="2071.0" r="3.7"/><circle cx="341.8" cy="1776.9" r="3.7"/><circle cx="331.8" cy="1890.6" r="3.7"/><circle cx="334.6" cy="1871.3" r="3.7"/><circle cx="363.0" cy="1806.1" r="3.7"/><circle cx="260.8" cy="1975.9" r="3.7"/><circle cx="272.1" cy="1944.0" r="3.7"/><circle cx="336.0" cy="1797.5" r="3.7"/><circle cx="283.7" cy="1867.6" r="3.7"/><circle cx="247.0" cy="1994.4" r="3.7"/><circle cx="221.1" cy="2102.6" r="3.7"/><circle cx="272.9" cy="1916.7" r="3.7"/><circle cx="232.8" cy="2064.5" r="3.7"/><circle cx="220.8" cy="2114.7" r="3.7"/><circle cx="232.0" cy="2074.4" r="3.7"/><circle cx="315.9" cy="1887.1" r="3.7"/><circle cx="327.3" cy="1873.5" r="3.7"/><circle cx="263.9" cy="2021.2" r="3.7"/><circle cx="236.0" cy="2078.5" r="3.7"/><circle cx="251.3" cy="1959.7" r="3.7"/><circle cx="281.5" cy="1897.4" r="3.7"/><circle cx="221.5" cy="2098.6" r="3.7"/><circle cx="288.1" cy="1958.1" r="3.7"/><circle cx="223.8" cy="2110.9" r="3.7"/><circle cx="381.8" cy="1750.5" r="3.7"/><circle cx="300.2" cy="1918.9" r="3.7"/><circle cx="334.7" cy="1800.0" r="3.7"/><circle cx="349.6" cy="1811.8" r="3.7"/><circle cx="325.3" cy="1826.5" r="3.7"/><circle cx="234.6" cy="2028.0" r="3.7"/><circle cx="237.4" cy="2025.5" r="3.7"/><circle cx="341.9" cy="1845.9" r="3.7"/><circle cx="300.5" cy="1839.5" r="3.7"/><circle cx="328.6" cy="1809.7" r="3.7"/><circle cx="256.6" cy="2012.7" r="3.7"/><circle cx="354.9" cy="1774.1" r="3.7"/><circle cx="247.9" cy="2014.6" r="3.7"/><circle cx="280.5" cy="1826.1" r="3.7"/><circle cx="360.8" cy="1774.1" r="3.7"/><circle cx="339.0" cy="1870.9" r="3.7"/><circle cx="277.1" cy="1857.5" r="3.7"/><circle cx="323.1" cy="1844.9" r="3.7"/><circle cx="261.5" cy="1946.0" r="3.7"/><circle cx="239.8" cy="2033.4" r="3.7"/><circle cx="247.6" cy="2059.6" r="3.7"/><circle cx="276.6" cy="1981.8" r="3.7"/><circle cx="221.7" cy="2104.5" r="3.7"/><circle cx="292.1" cy="1845.2" r="3.7"/><circle cx="221.2" cy="2090.2" r="3.7"/><circle cx="238.8" cy="2074.1" r="3.7"/><circle cx="237.5" cy="2072.2" r="3.7"/><circle cx="279.2" cy="1869.6" r="3.7"/><circle cx="309.4" cy="1870.6" r="3.7"/><circle cx="334.0" cy="1821.7" r="3.7"/><circle cx="265.1" cy="1991.8" r="3.7"/><circle cx="252.8" cy="2006.0" r="3.7"/><circle cx="276.7" cy="1972.9" r="3.7"/><circle cx="344.7" cy="1785.3" r="3.7"/><circle cx="218.2" cy="2103.7" r="3.7"/><circle cx="267.9" cy="1981.1" r="3.7"/><circle cx="291.2" cy="1906.9" r="3.7"/><circle cx="335.6" cy="1797.5" r="3.7"/><circle cx="221.6" cy="2115.2" r="3.7"/><circle cx="214.1" cy="2114.0" r="3.7"/><circle cx="285.8" cy="1924.9" r="3.7"/><circle cx="272.7" cy="1980.9" r="3.7"/><circle cx="247.9" cy="2005.6" r="3.7"/><circle cx="224.7" cy="2073.0" r="3.7"/><circle cx="304.4" cy="1845.1" r="3.7"/><circle cx="258.6" cy="1960.0" r="3.7"/><circle cx="364.0" cy="1770.1" r="3.7"/><circle cx="241.1" cy="2035.7" r="3.7"/><circle cx="335.8" cy="1765.9" r="3.7"/><circle cx="259.1" cy="2025.0" r="3.7"/><circle cx="286.4" cy="1909.4" r="3.7"/><circle cx="243.2" cy="1980.4" r="3.7"/><circle cx="318.0" cy="1858.7" r="3.7"/><circle cx="350.5" cy="1815.5" r="3.7"/><circle cx="236.4" cy="2066.8" r="3.7"/><circle cx="236.5" cy="2041.3" r="3.7"/><circle cx="323.6" cy="1842.8" r="3.7"/><circle cx="252.0" cy="2019.6" r="3.7"/><circle cx="280.1" cy="1913.0" r="3.7"/><circle cx="233.4" cy="2076.3" r="3.7"/><circle cx="332.8" cy="1831.1" r="3.7"/><circle cx="238.4" cy="2074.2" r="3.7"/><circle cx="247.7" cy="1965.0" r="3.7"/><circle cx="334.6" cy="1846.6" r="3.7"/><circle cx="317.6" cy="1870.3" r="3.7"/><circle cx="280.8" cy="1958.6" r="3.7"/><circle cx="338.5" cy="1763.3" r="3.7"/><circle cx="260.0" cy="1952.2" r="3.7"/><circle cx="325.9" cy="1835.4" r="3.7"/><circle cx="279.5" cy="1866.7" r="3.7"/><circle cx="265.3" cy="1994.2" r="3.7"/><circle cx="345.9" cy="1812.0" r="3.7"/><circle cx="287.0" cy="1871.3" r="3.7"/><circle cx="309.9" cy="1874.5" r="3.7"/><circle cx="322.3" cy="1853.6" r="3.7"/><circle cx="359.1" cy="1813.7" r="3.7"/><circle cx="295.9" cy="1925.6" r="3.7"/><circle cx="231.8" cy="2076.5" r="3.7"/><circle cx="267.0" cy="1905.7" r="3.7"/><circle cx="341.9" cy="1794.0" r="3.7"/><circle cx="273.0" cy="1956.4" r="3.7"/><circle cx="284.2" cy="1963.4" r="3.7"/><circle cx="259.3" cy="1977.7" r="3.7"/><circle cx="225.0" cy="2110.5" r="3.7"/><circle cx="263.5" cy="1952.5" r="3.7"/><circle cx="250.3" cy="2028.6" r="3.7"/><circle cx="239.0" cy="2030.7" r="3.7"/><circle cx="348.5" cy="1801.5" r="3.7"/><circle cx="281.0" cy="1933.6" r="3.7"/><circle cx="291.1" cy="1978.6" r="3.7"/><circle cx="269.0" cy="1934.0" r="3.7"/><circle cx="342.1" cy="1792.1" r="3.7"/><circle cx="339.0" cy="1785.5" r="3.7"/><circle cx="277.1" cy="1950.3" r="3.7"/><circle cx="247.6" cy="2006.6" r="3.7"/><circle cx="284.5" cy="1949.4" r="3.7"/><circle cx="338.9" cy="1859.8" r="3.7"/><circle cx="289.7" cy="1870.0" r="3.7"/><circle cx="315.4" cy="1861.1" r="3.7"/><circle cx="248.7" cy="2025.0" r="3.7"/><circle cx="277.1" cy="1981.2" r="3.7"/><circle cx="283.5" cy="1879.6" r="3.7"/><circle cx="318.3" cy="1856.3" r="3.7"/><circle cx="225.6" cy="2039.1" r="3.7"/><circle cx="258.4" cy="1909.7" r="3.7"/><circle cx="301.4" cy="1900.3" r="3.7"/><circle cx="242.4" cy="2024.8" r="3.7"/><circle cx="275.7" cy="1934.4" r="3.7"/><circle cx="252.7" cy="1925.0" r="3.7"/><circle cx="269.0" cy="1934.1" r="3.7"/><circle cx="296.9" cy="1857.5" r="3.7"/><circle cx="391.8" cy="1742.9" r="3.7"/><circle cx="326.7" cy="1868.4" r="3.7"/><circle cx="317.7" cy="1850.8" r="3.7"/><circle cx="285.5" cy="1917.5" r="3.7"/><circle cx="317.7" cy="1837.0" r="3.7"/><circle cx="250.1" cy="1984.3" r="3.7"/><circle cx="297.1" cy="1911.7" r="3.7"/><circle cx="233.0" cy="2033.9" r="3.7"/><circle cx="355.3" cy="1794.8" r="3.7"/><circle cx="328.1" cy="1794.4" r="3.7"/><circle cx="281.6" cy="1919.1" r="3.7"/><circle cx="300.2" cy="1861.6" r="3.7"/><circle cx="262.4" cy="1999.6" r="3.7"/><circle cx="329.6" cy="1869.3" r="3.7"/><circle cx="367.1" cy="1772.0" r="3.7"/><circle cx="227.6" cy="2096.4" r="3.7"/><circle cx="308.6" cy="1860.3" r="3.7"/><circle cx="293.7" cy="1876.3" r="3.7"/><circle cx="290.3" cy="1851.4" r="3.7"/><circle cx="310.7" cy="1856.8" r="3.7"/><circle cx="235.7" cy="2045.3" r="3.7"/><circle cx="321.0" cy="1861.2" r="3.7"/><circle cx="268.0" cy="1897.5" r="3.7"/><circle cx="249.3" cy="1998.5" r="3.7"/><circle cx="321.3" cy="1866.6" r="3.7"/><circle cx="227.5" cy="2094.5" r="3.7"/><circle cx="342.5" cy="1801.2" r="3.7"/><circle cx="386.0" cy="1759.2" r="3.7"/><circle cx="297.8" cy="1885.9" r="3.7"/><circle cx="263.1" cy="1955.6" r="3.7"/><circle cx="231.9" cy="2056.8" r="3.7"/><circle cx="232.3" cy="2065.6" r="3.7"/><circle cx="310.0" cy="1831.0" r="3.7"/><circle cx="318.7" cy="1838.8" r="3.7"/><circle cx="296.1" cy="1871.7" r="3.7"/><circle cx="273.8" cy="1936.9" r="3.7"/><circle cx="369.0" cy="1837.3" r="3.7"/><circle cx="329.7" cy="1798.5" r="3.7"/><circle cx="299.1" cy="1926.9" r="3.7"/><circle cx="245.9" cy="1973.0" r="3.7"/><circle cx="268.9" cy="1974.7" r="3.7"/><circle cx="281.4" cy="1871.3" r="3.7"/><circle cx="309.2" cy="1895.7" r="3.7"/><circle cx="305.2" cy="1842.7" r="3.7"/><circle cx="316.6" cy="1882.4" r="3.7"/><circle cx="256.5" cy="1949.4" r="3.7"/><circle cx="314.8" cy="1882.1" r="3.7"/><circle cx="354.8" cy="1802.3" r="3.7"/><circle cx="269.9" cy="1951.7" r="3.7"/><circle cx="309.0" cy="1893.7" r="3.7"/><circle cx="287.6" cy="1850.0" r="3.7"/><circle cx="240.1" cy="1981.1" r="3.7"/><circle cx="236.6" cy="2037.9" r="3.7"/><circle cx="352.0" cy="1754.1" r="3.7"/><circle cx="262.7" cy="1935.1" r="3.7"/><circle cx="251.0" cy="2016.8" r="3.7"/><circle cx="311.3" cy="1816.0" r="3.7"/><circle cx="308.0" cy="1890.7" r="3.7"/><circle cx="266.0" cy="1930.7" r="3.7"/><circle cx="245.7" cy="2042.3" r="3.7"/><circle cx="279.0" cy="1974.9" r="3.7"/><circle cx="269.4" cy="1959.5" r="3.7"/><circle cx="232.1" cy="2074.5" r="3.7"/><circle cx="320.6" cy="1810.1" r="3.7"/><circle cx="276.5" cy="1914.1" r="3.7"/><circle cx="339.8" cy="1779.6" r="3.7"/><circle cx="327.4" cy="1813.3" r="3.7"/><circle cx="250.0" cy="2017.1" r="3.7"/><circle cx="231.2" cy="2083.2" r="3.7"/><circle cx="256.0" cy="1899.4" r="3.7"/><circle cx="377.5" cy="1762.5" r="3.7"/><circle cx="326.2" cy="1883.6" r="3.7"/><circle cx="265.9" cy="2015.9" r="3.7"/><circle cx="296.9" cy="1867.1" r="3.7"/><circle cx="261.5" cy="1941.7" r="3.7"/><circle cx="243.9" cy="2029.6" r="3.7"/><circle cx="364.5" cy="1790.8" r="3.7"/><circle cx="300.9" cy="1810.5" r="3.7"/><circle cx="216.3" cy="2094.1" r="3.7"/><circle cx="287.1" cy="1853.0" r="3.7"/><circle cx="225.5" cy="2074.8" r="3.7"/><circle cx="242.3" cy="2015.9" r="3.7"/><circle cx="246.9" cy="2023.1" r="3.7"/><circle cx="309.9" cy="1852.7" r="3.7"/><circle cx="230.0" cy="2061.5" r="3.7"/><circle cx="330.2" cy="1788.8" r="3.7"/><circle cx="348.1" cy="1796.2" r="3.7"/><circle cx="303.8" cy="1871.9" r="3.7"/><circle cx="326.0" cy="1838.7" r="3.7"/><circle cx="254.2" cy="2012.3" r="3.7"/><circle cx="359.8" cy="1789.8" r="3.7"/><circle cx="230.9" cy="2050.6" r="3.7"/><circle cx="344.6" cy="1856.3" r="3.7"/><circle cx="276.6" cy="1930.4" r="3.7"/><circle cx="233.4" cy="2077.8" r="3.7"/><circle cx="360.0" cy="1767.9" r="3.7"/><circle cx="372.6" cy="1735.9" r="3.7"/><circle cx="340.2" cy="1802.5" r="3.7"/><circle cx="345.7" cy="1792.7" r="3.7"/><circle cx="244.7" cy="2043.6" r="3.7"/><circle cx="287.4" cy="1893.9" r="3.7"/><circle cx="326.3" cy="1839.5" r="3.7"/><circle cx="302.6" cy="1879.5" r="3.7"/><circle cx="238.0" cy="2009.4" r="3.7"/><circle cx="320.4" cy="1800.7" r="3.7"/><circle cx="240.9" cy="2037.2" r="3.7"/><circle cx="302.1" cy="1835.6" r="3.7"/><circle cx="361.6" cy="1801.1" r="3.7"/><circle cx="256.5" cy="1924.3" r="3.7"/><circle cx="376.1" cy="1762.4" r="3.7"/><circle cx="255.8" cy="1973.2" r="3.7"/><circle cx="277.8" cy="1971.6" r="3.7"/><circle cx="273.2" cy="1942.7" r="3.7"/><circle cx="242.7" cy="1991.1" r="3.7"/><circle cx="298.9" cy="1916.5" r="3.7"/><circle cx="297.0" cy="1907.1" r="3.7"/><circle cx="238.3" cy="2044.9" r="3.7"/><circle cx="252.0" cy="2018.5" r="3.7"/><circle cx="318.2" cy="1844.4" r="3.7"/><circle cx="291.7" cy="1892.0" r="3.7"/><circle cx="223.1" cy="2098.2" r="3.7"/><circle cx="278.4" cy="1924.1" r="3.7"/><circle cx="273.9" cy="1958.3" r="3.7"/><circle cx="308.5" cy="1886.0" r="3.7"/><circle cx="346.6" cy="1825.9" r="3.7"/><circle cx="273.5" cy="1964.8" r="3.7"/><circle cx="253.4" cy="1962.1" r="3.7"/><circle cx="334.1" cy="1814.2" r="3.7"/><circle cx="283.2" cy="1946.6" r="3.7"/><circle cx="234.4" cy="2094.9" r="3.7"/><circle cx="241.4" cy="2018.9" r="3.7"/><circle cx="297.5" cy="1870.1" r="3.7"/><circle cx="270.2" cy="1947.6" r="3.7"/><circle cx="228.0" cy="2107.6" r="3.7"/><circle cx="352.8" cy="1772.3" r="3.7"/><circle cx="299.3" cy="1866.7" r="3.7"/><circle cx="277.4" cy="1905.2" r="3.7"/><circle cx="284.5" cy="1874.6" r="3.7"/><circle cx="375.2" cy="1746.6" r="3.7"/><circle cx="265.6" cy="1997.2" r="3.7"/><circle cx="259.5" cy="2011.5" r="3.7"/><circle cx="291.8" cy="1908.5" r="3.7"/><circle cx="257.3" cy="2001.7" r="3.7"/><circle cx="264.2" cy="2003.8" r="3.7"/><circle cx="359.8" cy="1789.8" r="3.7"/><circle cx="299.7" cy="1894.4" r="3.7"/><circle cx="294.7" cy="1936.8" r="3.7"/><circle cx="295.7" cy="1877.9" r="3.7"/><circle cx="250.5" cy="2029.7" r="3.7"/><circle cx="276.1" cy="1967.0" r="3.7"/><circle cx="354.3" cy="1781.2" r="3.7"/><circle cx="280.9" cy="1899.6" r="3.7"/><circle cx="285.4" cy="2001.0" r="3.7"/><circle cx="242.1" cy="2054.2" r="3.7"/><circle cx="222.9" cy="2091.6" r="3.7"/><circle cx="279.2" cy="1945.0" r="3.7"/><circle cx="239.4" cy="2055.7" r="3.7"/><circle cx="243.5" cy="1978.9" r="3.7"/><circle cx="316.9" cy="1797.0" r="3.7"/><circle cx="326.3" cy="1829.0" r="3.7"/><circle cx="312.8" cy="1811.0" r="3.7"/><circle cx="368.6" cy="1760.7" r="3.7"/><circle cx="329.4" cy="1818.5" r="3.7"/><circle cx="267.5" cy="1922.5" r="3.7"/><circle cx="292.0" cy="1880.0" r="3.7"/><circle cx="271.7" cy="1940.2" r="3.7"/><circle cx="255.5" cy="1964.1" r="3.7"/><circle cx="270.4" cy="1966.5" r="3.7"/><circle cx="254.4" cy="1921.8" r="3.7"/><circle cx="224.5" cy="2111.9" r="3.7"/><circle cx="225.9" cy="2106.7" r="3.7"/><circle cx="222.1" cy="2111.5" r="3.7"/><circle cx="222.2" cy="2107.0" r="3.7"/><circle cx="219.7" cy="2103.8" r="3.7"/><circle cx="222.6" cy="2108.3" r="3.7"/><circle cx="227.6" cy="2093.6" r="3.7"/><circle cx="222.6" cy="2112.2" r="3.7"/><circle cx="222.6" cy="2103.6" r="3.7"/><circle cx="222.4" cy="2098.7" r="3.7"/><circle cx="225.4" cy="2076.6" r="3.7"/><circle cx="223.6" cy="2102.2" r="3.7"/><circle cx="220.3" cy="2111.3" r="3.7"/><circle cx="226.0" cy="2106.2" r="3.7"/><circle cx="229.2" cy="2099.5" r="3.7"/><circle cx="220.1" cy="2109.6" r="3.7"/><circle cx="224.7" cy="2106.8" r="3.7"/><circle cx="225.5" cy="2104.0" r="3.7"/><circle cx="222.6" cy="2095.0" r="3.7"/><circle cx="223.2" cy="2103.0" r="3.7"/><circle cx="225.4" cy="2101.1" r="3.7"/><circle cx="223.4" cy="2105.4" r="3.7"/><circle cx="224.0" cy="2095.4" r="3.7"/><circle cx="224.6" cy="2111.0" r="3.7"/><circle cx="224.3" cy="2094.9" r="3.7"/><circle cx="222.7" cy="2110.3" r="3.7"/><circle cx="221.6" cy="2102.1" r="3.7"/><circle cx="217.2" cy="2101.0" r="3.7"/><circle cx="221.6" cy="2106.7" r="3.7"/><circle cx="224.5" cy="2110.5" r="3.7"/><circle cx="175.1" cy="1863.0" r="3.7"/><circle cx="165.5" cy="1878.6" r="3.7"/><circle cx="182.8" cy="1909.9" r="3.7"/><circle cx="186.4" cy="1923.9" r="3.7"/><circle cx="178.0" cy="1935.9" r="3.7"/><circle cx="188.8" cy="1935.9" r="3.7"/><circle cx="190.0" cy="1933.5" r="3.7"/><circle cx="199.6" cy="1944.8" r="3.7"/><circle cx="179.2" cy="1958.0" r="3.7"/><circle cx="193.6" cy="1962.3" r="3.7"/><circle cx="196.0" cy="1964.7" r="3.7"/><circle cx="184.0" cy="1970.8" r="3.7"/><circle cx="194.8" cy="1992.4" r="3.7"/><circle cx="202.0" cy="1994.8" r="3.7"/><circle cx="192.4" cy="2014.5" r="3.7"/><circle cx="199.6" cy="2009.2" r="3.7"/><circle cx="202.0" cy="2010.4" r="3.7"/><circle cx="201.5" cy="2019.3" r="3.7"/><circle cx="204.4" cy="2027.3" r="3.7"/><circle cx="191.2" cy="2042.4" r="3.7"/><circle cx="203.2" cy="2040.0" r="3.7"/><circle cx="209.2" cy="2036.9" r="3.7"/><circle cx="210.4" cy="2050.6" r="3.7"/><circle cx="192.4" cy="2065.8" r="3.7"/><circle cx="199.6" cy="2068.2" r="3.7"/><circle cx="206.8" cy="2060.9" r="3.7"/><circle cx="208.0" cy="2070.6" r="3.7"/><circle cx="205.6" cy="2076.6" r="3.7"/><circle cx="210.4" cy="2079.0" r="3.7"/><circle cx="211.6" cy="2086.2" r="3.7"/><circle cx="214.0" cy="2092.2" r="3.7"/><circle cx="209.2" cy="2088.6" r="3.7"/><circle cx="212.8" cy="2098.2" r="3.7"/><circle cx="216.5" cy="2103.0" r="3.7"/><circle cx="215.2" cy="2109.0" r="3.7"/><circle cx="217.7" cy="2112.7" r="3.7"/><circle cx="221.3" cy="2115.1" r="3.7"/><circle cx="224.9" cy="2112.7" r="3.7"/><circle cx="227.3" cy="2107.8" r="3.7"/><circle cx="222.5" cy="2107.8" r="3.7"/><circle cx="218.9" cy="2105.4" r="3.7"/><circle cx="228.5" cy="2100.6" r="3.7"/><circle cx="230.9" cy="2095.8" r="3.7"/><circle cx="226.1" cy="2093.4" r="3.7"/><circle cx="229.7" cy="2088.6" r="3.7"/><circle cx="232.1" cy="2085.0" r="3.7"/><circle cx="234.5" cy="2083.8" r="3.7"/><circle cx="238.1" cy="2081.4" r="3.7"/><circle cx="240.5" cy="2080.2" r="3.7"/><circle cx="227.3" cy="2083.8" r="3.7"/><circle cx="220.1" cy="2100.6" r="3.7"/><circle cx="214.0" cy="2079.0" r="3.7"/><circle cx="206.8" cy="2064.6" r="3.7"/><circle cx="217.7" cy="2095.8" r="3.7"/><circle cx="162.7" cy="1876.6" r="3.7"/><circle cx="174.4" cy="1862.6" r="3.7"/><circle cx="118.5" cy="1792.3" r="3.7"/><circle cx="136.0" cy="1769.8" r="3.7"/><circle cx="360.5" cy="1935.7" r="3.7"/><circle cx="314.0" cy="2011.6" r="3.7"/><circle cx="412.9" cy="1842.9" r="3.7"/><circle cx="421.0" cy="1826.0" r="3.7"/><circle cx="331.4" cy="1969.4" r="3.7"/><circle cx="333.8" cy="1972.3" r="3.7"/><circle cx="337.2" cy="1913.2" r="3.7"/><circle cx="337.2" cy="1918.8" r="3.7"/><circle cx="372.2" cy="1856.9" r="3.7"/><circle cx="383.8" cy="1845.7" r="3.7"/><circle cx="389.6" cy="1840.1" r="3.7"/><circle cx="407.1" cy="1856.9" r="3.7"/><circle cx="424.5" cy="1820.4" r="3.7"/><circle cx="436.1" cy="1811.9" r="3.7"/><circle cx="453.6" cy="1806.3" r="3.7"/><circle cx="442.0" cy="1772.6" r="3.7"/><circle cx="298.9" cy="1778.2" r="3.7"/><circle cx="279.1" cy="1795.1" r="3.7"/><circle cx="273.3" cy="1814.8" r="3.7"/><circle cx="436.1" cy="1747.3" r="3.7"/><circle cx="447.8" cy="1744.4" r="3.7"/><circle cx="401.2" cy="1755.7" r="3.7"/><circle cx="407.1" cy="1738.8" r="3.7"/></g>
<g fill="#b5261e"><circle cx="338.4" cy="1737.2" r="3.7"/><circle cx="370.6" cy="1736.2" r="3.7"/><circle cx="382.0" cy="1734.0" r="3.7"/><circle cx="389.0" cy="1731.0" r="3.7"/><circle cx="394.6" cy="1725.3" r="3.7"/><circle cx="391.4" cy="1730.2" r="3.7"/><circle cx="405.5" cy="1708.3" r="3.7"/><circle cx="443.6" cy="1737.6" r="3.7"/><circle cx="466.8" cy="1690.0" r="3.7"/><circle cx="481.4" cy="1690.0" r="3.7"/><circle cx="477.8" cy="1699.6" r="3.7"/><circle cx="479.0" cy="1706.8" r="3.7"/><circle cx="486.2" cy="1709.2" r="3.7"/><circle cx="492.6" cy="1718.4" r="3.7"/><circle cx="512.7" cy="1709.2" r="3.7"/><circle cx="515.4" cy="1719.6" r="3.7"/><circle cx="522.3" cy="1690.7" r="3.7"/><circle cx="524.7" cy="1693.0" r="3.7"/><circle cx="527.1" cy="1703.6" r="3.7"/><circle cx="542.0" cy="1694.0" r="3.7"/><circle cx="457.2" cy="1725.0" r="3.7"/><circle cx="456.0" cy="1728.6" r="3.7"/><circle cx="469.8" cy="1720.2" r="3.7"/><circle cx="473.8" cy="1726.0" r="3.7"/><circle cx="480.6" cy="1743.4" r="3.7"/><circle cx="466.2" cy="1752.4" r="3.7"/><circle cx="474.5" cy="1753.6" r="3.7"/><circle cx="484.0" cy="1754.1" r="3.7"/><circle cx="479.1" cy="1761.3" r="3.7"/><circle cx="477.3" cy="1769.2" r="3.7"/><circle cx="495.9" cy="1761.3" r="3.7"/><circle cx="499.7" cy="1757.8" r="3.7"/><circle cx="498.4" cy="1772.0" r="3.7"/><circle cx="490.8" cy="1775.5" r="3.7"/><circle cx="469.8" cy="1777.3" r="3.7"/><circle cx="498.6" cy="1800.0" r="3.7"/><circle cx="480.0" cy="1703.0" r="3.7"/><circle cx="393.0" cy="1722.0" r="3.7"/><circle cx="386.0" cy="1733.0" r="3.7"/></g>
<g stroke="#6b6b6b" stroke-width="1.3"><line x1="592.5" y1="1554.0" x2="522.8" y2="1688.7"/><line x1="496.3" y1="1585.3" x2="486.2" y2="1708.0"/><line x1="552.1" y1="1584.1" x2="522.3" y2="1690.7"/><line x1="438.1" y1="1610.6" x2="478.3" y2="1699.6"/><line x1="483.1" y1="1613.0" x2="481.4" y2="1689.2"/><line x1="539.1" y1="1614.2" x2="524.7" y2="1693.0"/><line x1="388.1" y1="1638.2" x2="478.3" y2="1705.6"/><line x1="450.6" y1="1647.8" x2="467.0" y2="1690.0"/><line x1="519.2" y1="1656.3" x2="492.7" y2="1718.0"/><line x1="588.2" y1="1644.2" x2="542.0" y2="1694.0"/><line x1="439.8" y1="1669.5" x2="473.5" y2="1724.8"/><line x1="343.3" y1="1676.1" x2="456.6" y2="1726.2"/><line x1="546.3" y1="1681.0" x2="527.6" y2="1703.6"/><line x1="617.0" y1="1676.7" x2="527.1" y2="1703.6"/><line x1="457.8" y1="1704.4" x2="471.1" y2="1722.4"/><line x1="548.0" y1="1708.5" x2="515.6" y2="1720.0"/><line x1="388.1" y1="1713.3" x2="457.4" y2="1725.3"/><line x1="625.0" y1="1732.0" x2="484.3" y2="1753.7"/><line x1="574.5" y1="1766.9" x2="500.0" y2="1758.0"/><line x1="459.5" y1="1772.9" x2="479.0" y2="1761.4"/><line x1="384.2" y1="1773.4" x2="473.2" y2="1754.1"/><line x1="572.5" y1="1801.0" x2="499.6" y2="1757.7"/><line x1="437.6" y1="1805.8" x2="468.4" y2="1777.4"/><line x1="469.6" y1="1805.8" x2="477.5" y2="1769.7"/><line x1="501.5" y1="1815.4" x2="491.2" y2="1775.8"/><line x1="492.4" y1="1834.7" x2="498.4" y2="1801.0"/></g>
<text x="596.4" y="1560.8" font-size="19.6" font-weight="bold">ELF5</text>
<text x="457.3" y="1581.2" font-size="19.6">ZBTB7A</text>
<text x="555.5" y="1590.1" font-size="19.6" font-weight="bold">ELF3</text>
<text x="355.9" y="1615.9" font-size="19.6">HOXA10</text>
<text x="455.7" y="1609.4" font-size="19.6">CDX2</text>
<text x="542.7" y="1620.2" font-size="19.6" font-weight="bold">TEAD3</text>
<text x="329.8" y="1645" font-size="19.6">CDX1</text>
<text x="416" y="1647.1" font-size="19.6" font-weight="bold">TEAD4</text>
<text x="497" y="1652.7" font-size="19.6" font-weight="bold">ELK4</text>
<text x="590.8" y="1650.2" font-size="19.6" font-weight="bold">EHF</text>
<text x="371.2" y="1675.5" font-size="19.6" font-weight="bold">TEAD1</text>
<text x="289.3" y="1682.5" font-size="19.6" font-weight="bold">ETV6</text>
<text x="550.7" y="1685.1" font-size="19.6" font-weight="bold">ELF1</text>
<text x="620.9" y="1683.4" font-size="19.6" font-weight="bold">ELF4</text>
<text x="404" y="1709.2" font-size="19.6" font-weight="bold">ETS1</text>
<text x="551.1" y="1714.7" font-size="19.6">Gabpa</text>
<text x="319.2" y="1720.4" font-size="19.6" font-weight="bold">TEAD2</text>
<text x="627.9" y="1738.3" font-size="19.6" font-weight="bold">FEV</text>
<text x="498.2" y="1743.6" font-size="19.6">HOXC11</text>
<text x="375.2" y="1752.5" font-size="19.6">HOXC12</text>
<text x="578.4" y="1773.4" font-size="19.6" font-weight="bold">ETV4</text>
<text x="411.9" y="1781.8" font-size="19.6" font-weight="bold">ERG</text>
<text x="510.7" y="1790" font-size="19.6" font-weight="bold">ETV1</text>
<text x="313.9" y="1781.8" font-size="19.6">HNF1B</text>
<text x="575.6" y="1809.4" font-size="19.6" font-weight="bold">ELK1</text>
<text x="354.8" y="1813.5" font-size="19.6">HOXD12</text>
<text x="449.1" y="1823.1" font-size="19.6">FLI1</text>
<text x="505.1" y="1823.9" font-size="19.6" font-weight="bold">ELK3</text>
<text x="467.4" y="1852.2" font-size="19.6" font-weight="bold">ETV5</text>
<rect x="76.5" y="1525.8" width="637.9" height="618.4" fill="none" stroke="#333" stroke-width="1.4"/>
<line x1="104.5" y1="2144.2" x2="104.5" y2="2148.7" stroke="#333" stroke-width="1.3"/>
<text x="104.5" y="2170.5" font-size="20.7" text-anchor="middle" fill="#4d4d4d">−0.1</text>
<line x1="220.9" y1="2144.2" x2="220.9" y2="2148.7" stroke="#333" stroke-width="1.3"/>
<text x="220.9" y="2170.5" font-size="20.7" text-anchor="middle" fill="#4d4d4d">0.0</text>
<line x1="337.2" y1="2144.2" x2="337.2" y2="2148.7" stroke="#333" stroke-width="1.3"/>
<text x="337.2" y="2170.5" font-size="20.7" text-anchor="middle" fill="#4d4d4d">0.1</text>
<line x1="453.6" y1="2144.2" x2="453.6" y2="2148.7" stroke="#333" stroke-width="1.3"/>
<text x="453.6" y="2170.5" font-size="20.7" text-anchor="middle" fill="#4d4d4d">0.2</text>
<line x1="570" y1="2144.2" x2="570" y2="2148.7" stroke="#333" stroke-width="1.3"/>
<text x="570" y="2170.5" font-size="20.7" text-anchor="middle" fill="#4d4d4d">0.3</text>
<line x1="686.3" y1="2144.2" x2="686.3" y2="2148.7" stroke="#333" stroke-width="1.3"/>
<text x="686.3" y="2170.5" font-size="20.7" text-anchor="middle" fill="#4d4d4d">0.4</text>
<line x1="72" y1="2115.7" x2="76.5" y2="2115.7" stroke="#333" stroke-width="1.3"/>
<text x="69.5" y="2123" font-size="20.6" text-anchor="end" fill="#4d4d4d">0</text>
<line x1="72" y1="1975.1" x2="76.5" y2="1975.1" stroke="#333" stroke-width="1.3"/>
<text x="69.5" y="1982.4" font-size="20.6" text-anchor="end" fill="#4d4d4d">50</text>
<line x1="72" y1="1834.4" x2="76.5" y2="1834.4" stroke="#333" stroke-width="1.3"/>
<text x="69.5" y="1841.7" font-size="20.6" text-anchor="end" fill="#4d4d4d">100</text>
<line x1="72" y1="1693.8" x2="76.5" y2="1693.8" stroke="#333" stroke-width="1.3"/>
<text x="69.5" y="1701.1" font-size="20.6" text-anchor="end" fill="#4d4d4d">150</text>
<line x1="72" y1="1553.2" x2="76.5" y2="1553.2" stroke="#333" stroke-width="1.3"/>
<text x="69.5" y="1560.5" font-size="16.2" text-anchor="end" fill="#4d4d4d">200</text>
<text x="384" y="2212" font-size="27" text-anchor="middle">Differential binding score</text>
<text transform="translate(21.3 1818) rotate(-90)" font-size="27" text-anchor="middle">-log10(p-value)</text>
<text x="759" y="1520.8" font-size="48" font-weight="bold">e</text>
<text x="1007.5" y="1514.7" font-size="27" text-anchor="middle">TEAD TFs</text>
<text x="1284.6" y="1514.7" font-size="27.2" text-anchor="middle">ETS-like TFs</text>
<text transform="translate(885.2 1573.7) rotate(-90)" font-size="21.5" textLength="65.1" lengthAdjust="spacingAndGlyphs" text-anchor="middle">TEAD3</text>
<line x1="901.3" y1="1601.2" x2="901.3" y2="1551.2" stroke="#888" stroke-width="0.6"/>
<line x1="901.3" y1="1601.5" x2="1106.8" y2="1601.5" stroke="#aaa" stroke-width="1.0"/>
<line x1="899.3" y1="1601.2" x2="901.3" y2="1601.2" stroke="#888" stroke-width="0.5"/>
<text x="898.3" y="1602.6" font-size="4.2" text-anchor="end" fill="#666">0.0</text>
<line x1="899.3" y1="1588.7" x2="901.3" y2="1588.7" stroke="#888" stroke-width="0.5"/>
<text x="898.3" y="1590.1" font-size="4.2" text-anchor="end" fill="#666">0.5</text>
<line x1="899.3" y1="1576.2" x2="901.3" y2="1576.2" stroke="#888" stroke-width="0.5"/>
<text x="898.3" y="1577.6" font-size="4.2" text-anchor="end" fill="#666">1.0</text>
<line x1="899.3" y1="1563.7" x2="901.3" y2="1563.7" stroke="#888" stroke-width="0.5"/>
<text x="898.3" y="1565.1" font-size="4.2" text-anchor="end" fill="#666">1.5</text>
<line x1="899.3" y1="1551.2" x2="901.3" y2="1551.2" stroke="#888" stroke-width="0.5"/>
<text x="898.3" y="1552.6" font-size="4.2" text-anchor="end" fill="#666">2.0</text>
<text x="912" y="1607.2" font-size="4.2" text-anchor="middle" fill="#777">0</text>
<text x="932.4" y="1607.2" font-size="4.2" text-anchor="middle" fill="#777">1</text>
<text x="952.8" y="1607.2" font-size="4.2" text-anchor="middle" fill="#777">2</text>
<text x="973.2" y="1607.2" font-size="4.2" text-anchor="middle" fill="#777">3</text>
<text x="993.6" y="1607.2" font-size="4.2" text-anchor="middle" fill="#777">4</text>
<text x="1014" y="1607.2" font-size="4.2" text-anchor="middle" fill="#777">5</text>
<text x="1034.4" y="1607.2" font-size="4.2" text-anchor="middle" fill="#777">6</text>
<text x="1054.8" y="1607.2" font-size="4.2" text-anchor="middle" fill="#777">7</text>
<text x="1075.2" y="1607.2" font-size="4.2" text-anchor="middle" fill="#777">8</text>
<text x="1095.6" y="1607.2" font-size="4.2" text-anchor="middle" fill="#777">9</text>
<text transform="translate(901.81 1601.20) scale(0.2832 0.0109)" font-size="100" font-weight="bold" fill="#0c8a3c">A</text>
<text transform="translate(901.32 1600.43) scale(0.2905 0.0177)" font-size="100" font-weight="bold" fill="#3552a8">C</text>
<text transform="translate(922.56 1601.20) scale(0.3227 0.0145)" font-size="100" font-weight="bold" fill="#dc2b23">T</text>
<text transform="translate(921.76 1600.14) scale(0.2815 0.0672)" font-size="100" font-weight="bold" fill="#f4a51e">G</text>
<text transform="translate(922.21 1595.45) scale(0.2832 0.1017)" font-size="100" font-weight="bold" fill="#0c8a3c">A</text>
<text transform="translate(942.61 1601.20) scale(0.2832 0.0872)" font-size="100" font-weight="bold" fill="#0c8a3c">A</text>
<text transform="translate(942.12 1594.95) scale(0.2905 0.2829)" font-size="100" font-weight="bold" fill="#3552a8">C</text>
<text transform="translate(963.36 1601.20) scale(0.3227 0.0182)" font-size="100" font-weight="bold" fill="#dc2b23">T</text>
<text transform="translate(963.01 1599.95) scale(0.2832 0.5051)" font-size="100" font-weight="bold" fill="#0c8a3c">A</text>
<text transform="translate(983.76 1601.20) scale(0.3227 0.6686)" font-size="100" font-weight="bold" fill="#dc2b23">T</text>
<text transform="translate(1003.81 1601.20) scale(0.2832 0.0872)" font-size="100" font-weight="bold" fill="#0c8a3c">A</text>
<text transform="translate(1004.16 1595.20) scale(0.3227 0.2762)" font-size="100" font-weight="bold" fill="#dc2b23">T</text>
<text transform="translate(1024.56 1601.20) scale(0.3227 0.0182)" font-size="100" font-weight="bold" fill="#dc2b23">T</text>
<text transform="translate(1023.72 1599.45) scale(0.2905 0.5516)" font-size="100" font-weight="bold" fill="#3552a8">C</text>
<text transform="translate(1044.96 1601.20) scale(0.3227 0.1017)" font-size="100" font-weight="bold" fill="#dc2b23">T</text>
<text transform="translate(1044.12 1593.89) scale(0.2905 0.3430)" font-size="100" font-weight="bold" fill="#3552a8">C</text>
<text transform="translate(1064.56 1601.19) scale(0.2815 0.0141)" font-size="100" font-weight="bold" fill="#f4a51e">G</text>
<text transform="translate(1065.36 1600.20) scale(0.3227 0.0254)" font-size="100" font-weight="bold" fill="#dc2b23">T</text>
<text transform="translate(1065.01 1598.45) scale(0.2832 0.0545)" font-size="100" font-weight="bold" fill="#0c8a3c">A</text>
<text transform="translate(1084.92 1601.19) scale(0.2905 0.0106)" font-size="100" font-weight="bold" fill="#3552a8">C</text>
<text transform="translate(1085.76 1600.45) scale(0.3227 0.0109)" font-size="100" font-weight="bold" fill="#dc2b23">T</text>
<text transform="translate(885.2 1655.9) rotate(-90)" font-size="21.5" textLength="64.2" lengthAdjust="spacingAndGlyphs" text-anchor="middle">TEAD2</text>
<line x1="902.2" y1="1677.3" x2="902.2" y2="1629.9" stroke="#888" stroke-width="0.6"/>
<line x1="902.2" y1="1677.6" x2="1106.2" y2="1677.6" stroke="#aaa" stroke-width="1.0"/>
<line x1="900.2" y1="1677.3" x2="902.2" y2="1677.3" stroke="#888" stroke-width="0.5"/>
<text x="899.2" y="1678.7" font-size="4.2" text-anchor="end" fill="#666">0.0</text>
<line x1="900.2" y1="1665.5" x2="902.2" y2="1665.5" stroke="#888" stroke-width="0.5"/>
<text x="899.2" y="1666.9" font-size="4.2" text-anchor="end" fill="#666">0.5</text>
<line x1="900.2" y1="1653.6" x2="902.2" y2="1653.6" stroke="#888" stroke-width="0.5"/>
<text x="899.2" y="1655" font-size="4.2" text-anchor="end" fill="#666">1.0</text>
<line x1="900.2" y1="1641.8" x2="902.2" y2="1641.8" stroke="#888" stroke-width="0.5"/>
<text x="899.2" y="1643.2" font-size="4.2" text-anchor="end" fill="#666">1.5</text>
<line x1="900.2" y1="1629.9" x2="902.2" y2="1629.9" stroke="#888" stroke-width="0.5"/>
<text x="899.2" y="1631.3" font-size="4.2" text-anchor="end" fill="#666">2.0</text>
<text x="910.4" y="1683.3" font-size="4.2" text-anchor="middle" fill="#777">0</text>
<text x="926" y="1683.3" font-size="4.2" text-anchor="middle" fill="#777">1</text>
<text x="941.6" y="1683.3" font-size="4.2" text-anchor="middle" fill="#777">2</text>
<text x="957.2" y="1683.3" font-size="4.2" text-anchor="middle" fill="#777">3</text>
<text x="972.8" y="1683.3" font-size="4.2" text-anchor="middle" fill="#777">4</text>
<text x="988.4" y="1683.3" font-size="4.2" text-anchor="middle" fill="#777">5</text>
<text x="1004" y="1683.3" font-size="4.2" text-anchor="middle" fill="#777">6</text>
<text x="1019.6" y="1683.3" font-size="4.2" text-anchor="middle" fill="#777">7</text>
<text x="1035.2" y="1683.3" font-size="4.2" text-anchor="middle" fill="#777">8</text>
<text x="1050.8" y="1683.3" font-size="4.2" text-anchor="middle" fill="#777">9</text>
<text x="1066.4" y="1683.3" font-size="4.2" text-anchor="middle" fill="#777">10</text>
<text x="1082" y="1683.3" font-size="4.2" text-anchor="middle" fill="#777">11</text>
<text x="1097.6" y="1683.3" font-size="4.2" text-anchor="middle" fill="#777">12</text>
<text transform="translate(918.47 1677.30) scale(0.2467 0.0138)" font-size="100" font-weight="bold" fill="#dc2b23">T</text>
<text transform="translate(917.84 1676.34) scale(0.2222 0.0168)" font-size="100" font-weight="bold" fill="#3552a8">C</text>
<text transform="translate(933.46 1677.25) scale(0.2153 0.0503)" font-size="100" font-weight="bold" fill="#f4a51e">G</text>
<text transform="translate(933.80 1673.74) scale(0.2165 0.3031)" font-size="100" font-weight="bold" fill="#0c8a3c">A</text>
<text transform="translate(949.40 1677.30) scale(0.2165 0.0379)" font-size="100" font-weight="bold" fill="#0c8a3c">A</text>
<text transform="translate(949.04 1674.34) scale(0.2222 0.3922)" font-size="100" font-weight="bold" fill="#3552a8">C</text>
<text transform="translate(965.27 1677.30) scale(0.2467 0.0138)" font-size="100" font-weight="bold" fill="#dc2b23">T</text>
<text transform="translate(965.00 1676.35) scale(0.2165 0.5305)" font-size="100" font-weight="bold" fill="#0c8a3c">A</text>
<text transform="translate(980.87 1677.30) scale(0.2467 0.5684)" font-size="100" font-weight="bold" fill="#dc2b23">T</text>
<text transform="translate(996.20 1677.30) scale(0.2165 0.0172)" font-size="100" font-weight="bold" fill="#0c8a3c">A</text>
<text transform="translate(996.47 1676.12) scale(0.2467 0.4926)" font-size="100" font-weight="bold" fill="#dc2b23">T</text>
<text transform="translate(1012.07 1677.30) scale(0.2467 0.0344)" font-size="100" font-weight="bold" fill="#dc2b23">T</text>
<text transform="translate(1011.44 1674.53) scale(0.2222 0.4425)" font-size="100" font-weight="bold" fill="#3552a8">C</text>
<text transform="translate(1027.67 1677.30) scale(0.2467 0.0207)" font-size="100" font-weight="bold" fill="#dc2b23">T</text>
<text transform="translate(1027.04 1675.43) scale(0.2222 0.5028)" font-size="100" font-weight="bold" fill="#3552a8">C</text>
<text transform="translate(1043.27 1677.30) scale(0.2467 0.0310)" font-size="100" font-weight="bold" fill="#dc2b23">T</text>
<text transform="translate(1043.00 1675.17) scale(0.2165 0.0517)" font-size="100" font-weight="bold" fill="#0c8a3c">A</text>
<text transform="translate(1058.24 1677.29) scale(0.2222 0.0101)" font-size="100" font-weight="bold" fill="#3552a8">C</text>
<text transform="translate(1089.44 1677.28) scale(0.2222 0.0168)" font-size="100" font-weight="bold" fill="#3552a8">C</text>
<text transform="translate(885.2 1735.6) rotate(-90)" font-size="21.5" textLength="61.6" lengthAdjust="spacingAndGlyphs" text-anchor="middle">TEAD1</text>
<line x1="901.7" y1="1758.6" x2="901.7" y2="1709.6" stroke="#888" stroke-width="0.6"/>
<line x1="901.7" y1="1758.9" x2="1116.4" y2="1758.9" stroke="#aaa" stroke-width="1.0"/>
<line x1="899.7" y1="1758.6" x2="901.7" y2="1758.6" stroke="#888" stroke-width="0.5"/>
<text x="898.7" y="1760" font-size="4.2" text-anchor="end" fill="#666">0.0</text>
<line x1="899.7" y1="1746.3" x2="901.7" y2="1746.3" stroke="#888" stroke-width="0.5"/>
<text x="898.7" y="1747.8" font-size="4.2" text-anchor="end" fill="#666">0.5</text>
<line x1="899.7" y1="1734.1" x2="901.7" y2="1734.1" stroke="#888" stroke-width="0.5"/>
<text x="898.7" y="1735.5" font-size="4.2" text-anchor="end" fill="#666">1.0</text>
<line x1="899.7" y1="1721.8" x2="901.7" y2="1721.8" stroke="#888" stroke-width="0.5"/>
<text x="898.7" y="1723.2" font-size="4.2" text-anchor="end" fill="#666">1.5</text>
<line x1="899.7" y1="1709.6" x2="901.7" y2="1709.6" stroke="#888" stroke-width="0.5"/>
<text x="898.7" y="1711" font-size="4.2" text-anchor="end" fill="#666">2.0</text>
<text x="913" y="1764.6" font-size="4.2" text-anchor="middle" fill="#777">0</text>
<text x="934.3" y="1764.6" font-size="4.2" text-anchor="middle" fill="#777">1</text>
<text x="955.6" y="1764.6" font-size="4.2" text-anchor="middle" fill="#777">2</text>
<text x="976.9" y="1764.6" font-size="4.2" text-anchor="middle" fill="#777">3</text>
<text x="998.2" y="1764.6" font-size="4.2" text-anchor="middle" fill="#777">4</text>
<text x="1019.5" y="1764.6" font-size="4.2" text-anchor="middle" fill="#777">5</text>
<text x="1040.8" y="1764.6" font-size="4.2" text-anchor="middle" fill="#777">6</text>
<text x="1062.1" y="1764.6" font-size="4.2" text-anchor="middle" fill="#777">7</text>
<text x="1083.4" y="1764.6" font-size="4.2" text-anchor="middle" fill="#777">8</text>
<text x="1104.7" y="1764.6" font-size="4.2" text-anchor="middle" fill="#777">9</text>
<text transform="translate(902.36 1758.60) scale(0.2957 0.0107)" font-size="100" font-weight="bold" fill="#0c8a3c">A</text>
<text transform="translate(901.85 1757.85) scale(0.3034 0.0173)" font-size="100" font-weight="bold" fill="#3552a8">C</text>
<text transform="translate(924.02 1758.60) scale(0.3369 0.0178)" font-size="100" font-weight="bold" fill="#dc2b23">T</text>
<text transform="translate(923.19 1757.32) scale(0.2939 0.0624)" font-size="100" font-weight="bold" fill="#f4a51e">G</text>
<text transform="translate(923.66 1752.96) scale(0.2957 0.1068)" font-size="100" font-weight="bold" fill="#0c8a3c">A</text>
<text transform="translate(944.96 1758.60) scale(0.2957 0.0748)" font-size="100" font-weight="bold" fill="#0c8a3c">A</text>
<text transform="translate(944.45 1753.19) scale(0.3034 0.2946)" font-size="100" font-weight="bold" fill="#3552a8">C</text>
<text transform="translate(965.75 1758.58) scale(0.3034 0.0173)" font-size="100" font-weight="bold" fill="#3552a8">C</text>
<text transform="translate(966.26 1757.38) scale(0.2957 0.5057)" font-size="100" font-weight="bold" fill="#0c8a3c">A</text>
<text transform="translate(987.92 1758.60) scale(0.3369 0.6659)" font-size="100" font-weight="bold" fill="#dc2b23">T</text>
<text transform="translate(1008.86 1758.60) scale(0.2957 0.0926)" font-size="100" font-weight="bold" fill="#0c8a3c">A</text>
<text transform="translate(1009.22 1752.23) scale(0.3369 0.2706)" font-size="100" font-weight="bold" fill="#dc2b23">T</text>
<text transform="translate(1030.16 1758.60) scale(0.2957 0.0178)" font-size="100" font-weight="bold" fill="#0c8a3c">A</text>
<text transform="translate(1029.65 1756.88) scale(0.3034 0.5545)" font-size="100" font-weight="bold" fill="#3552a8">C</text>
<text transform="translate(1051.82 1758.60) scale(0.3369 0.0997)" font-size="100" font-weight="bold" fill="#dc2b23">T</text>
<text transform="translate(1050.95 1751.44) scale(0.3034 0.3327)" font-size="100" font-weight="bold" fill="#3552a8">C</text>
<text transform="translate(1072.29 1758.59) scale(0.2939 0.0139)" font-size="100" font-weight="bold" fill="#f4a51e">G</text>
<text transform="translate(1073.12 1757.62) scale(0.3369 0.0249)" font-size="100" font-weight="bold" fill="#dc2b23">T</text>
<text transform="translate(1072.76 1755.90) scale(0.2957 0.0499)" font-size="100" font-weight="bold" fill="#0c8a3c">A</text>
<text transform="translate(1093.55 1758.59) scale(0.3034 0.0104)" font-size="100" font-weight="bold" fill="#3552a8">C</text>
<text transform="translate(1094.42 1757.87) scale(0.3369 0.0107)" font-size="100" font-weight="bold" fill="#dc2b23">T</text>
<text transform="translate(1166.9 1565.2) rotate(-90)" font-size="21.5" textLength="39.1" lengthAdjust="spacingAndGlyphs" text-anchor="middle">EHF</text>
<line x1="1183.1" y1="1598.3" x2="1183.1" y2="1548.3" stroke="#888" stroke-width="0.6"/>
<line x1="1183.1" y1="1598.6" x2="1384.4" y2="1598.6" stroke="#aaa" stroke-width="1.0"/>
<line x1="1181.1" y1="1598.3" x2="1183.1" y2="1598.3" stroke="#888" stroke-width="0.5"/>
<text x="1180.1" y="1599.7" font-size="4.2" text-anchor="end" fill="#666">0.0</text>
<line x1="1181.1" y1="1585.8" x2="1183.1" y2="1585.8" stroke="#888" stroke-width="0.5"/>
<text x="1180.1" y="1587.2" font-size="4.2" text-anchor="end" fill="#666">0.5</text>
<line x1="1181.1" y1="1573.3" x2="1183.1" y2="1573.3" stroke="#888" stroke-width="0.5"/>
<text x="1180.1" y="1574.7" font-size="4.2" text-anchor="end" fill="#666">1.0</text>
<line x1="1181.1" y1="1560.8" x2="1183.1" y2="1560.8" stroke="#888" stroke-width="0.5"/>
<text x="1180.1" y="1562.2" font-size="4.2" text-anchor="end" fill="#666">1.5</text>
<line x1="1181.1" y1="1548.3" x2="1183.1" y2="1548.3" stroke="#888" stroke-width="0.5"/>
<text x="1180.1" y="1549.7" font-size="4.2" text-anchor="end" fill="#666">2.0</text>
<text x="1192.1" y="1604.3" font-size="4.2" text-anchor="middle" fill="#777">0</text>
<text x="1208.8" y="1604.3" font-size="4.2" text-anchor="middle" fill="#777">1</text>
<text x="1225.4" y="1604.3" font-size="4.2" text-anchor="middle" fill="#777">2</text>
<text x="1242" y="1604.3" font-size="4.2" text-anchor="middle" fill="#777">3</text>
<text x="1258.7" y="1604.3" font-size="4.2" text-anchor="middle" fill="#777">4</text>
<text x="1275.3" y="1604.3" font-size="4.2" text-anchor="middle" fill="#777">5</text>
<text x="1292" y="1604.3" font-size="4.2" text-anchor="middle" fill="#777">6</text>
<text x="1308.6" y="1604.3" font-size="4.2" text-anchor="middle" fill="#777">7</text>
<text x="1325.3" y="1604.3" font-size="4.2" text-anchor="middle" fill="#777">8</text>
<text x="1341.9" y="1604.3" font-size="4.2" text-anchor="middle" fill="#777">9</text>
<text x="1358.6" y="1604.3" font-size="4.2" text-anchor="middle" fill="#777">10</text>
<text x="1375.2" y="1604.3" font-size="4.2" text-anchor="middle" fill="#777">11</text>
<text transform="translate(1183.39 1598.29) scale(0.2371 0.0106)" font-size="100" font-weight="bold" fill="#3552a8">C</text>
<text transform="translate(1183.78 1597.55) scale(0.2311 0.0291)" font-size="100" font-weight="bold" fill="#0c8a3c">A</text>
<text transform="translate(1200.72 1598.30) scale(0.2633 0.0509)" font-size="100" font-weight="bold" fill="#dc2b23">T</text>
<text transform="translate(1200.43 1594.80) scale(0.2311 0.3270)" font-size="100" font-weight="bold" fill="#0c8a3c">A</text>
<text transform="translate(1217.08 1598.30) scale(0.2311 0.0363)" font-size="100" font-weight="bold" fill="#0c8a3c">A</text>
<text transform="translate(1216.69 1595.67) scale(0.2371 0.1485)" font-size="100" font-weight="bold" fill="#3552a8">C</text>
<text transform="translate(1233.37 1598.26) scale(0.2297 0.0495)" font-size="100" font-weight="bold" fill="#f4a51e">G</text>
<text transform="translate(1233.34 1594.58) scale(0.2371 0.2475)" font-size="100" font-weight="bold" fill="#3552a8">C</text>
<text transform="translate(1250.38 1598.30) scale(0.2311 0.0618)" font-size="100" font-weight="bold" fill="#0c8a3c">A</text>
<text transform="translate(1249.99 1593.68) scale(0.2371 0.4066)" font-size="100" font-weight="bold" fill="#3552a8">C</text>
<text transform="translate(1266.67 1597.69) scale(0.2297 0.6754)" font-size="100" font-weight="bold" fill="#f4a51e">G</text>
<text transform="translate(1283.32 1597.68) scale(0.2297 0.6860)" font-size="100" font-weight="bold" fill="#f4a51e">G</text>
<text transform="translate(1300.33 1598.30) scale(0.2311 0.6831)" font-size="100" font-weight="bold" fill="#0c8a3c">A</text>
<text transform="translate(1316.98 1598.30) scale(0.2311 0.6432)" font-size="100" font-weight="bold" fill="#0c8a3c">A</text>
<text transform="translate(1333.63 1598.30) scale(0.2311 0.0618)" font-size="100" font-weight="bold" fill="#0c8a3c">A</text>
<text transform="translate(1333.27 1593.72) scale(0.2297 0.3678)" font-size="100" font-weight="bold" fill="#f4a51e">G</text>
<text transform="translate(1349.89 1598.27) scale(0.2371 0.0354)" font-size="100" font-weight="bold" fill="#3552a8">C</text>
<text transform="translate(1350.57 1595.80) scale(0.2633 0.4288)" font-size="100" font-weight="bold" fill="#dc2b23">T</text>
<text transform="translate(1366.57 1598.27) scale(0.2297 0.0283)" font-size="100" font-weight="bold" fill="#f4a51e">G</text>
<text transform="translate(1366.93 1596.30) scale(0.2311 0.0618)" font-size="100" font-weight="bold" fill="#0c8a3c">A</text>
<text transform="translate(1166.9 1649) rotate(-90)" font-size="21.5" textLength="50.3" lengthAdjust="spacingAndGlyphs" text-anchor="middle">ETV4</text>
<line x1="1183" y1="1676.4" x2="1183" y2="1626.4" stroke="#888" stroke-width="0.6"/>
<line x1="1183" y1="1676.7" x2="1384.7" y2="1676.7" stroke="#aaa" stroke-width="1.0"/>
<line x1="1181" y1="1676.4" x2="1183" y2="1676.4" stroke="#888" stroke-width="0.5"/>
<text x="1180" y="1677.8" font-size="4.2" text-anchor="end" fill="#666">0.0</text>
<line x1="1181" y1="1663.9" x2="1183" y2="1663.9" stroke="#888" stroke-width="0.5"/>
<text x="1180" y="1665.3" font-size="4.2" text-anchor="end" fill="#666">0.5</text>
<line x1="1181" y1="1651.4" x2="1183" y2="1651.4" stroke="#888" stroke-width="0.5"/>
<text x="1180" y="1652.8" font-size="4.2" text-anchor="end" fill="#666">1.0</text>
<line x1="1181" y1="1638.9" x2="1183" y2="1638.9" stroke="#888" stroke-width="0.5"/>
<text x="1180" y="1640.3" font-size="4.2" text-anchor="end" fill="#666">1.5</text>
<line x1="1181" y1="1626.4" x2="1183" y2="1626.4" stroke="#888" stroke-width="0.5"/>
<text x="1180" y="1627.8" font-size="4.2" text-anchor="end" fill="#666">2.0</text>
<text x="1193" y="1682.4" font-size="4.2" text-anchor="middle" fill="#777">0</text>
<text x="1213.1" y="1682.4" font-size="4.2" text-anchor="middle" fill="#777">1</text>
<text x="1233.1" y="1682.4" font-size="4.2" text-anchor="middle" fill="#777">2</text>
<text x="1253.2" y="1682.4" font-size="4.2" text-anchor="middle" fill="#777">3</text>
<text x="1273.3" y="1682.4" font-size="4.2" text-anchor="middle" fill="#777">4</text>
<text x="1293.3" y="1682.4" font-size="4.2" text-anchor="middle" fill="#777">5</text>
<text x="1313.4" y="1682.4" font-size="4.2" text-anchor="middle" fill="#777">6</text>
<text x="1333.5" y="1682.4" font-size="4.2" text-anchor="middle" fill="#777">7</text>
<text x="1353.6" y="1682.4" font-size="4.2" text-anchor="middle" fill="#777">8</text>
<text x="1373.6" y="1682.4" font-size="4.2" text-anchor="middle" fill="#777">9</text>
<text transform="translate(1183.32 1676.40) scale(0.3174 0.0182)" font-size="100" font-weight="bold" fill="#dc2b23">T</text>
<text transform="translate(1182.53 1675.12) scale(0.2769 0.0354)" font-size="100" font-weight="bold" fill="#f4a51e">G</text>
<text transform="translate(1182.97 1672.65) scale(0.2786 0.0618)" font-size="100" font-weight="bold" fill="#0c8a3c">A</text>
<text transform="translate(1203.04 1676.40) scale(0.2786 0.0182)" font-size="100" font-weight="bold" fill="#0c8a3c">A</text>
<text transform="translate(1202.60 1675.11) scale(0.2769 0.0495)" font-size="100" font-weight="bold" fill="#f4a51e">G</text>
<text transform="translate(1202.57 1671.51) scale(0.2858 0.1591)" font-size="100" font-weight="bold" fill="#3552a8">C</text>
<text transform="translate(1223.11 1676.40) scale(0.2786 0.0618)" font-size="100" font-weight="bold" fill="#0c8a3c">A</text>
<text transform="translate(1222.64 1671.74) scale(0.2858 0.4526)" font-size="100" font-weight="bold" fill="#3552a8">C</text>
<text transform="translate(1242.74 1675.79) scale(0.2769 0.6754)" font-size="100" font-weight="bold" fill="#f4a51e">G</text>
<text transform="translate(1262.81 1675.80) scale(0.2769 0.6648)" font-size="100" font-weight="bold" fill="#f4a51e">G</text>
<text transform="translate(1283.32 1676.40) scale(0.2786 0.6940)" font-size="100" font-weight="bold" fill="#0c8a3c">A</text>
<text transform="translate(1303.74 1676.40) scale(0.3174 0.1017)" font-size="100" font-weight="bold" fill="#dc2b23">T</text>
<text transform="translate(1303.39 1669.40) scale(0.2786 0.2289)" font-size="100" font-weight="bold" fill="#0c8a3c">A</text>
<text transform="translate(1323.46 1676.40) scale(0.2786 0.0727)" font-size="100" font-weight="bold" fill="#0c8a3c">A</text>
<text transform="translate(1323.02 1671.27) scale(0.2769 0.1414)" font-size="100" font-weight="bold" fill="#f4a51e">G</text>
<text transform="translate(1343.09 1676.38) scale(0.2769 0.0177)" font-size="100" font-weight="bold" fill="#f4a51e">G</text>
<text transform="translate(1343.06 1675.11) scale(0.2858 0.0495)" font-size="100" font-weight="bold" fill="#3552a8">C</text>
<text transform="translate(1343.88 1671.65) scale(0.3174 0.1017)" font-size="100" font-weight="bold" fill="#dc2b23">T</text>
<text transform="translate(1363.60 1676.40) scale(0.2786 0.0218)" font-size="100" font-weight="bold" fill="#0c8a3c">A</text>
<text transform="translate(1166.9 1729) rotate(-90)" font-size="21.5" textLength="46.9" lengthAdjust="spacingAndGlyphs" text-anchor="middle">ETS1</text>
<line x1="1183" y1="1756.5" x2="1183" y2="1707.9" stroke="#888" stroke-width="0.6"/>
<line x1="1183" y1="1756.8" x2="1385.2" y2="1756.8" stroke="#aaa" stroke-width="1.0"/>
<line x1="1181" y1="1756.5" x2="1183" y2="1756.5" stroke="#888" stroke-width="0.5"/>
<text x="1180" y="1757.9" font-size="4.2" text-anchor="end" fill="#666">0.0</text>
<line x1="1181" y1="1744.3" x2="1183" y2="1744.3" stroke="#888" stroke-width="0.5"/>
<text x="1180" y="1745.8" font-size="4.2" text-anchor="end" fill="#666">0.5</text>
<line x1="1181" y1="1732.2" x2="1183" y2="1732.2" stroke="#888" stroke-width="0.5"/>
<text x="1180" y="1733.6" font-size="4.2" text-anchor="end" fill="#666">1.0</text>
<line x1="1181" y1="1720" x2="1183" y2="1720" stroke="#888" stroke-width="0.5"/>
<text x="1180" y="1721.5" font-size="4.2" text-anchor="end" fill="#666">1.5</text>
<line x1="1181" y1="1707.9" x2="1183" y2="1707.9" stroke="#888" stroke-width="0.5"/>
<text x="1180" y="1709.3" font-size="4.2" text-anchor="end" fill="#666">2.0</text>
<text x="1193.5" y="1762.5" font-size="4.2" text-anchor="middle" fill="#777">0</text>
<text x="1213.6" y="1762.5" font-size="4.2" text-anchor="middle" fill="#777">1</text>
<text x="1233.6" y="1762.5" font-size="4.2" text-anchor="middle" fill="#777">2</text>
<text x="1253.7" y="1762.5" font-size="4.2" text-anchor="middle" fill="#777">3</text>
<text x="1273.8" y="1762.5" font-size="4.2" text-anchor="middle" fill="#777">4</text>
<text x="1293.8" y="1762.5" font-size="4.2" text-anchor="middle" fill="#777">5</text>
<text x="1313.9" y="1762.5" font-size="4.2" text-anchor="middle" fill="#777">6</text>
<text x="1334" y="1762.5" font-size="4.2" text-anchor="middle" fill="#777">7</text>
<text x="1354.1" y="1762.5" font-size="4.2" text-anchor="middle" fill="#777">8</text>
<text x="1374.1" y="1762.5" font-size="4.2" text-anchor="middle" fill="#777">9</text>
<text transform="translate(1183.82 1756.50) scale(0.3174 0.0177)" font-size="100" font-weight="bold" fill="#dc2b23">T</text>
<text transform="translate(1183.03 1755.24) scale(0.2769 0.0481)" font-size="100" font-weight="bold" fill="#f4a51e">G</text>
<text transform="translate(1183.47 1751.88) scale(0.2786 0.1766)" font-size="100" font-weight="bold" fill="#0c8a3c">A</text>
<text transform="translate(1203.54 1756.50) scale(0.2786 0.0141)" font-size="100" font-weight="bold" fill="#0c8a3c">A</text>
<text transform="translate(1203.10 1755.49) scale(0.2769 0.0412)" font-size="100" font-weight="bold" fill="#f4a51e">G</text>
<text transform="translate(1203.07 1752.30) scale(0.2858 0.3437)" font-size="100" font-weight="bold" fill="#3552a8">C</text>
<text transform="translate(1223.61 1756.50) scale(0.2786 0.0706)" font-size="100" font-weight="bold" fill="#0c8a3c">A</text>
<text transform="translate(1223.14 1751.27) scale(0.2858 0.4159)" font-size="100" font-weight="bold" fill="#3552a8">C</text>
<text transform="translate(1243.24 1755.90) scale(0.2769 0.6702)" font-size="100" font-weight="bold" fill="#f4a51e">G</text>
<text transform="translate(1263.31 1755.89) scale(0.2769 0.6771)" font-size="100" font-weight="bold" fill="#f4a51e">G</text>
<text transform="translate(1283.82 1756.50) scale(0.2786 0.7064)" font-size="100" font-weight="bold" fill="#0c8a3c">A</text>
<text transform="translate(1304.24 1756.50) scale(0.3174 0.0954)" font-size="100" font-weight="bold" fill="#dc2b23">T</text>
<text transform="translate(1303.89 1749.94) scale(0.2786 0.2896)" font-size="100" font-weight="bold" fill="#0c8a3c">A</text>
<text transform="translate(1323.96 1756.50) scale(0.2786 0.1448)" font-size="100" font-weight="bold" fill="#0c8a3c">A</text>
<text transform="translate(1323.52 1746.38) scale(0.2769 0.1719)" font-size="100" font-weight="bold" fill="#f4a51e">G</text>
<text transform="translate(1343.56 1756.44) scale(0.2858 0.0722)" font-size="100" font-weight="bold" fill="#3552a8">C</text>
<text transform="translate(1344.38 1751.40) scale(0.3174 0.1766)" font-size="100" font-weight="bold" fill="#dc2b23">T</text>
<text transform="translate(1364.45 1756.50) scale(0.3174 0.0141)" font-size="100" font-weight="bold" fill="#dc2b23">T</text>
<text transform="translate(1363.66 1755.51) scale(0.2769 0.0172)" font-size="100" font-weight="bold" fill="#f4a51e">G</text>
<line x1="941.1" y1="1533.4" x2="941.1" y2="1777" stroke="#000" stroke-width="3.2" stroke-dasharray="3.6 3"/>
<line x1="1068" y1="1533.4" x2="1068" y2="1777" stroke="#000" stroke-width="3.2" stroke-dasharray="3.6 3"/>
<line x1="1201.7" y1="1533.4" x2="1201.7" y2="1777" stroke="#000" stroke-width="3.2" stroke-dasharray="3.6 3"/>
<line x1="1352.7" y1="1533.4" x2="1352.7" y2="1777" stroke="#000" stroke-width="3.2" stroke-dasharray="3.6 3"/>
<text x="757.5" y="1781.7" font-size="50" font-weight="bold">f</text>
<line x1="946.7" y1="1830.5" x2="946.7" y2="2146.6" stroke="#ebebeb" stroke-width="0.9"/>
<line x1="1081.5" y1="1830.5" x2="1081.5" y2="2146.6" stroke="#ebebeb" stroke-width="0.9"/>
<line x1="1216.3" y1="1830.5" x2="1216.3" y2="2146.6" stroke="#ebebeb" stroke-width="0.9"/>
<line x1="1351.1" y1="1830.5" x2="1351.1" y2="2146.6" stroke="#ebebeb" stroke-width="0.9"/>
<line x1="879.3" y1="1830.5" x2="879.3" y2="2146.6" stroke="#ebebeb" stroke-width="1.8"/>
<line x1="1014.1" y1="1830.5" x2="1014.1" y2="2146.6" stroke="#ebebeb" stroke-width="1.8"/>
<line x1="1148.9" y1="1830.5" x2="1148.9" y2="2146.6" stroke="#ebebeb" stroke-width="1.8"/>
<line x1="1283.7" y1="1830.5" x2="1283.7" y2="2146.6" stroke="#ebebeb" stroke-width="1.8"/>
<line x1="869.4" y1="1850.5" x2="1400.8" y2="1850.5" stroke="#ebebeb" stroke-width="1.8"/>
<line x1="869.4" y1="1885" x2="1400.8" y2="1885" stroke="#ebebeb" stroke-width="1.8"/>
<line x1="869.4" y1="1919.5" x2="1400.8" y2="1919.5" stroke="#ebebeb" stroke-width="1.8"/>
<line x1="869.4" y1="1954" x2="1400.8" y2="1954" stroke="#ebebeb" stroke-width="1.8"/>
<line x1="869.4" y1="1988.5" x2="1400.8" y2="1988.5" stroke="#ebebeb" stroke-width="1.8"/>
<line x1="869.4" y1="2023" x2="1400.8" y2="2023" stroke="#ebebeb" stroke-width="1.8"/>
<line x1="869.4" y1="2057.5" x2="1400.8" y2="2057.5" stroke="#ebebeb" stroke-width="1.8"/>
<line x1="869.4" y1="2092" x2="1400.8" y2="2092" stroke="#ebebeb" stroke-width="1.8"/>
<line x1="869.4" y1="2126.5" x2="1400.8" y2="2126.5" stroke="#ebebeb" stroke-width="1.8"/>
<rect x="892.8" y="1833.2" width="27.6" height="35.1" fill="#bc402c"/>
<rect x="919.7" y="1833.2" width="27.6" height="35.1" fill="#c05541"/>
<rect x="946.7" y="1833.2" width="27.6" height="35.1" fill="#b2281e"/>
<rect x="973.7" y="1833.2" width="27.6" height="35.1" fill="#b93728"/>
<rect x="1000.6" y="1833.2" width="27.6" height="35.1" fill="#b43223"/>
<rect x="1027.6" y="1833.2" width="27.6" height="35.1" fill="#b93a2a"/>
<rect x="1054.5" y="1833.2" width="27.6" height="35.1" fill="#c0705a"/>
<rect x="1081.5" y="1833.2" width="27.6" height="35.1" fill="#be604b"/>
<rect x="1108.5" y="1833.2" width="27.6" height="35.1" fill="#b43a28"/>
<rect x="1135.4" y="1833.2" width="27.6" height="35.1" fill="#be5541"/>
<rect x="1162.4" y="1833.2" width="27.6" height="35.1" fill="#c05f4b"/>
<rect x="1189.3" y="1833.2" width="27.6" height="35.1" fill="#c06452"/>
<rect x="1216.3" y="1833.2" width="27.6" height="35.1" fill="#bc503a"/>
<rect x="1243.3" y="1833.2" width="27.6" height="35.1" fill="#bc503a"/>
<rect x="1270.2" y="1833.2" width="27.6" height="35.1" fill="#bc503a"/>
<rect x="1297.2" y="1833.2" width="27.6" height="35.1" fill="#be5844"/>
<rect x="1324.1" y="1833.2" width="27.6" height="35.1" fill="#bc523e"/>
<rect x="1351.1" y="1833.2" width="27" height="35.1" fill="#be5a46"/>
<rect x="892.8" y="1867.8" width="27.6" height="35.1" fill="#be6450"/>
<rect x="919.7" y="1867.8" width="27.6" height="35.1" fill="#b94130"/>
<rect x="946.7" y="1867.8" width="27.6" height="35.1" fill="#be5a46"/>
<rect x="973.7" y="1867.8" width="27" height="35.1" fill="#c0705c"/>
<rect x="892.8" y="1902.2" width="27" height="35.1" fill="#c05f4b"/>
<rect x="892.8" y="1936.8" width="27.6" height="35.1" fill="#bc5844"/>
<rect x="919.7" y="1936.8" width="27.6" height="35.1" fill="#bc5844"/>
<rect x="946.7" y="1936.8" width="27" height="35.1" fill="#be5f4b"/>
<rect x="892.8" y="1971.2" width="27.6" height="35.1" fill="#c05c46"/>
<rect x="919.7" y="1971.2" width="27.6" height="35.1" fill="#c06450"/>
<rect x="946.7" y="1971.2" width="27.6" height="35.1" fill="#c07864"/>
<rect x="973.7" y="1971.2" width="27" height="35.1" fill="#c06450"/>
<rect x="892.8" y="2005.8" width="27.6" height="35.1" fill="#c48c80"/>
<rect x="919.7" y="2005.8" width="27" height="35.1" fill="#c4968a"/>
<rect x="892.8" y="2040.2" width="27.6" height="35.1" fill="#c49b91"/>
<rect x="919.7" y="2040.2" width="27" height="35.1" fill="#c4968c"/>
<rect x="892.8" y="2074.8" width="27.6" height="35.1" fill="#c49b91"/>
<rect x="919.7" y="2074.8" width="27.6" height="35.1" fill="#c49b91"/>
<rect x="946.7" y="2074.8" width="27.6" height="35.1" fill="#c49b91"/>
<rect x="973.7" y="2074.8" width="27" height="35.1" fill="#c4968c"/>
<rect x="892.8" y="2109.2" width="27.6" height="34.5" fill="#c4aaa2"/>
<rect x="919.7" y="2109.2" width="27" height="34.5" fill="#bebebe"/>
<rect x="869.4" y="1830.5" width="531.4" height="316.1" fill="none" stroke="#333" stroke-width="2"/>
<line x1="864" y1="1850.5" x2="869.4" y2="1850.5" stroke="#333" stroke-width="1.6"/>
<text x="859.5" y="1858.7" font-size="23.5" text-anchor="end">98-ETS/1</text>
<line x1="864" y1="1885" x2="869.4" y2="1885" stroke="#333" stroke-width="1.6"/>
<text x="859.5" y="1893.2" font-size="23.5" text-anchor="end">166-TEAD</text>
<line x1="864" y1="1919.5" x2="869.4" y2="1919.5" stroke="#333" stroke-width="1.6"/>
<text x="859.5" y="1927.7" font-size="23.5" text-anchor="end">10-HD/10</text>
<line x1="864" y1="1954" x2="869.4" y2="1954" stroke="#333" stroke-width="1.6"/>
<text x="859.5" y="1962.2" font-size="23.5" text-anchor="end">24-HD/18</text>
<line x1="864" y1="1988.5" x2="869.4" y2="1988.5" stroke="#333" stroke-width="1.6"/>
<text x="859.5" y="1996.7" font-size="23.5" text-anchor="end">22-HD/17</text>
<line x1="864" y1="2023" x2="869.4" y2="2023" stroke="#333" stroke-width="1.6"/>
<text x="859.5" y="2031.2" font-size="23.5" text-anchor="end">79-FOX/4</text>
<line x1="864" y1="2057.5" x2="869.4" y2="2057.5" stroke="#333" stroke-width="1.6"/>
<text x="859.5" y="2065.7" font-size="23.5" text-anchor="end">95/SPI</text>
<line x1="864" y1="2092" x2="869.4" y2="2092" stroke="#333" stroke-width="1.6"/>
<text x="859.5" y="2100.2" font-size="23.5" text-anchor="end">54-AP1/1</text>
<line x1="864" y1="2126.5" x2="869.4" y2="2126.5" stroke="#333" stroke-width="1.6"/>
<text x="859.5" y="2134.7" font-size="23.5" text-anchor="end">106-IRF/2</text>
<line x1="879.3" y1="2146.6" x2="879.3" y2="2150.6" stroke="#333" stroke-width="1.4"/>
<text x="879.3" y="2177" font-size="18.2" text-anchor="middle" fill="#222">0</text>
<line x1="1014.1" y1="2146.6" x2="1014.1" y2="2150.6" stroke="#333" stroke-width="1.4"/>
<text x="1014.1" y="2177" font-size="18.2" text-anchor="middle" fill="#222">5</text>
<line x1="1148.9" y1="2146.6" x2="1148.9" y2="2150.6" stroke="#333" stroke-width="1.4"/>
<text x="1148.9" y="2177" font-size="18.2" text-anchor="middle" fill="#222">10</text>
<line x1="1283.7" y1="2146.6" x2="1283.7" y2="2150.6" stroke="#333" stroke-width="1.4"/>
<text x="1283.7" y="2177" font-size="18.2" text-anchor="middle" fill="#222">15</text>
<text x="1106.6" y="2212.5" font-size="27.5" text-anchor="middle">No. of associated motifs</text>
<text transform="translate(1431.8 1993.8) rotate(-90)" font-size="27.5" text-anchor="middle">Archetype</text>
</svg>
</body></html>
